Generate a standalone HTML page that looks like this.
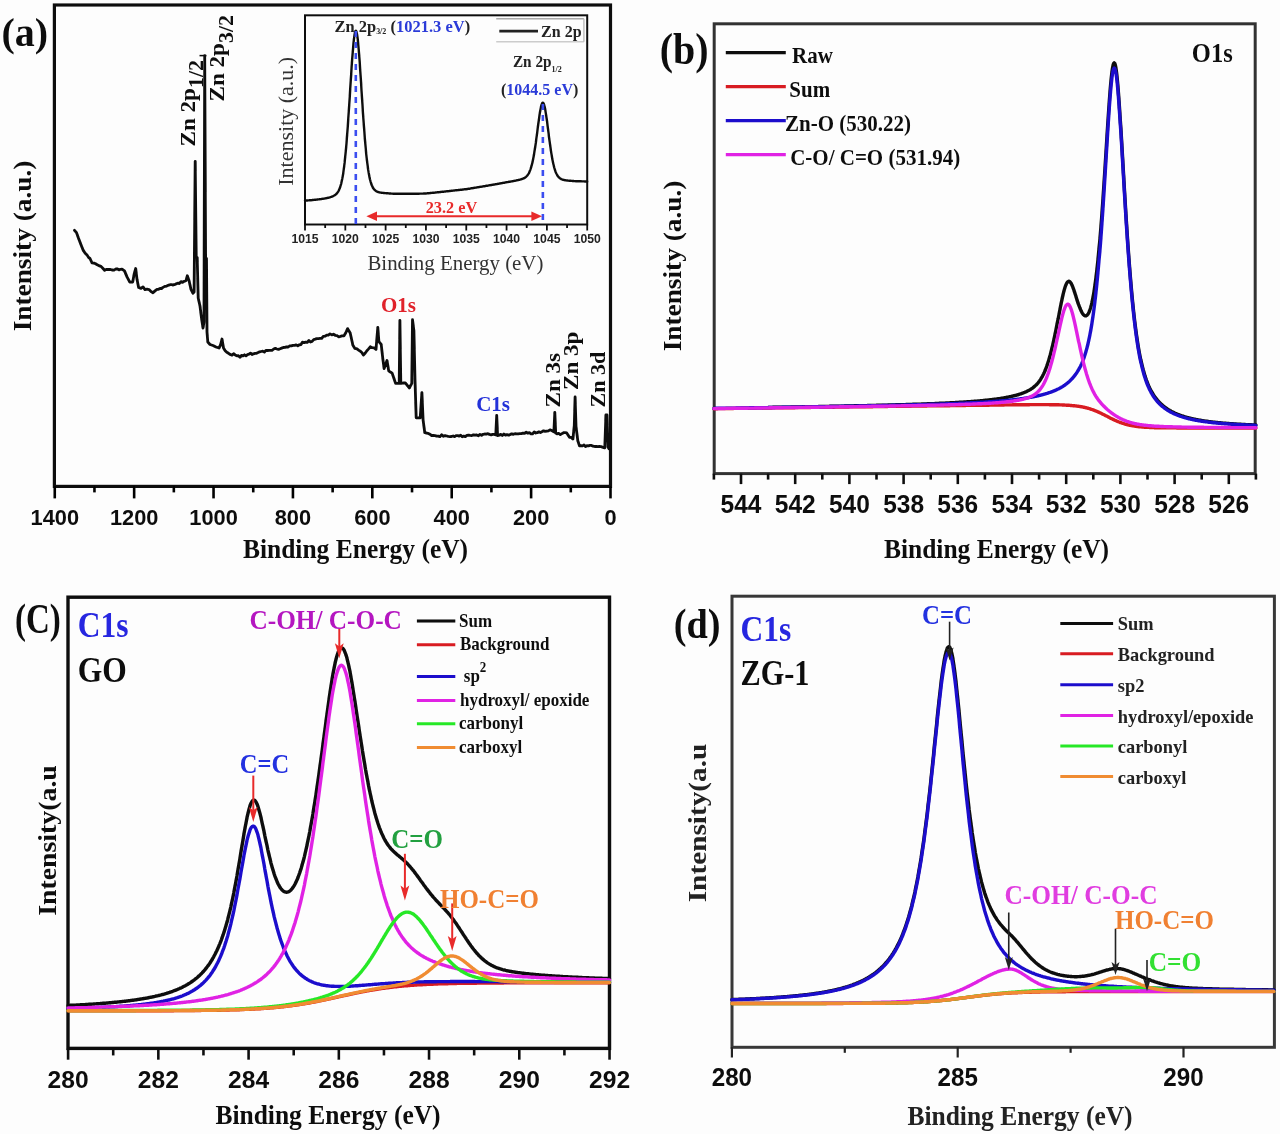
<!DOCTYPE html>
<html><head><meta charset="utf-8"><title>XPS figure</title>
<style>html,body{margin:0;padding:0;background:#fff;width:1280px;height:1134px;overflow:hidden}svg{display:block}</style>
</head><body>
<svg width="1280" height="1134" viewBox="0 0 1280 1134">
<defs><filter id="soft" x="0" y="0" width="1280" height="1134" filterUnits="userSpaceOnUse"><feGaussianBlur stdDeviation="0.45"/></filter></defs>
<rect x="0" y="0" width="1280" height="1134" fill="#fdfdfd"/>
<g filter="url(#soft)">
<rect x="54.40" y="5.00" width="556.10" height="481.40" fill="none" stroke="#111" stroke-width="3.2"/>
<line x1="610.50" y1="486.40" x2="610.50" y2="498.40" stroke="#000" stroke-width="2.6"/>
<line x1="570.80" y1="486.40" x2="570.80" y2="492.40" stroke="#000" stroke-width="2.6"/>
<line x1="531.11" y1="486.40" x2="531.11" y2="498.40" stroke="#000" stroke-width="2.6"/>
<line x1="491.41" y1="486.40" x2="491.41" y2="492.40" stroke="#000" stroke-width="2.6"/>
<line x1="451.72" y1="486.40" x2="451.72" y2="498.40" stroke="#000" stroke-width="2.6"/>
<line x1="412.02" y1="486.40" x2="412.02" y2="492.40" stroke="#000" stroke-width="2.6"/>
<line x1="372.32" y1="486.40" x2="372.32" y2="498.40" stroke="#000" stroke-width="2.6"/>
<line x1="332.63" y1="486.40" x2="332.63" y2="492.40" stroke="#000" stroke-width="2.6"/>
<line x1="292.93" y1="486.40" x2="292.93" y2="498.40" stroke="#000" stroke-width="2.6"/>
<line x1="253.24" y1="486.40" x2="253.24" y2="492.40" stroke="#000" stroke-width="2.6"/>
<line x1="213.54" y1="486.40" x2="213.54" y2="498.40" stroke="#000" stroke-width="2.6"/>
<line x1="173.84" y1="486.40" x2="173.84" y2="492.40" stroke="#000" stroke-width="2.6"/>
<line x1="134.15" y1="486.40" x2="134.15" y2="498.40" stroke="#000" stroke-width="2.6"/>
<line x1="94.45" y1="486.40" x2="94.45" y2="492.40" stroke="#000" stroke-width="2.6"/>
<line x1="54.76" y1="486.40" x2="54.76" y2="498.40" stroke="#000" stroke-width="2.6"/>
<text transform="translate(610.50,524.50) scale(1.0,1.04)" font-family='"Liberation Sans", sans-serif' font-weight="bold" font-size="21.8" fill="#111" text-anchor="middle">0</text>
<text transform="translate(531.11,524.50) scale(1.0,1.04)" font-family='"Liberation Sans", sans-serif' font-weight="bold" font-size="21.8" fill="#111" text-anchor="middle">200</text>
<text transform="translate(451.72,524.50) scale(1.0,1.04)" font-family='"Liberation Sans", sans-serif' font-weight="bold" font-size="21.8" fill="#111" text-anchor="middle">400</text>
<text transform="translate(372.32,524.50) scale(1.0,1.04)" font-family='"Liberation Sans", sans-serif' font-weight="bold" font-size="21.8" fill="#111" text-anchor="middle">600</text>
<text transform="translate(292.93,524.50) scale(1.0,1.04)" font-family='"Liberation Sans", sans-serif' font-weight="bold" font-size="21.8" fill="#111" text-anchor="middle">800</text>
<text transform="translate(213.54,524.50) scale(1.0,1.04)" font-family='"Liberation Sans", sans-serif' font-weight="bold" font-size="21.8" fill="#111" text-anchor="middle">1000</text>
<text transform="translate(134.15,524.50) scale(1.0,1.04)" font-family='"Liberation Sans", sans-serif' font-weight="bold" font-size="21.8" fill="#111" text-anchor="middle">1200</text>
<text transform="translate(54.76,524.50) scale(1.0,1.04)" font-family='"Liberation Sans", sans-serif' font-weight="bold" font-size="21.8" fill="#111" text-anchor="middle">1400</text>
<text transform="translate(355.50,557.60) scale(1.0,1.1)" font-family='"Liberation Serif", serif' font-weight="bold" font-size="25.5" fill="#111" text-anchor="middle">Binding Energy (eV)</text>
<text transform="translate(30.50,246.00) scale(1.0,1.12) rotate(-90)" font-family='"Liberation Serif", serif' font-weight="bold" font-size="24.4" fill="#111" text-anchor="middle">Intensity (a.u.)</text>
<text transform="translate(1.50,46.00) scale(1.0,1.0)" font-family='"Liberation Serif", serif' font-weight="bold" font-size="40" fill="#111" text-anchor="start">(a)</text>
<polyline points="74.5,230.3 76.5,232.6 78.5,238.2 81.0,244.7 83.3,250.4 85.2,253.2 87.0,254.9 88.5,257.4 90.0,258.5 92.0,262.8 94.0,263.1 95.6,263.8 97.2,264.8 98.8,265.6 101.0,266.4 102.8,268.3 104.6,270.3 106.3,269.4 108.0,269.5 110.0,269.4 112.0,270.0 114.0,270.1 116.0,268.8 117.5,269.0 119.0,269.9 120.5,269.3 122.0,269.1 124.5,270.9 127.0,276.9 129.8,282.2 132.7,282.1 134.2,273.8 135.7,268.5 137.0,279.3 138.6,287.5 141.0,288.4 143.0,286.9 145.0,289.6 147.0,289.2 149.0,289.6 151.0,291.6 153.0,292.7 155.0,290.9 157.0,289.4 158.5,289.3 160.0,288.5 161.5,288.5 163.0,287.4 164.8,286.4 166.7,286.1 168.8,285.1 171.0,284.5 172.7,285.0 174.3,284.7 176.0,283.9 177.7,283.2 179.3,283.5 181.0,281.6 182.5,282.4 184.0,281.3 186.0,280.7 187.3,275.8 189.0,280.5 191.0,289.4 192.9,293.2 194.1,292.0 195.2,161.3 196.2,257.0 197.2,257.5 198.2,298.0 200.0,306.0 201.5,318.0 203.0,328.0 204.0,322.0 204.7,55.6 205.6,258.0 206.5,258.5 207.0,332.0 207.8,342.0 210.0,344.5 211.5,345.0 213.0,345.5 214.5,346.2 216.0,347.0 217.5,347.5 219.0,348.0 220.5,345.0 222.0,339.0 223.5,348.0 225.2,350.7 226.8,352.3 228.5,353.3 230.3,354.5 232.0,355.1 233.6,353.7 235.2,355.0 236.8,355.8 238.4,355.7 240.0,357.3 241.5,355.4 243.0,355.9 244.5,354.8 246.0,355.8 247.5,354.7 249.0,354.2 250.5,353.1 252.0,354.6 253.5,353.8 255.0,353.4 256.6,353.3 258.1,352.6 259.7,351.8 261.2,351.5 262.8,351.2 264.4,352.1 265.9,350.3 267.5,350.5 269.1,350.3 270.6,350.4 272.2,350.3 273.7,349.0 275.3,348.4 276.9,349.0 278.5,349.4 280.1,348.8 281.7,348.1 283.3,347.5 285.0,347.4 286.6,346.8 288.2,347.0 289.8,345.8 291.4,345.9 293.0,345.4 294.6,345.4 296.2,344.9 297.8,345.8 299.4,344.8 301.0,344.5 302.5,342.1 304.1,342.7 305.7,342.2 307.3,342.4 308.9,340.5 310.5,342.0 312.1,341.4 313.7,339.6 315.2,339.2 316.8,338.7 318.4,338.6 320.0,338.4 321.7,338.4 323.3,336.4 325.0,336.2 326.7,335.1 328.3,335.2 330.0,333.9 331.8,334.9 333.5,334.2 335.2,335.3 337.0,335.6 338.8,336.8 340.5,336.4 342.2,335.8 344.0,335.8 345.8,332.8 347.6,328.6 350.2,333.0 352.9,345.3 354.9,348.4 357.0,348.9 358.6,350.1 360.2,351.2 361.8,352.5 363.4,355.0 365.1,353.2 366.9,350.7 368.6,348.9 370.3,346.8 372.2,347.7 374.1,347.8 376.0,349.3 377.8,327.3 378.9,341.7 381.2,344.4 382.9,359.3 384.1,368.5 387.0,360.5 388.7,370.8 390.4,372.0 392.1,373.1 393.9,378.2 395.6,383.4 397.4,383.4 399.2,383.4 399.9,320.3 400.8,383.4 402.3,383.2 403.8,383.0 405.3,382.8 407.3,385.4 409.3,388.0 411.8,383.4 412.5,319.7 413.9,330.6 415.0,380.0 416.2,417.8 418.2,417.8 420.2,417.8 421.9,392.6 423.1,420.1 424.8,432.7 426.5,433.0 428.2,433.4 430.0,434.3 431.7,435.5 433.4,435.4 435.0,435.6 436.7,436.1 438.4,436.1 440.0,436.7 441.7,434.7 443.3,436.3 445.0,435.6 446.7,436.0 448.3,436.4 450.0,436.6 451.5,436.5 453.1,436.0 454.6,436.7 456.1,435.6 457.6,435.7 459.2,436.1 460.7,435.3 462.2,436.8 463.8,436.1 465.3,436.7 466.9,435.4 468.6,435.1 470.2,435.4 471.8,435.6 473.5,434.8 475.1,435.2 476.7,434.9 478.4,435.8 480.0,434.4 481.6,435.3 483.2,434.3 484.7,434.0 486.3,434.1 487.9,433.7 489.5,434.4 491.1,434.8 492.6,434.3 494.2,434.4 495.8,434.9 496.7,415.3 497.6,435.6 499.2,435.2 500.8,434.3 502.3,435.5 503.9,434.0 505.5,435.2 507.1,434.7 508.7,435.2 510.3,434.4 511.8,433.8 513.4,434.3 515.0,433.7 516.6,433.8 518.2,433.9 519.8,433.7 521.4,433.6 523.0,433.1 524.6,433.4 526.2,432.2 527.8,433.2 529.4,432.6 531.0,433.8 532.6,433.8 534.2,431.9 535.8,433.0 537.3,432.6 538.9,431.9 540.4,432.5 541.9,431.7 543.5,430.8 545.0,431.4 546.7,431.1 548.4,430.9 550.0,429.8 551.7,430.5 553.9,431.9 554.8,412.4 555.7,433.1 557.0,433.8 558.7,433.4 560.3,434.6 562.0,433.6 563.6,432.7 565.1,432.7 566.7,432.9 569.5,437.3 571.2,437.4 572.9,439.1 574.3,425.3 575.1,397.0 576.0,426.3 577.8,440.7 579.5,445.9 581.0,445.6 582.5,445.9 584.0,445.0 585.5,446.6 587.0,445.6 588.5,445.8 590.0,445.3 591.5,445.4 593.1,446.2 594.6,446.5 596.2,446.4 597.8,446.7 599.3,446.5 601.1,446.7 603.0,447.3 604.8,447.9 605.9,415.0 607.0,415.0 608.0,447.0 609.0,448.7" fill="none" stroke="#0a0a0a" stroke-width="2.8" stroke-linejoin="round" stroke-linecap="round"/>
<line x1="199.50" y1="55.60" x2="206.50" y2="55.60" stroke="#111" stroke-width="1.5"/>
<text transform="translate(381.00,312.00) scale(1.0,1.0)" font-family='"Liberation Serif", serif' font-weight="bold" font-size="21" fill="#e0202a" text-anchor="start">O1s</text>
<text transform="translate(476.20,410.80) scale(1.0,1.0)" font-family='"Liberation Serif", serif' font-weight="bold" font-size="21" fill="#2430d8" text-anchor="start">C1s</text>
<text transform="translate(194.80,146.50) scale(1,1.1) rotate(-90)" font-family='"Liberation Serif", serif' font-weight="bold" font-size="21" fill="#111">Zn 2p<tspan dy="8.5" font-size="20">1/2</tspan></text>
<text transform="translate(224.30,101.50) scale(1,1.1) rotate(-90)" font-family='"Liberation Serif", serif' font-weight="bold" font-size="21" fill="#111">Zn 2p<tspan dy="8.5" font-size="20">3/2</tspan></text>
<text transform="translate(560.00,407.50) scale(1.0,1.1) rotate(-90)" font-family='"Liberation Serif", serif' font-weight="bold" font-size="21" fill="#111" text-anchor="start">Zn 3s</text>
<text transform="translate(577.80,390.00) scale(1.0,1.1) rotate(-90)" font-family='"Liberation Serif", serif' font-weight="bold" font-size="21" fill="#111" text-anchor="start">Zn 3p</text>
<text transform="translate(605.00,407.50) scale(1.0,1.1) rotate(-90)" font-family='"Liberation Serif", serif' font-weight="bold" font-size="20" fill="#111" text-anchor="start">Zn 3d</text>
<rect x="305.00" y="15.30" width="282.20" height="209.20" fill="none" stroke="#111" stroke-width="2"/>
<line x1="305.00" y1="224.50" x2="305.00" y2="230.50" stroke="#111" stroke-width="1.8"/>
<line x1="325.16" y1="224.50" x2="325.16" y2="228.00" stroke="#111" stroke-width="1.8"/>
<line x1="345.31" y1="224.50" x2="345.31" y2="230.50" stroke="#111" stroke-width="1.8"/>
<line x1="365.47" y1="224.50" x2="365.47" y2="228.00" stroke="#111" stroke-width="1.8"/>
<line x1="385.63" y1="224.50" x2="385.63" y2="230.50" stroke="#111" stroke-width="1.8"/>
<line x1="405.79" y1="224.50" x2="405.79" y2="228.00" stroke="#111" stroke-width="1.8"/>
<line x1="425.94" y1="224.50" x2="425.94" y2="230.50" stroke="#111" stroke-width="1.8"/>
<line x1="446.10" y1="224.50" x2="446.10" y2="228.00" stroke="#111" stroke-width="1.8"/>
<line x1="466.26" y1="224.50" x2="466.26" y2="230.50" stroke="#111" stroke-width="1.8"/>
<line x1="486.42" y1="224.50" x2="486.42" y2="228.00" stroke="#111" stroke-width="1.8"/>
<line x1="506.58" y1="224.50" x2="506.58" y2="230.50" stroke="#111" stroke-width="1.8"/>
<line x1="526.73" y1="224.50" x2="526.73" y2="228.00" stroke="#111" stroke-width="1.8"/>
<line x1="546.89" y1="224.50" x2="546.89" y2="230.50" stroke="#111" stroke-width="1.8"/>
<line x1="567.05" y1="224.50" x2="567.05" y2="228.00" stroke="#111" stroke-width="1.8"/>
<line x1="587.21" y1="224.50" x2="587.21" y2="230.50" stroke="#111" stroke-width="1.8"/>
<text transform="translate(305.00,243.30) scale(1.0,1.03)" font-family='"Liberation Sans", sans-serif' font-weight="bold" font-size="12.2" fill="#222" text-anchor="middle">1015</text>
<text transform="translate(345.31,243.30) scale(1.0,1.03)" font-family='"Liberation Sans", sans-serif' font-weight="bold" font-size="12.2" fill="#222" text-anchor="middle">1020</text>
<text transform="translate(385.63,243.30) scale(1.0,1.03)" font-family='"Liberation Sans", sans-serif' font-weight="bold" font-size="12.2" fill="#222" text-anchor="middle">1025</text>
<text transform="translate(425.94,243.30) scale(1.0,1.03)" font-family='"Liberation Sans", sans-serif' font-weight="bold" font-size="12.2" fill="#222" text-anchor="middle">1030</text>
<text transform="translate(466.26,243.30) scale(1.0,1.03)" font-family='"Liberation Sans", sans-serif' font-weight="bold" font-size="12.2" fill="#222" text-anchor="middle">1035</text>
<text transform="translate(506.58,243.30) scale(1.0,1.03)" font-family='"Liberation Sans", sans-serif' font-weight="bold" font-size="12.2" fill="#222" text-anchor="middle">1040</text>
<text transform="translate(546.89,243.30) scale(1.0,1.03)" font-family='"Liberation Sans", sans-serif' font-weight="bold" font-size="12.2" fill="#222" text-anchor="middle">1045</text>
<text transform="translate(587.21,243.30) scale(1.0,1.03)" font-family='"Liberation Sans", sans-serif' font-weight="bold" font-size="12.2" fill="#222" text-anchor="middle">1050</text>
<text transform="translate(455.40,270.40) scale(1.0,0.98)" font-family='"Liberation Serif", serif' font-weight="normal" font-size="20.9" fill="#333" text-anchor="middle">Binding Energy (eV)</text>
<text transform="translate(292.60,121.30) scale(1.0,1.1) rotate(-90)" font-family='"Liberation Serif", serif' font-weight="normal" font-size="20" fill="#333" text-anchor="middle">Intensity (a.u.)</text>
<polyline points="305.0,200.6 305.5,200.6 305.9,200.6 306.4,200.5 306.9,200.5 307.4,200.5 307.8,200.4 308.3,200.4 308.8,200.4 309.2,200.3 309.7,200.3 310.2,200.2 310.7,200.2 311.1,200.2 311.6,200.1 312.1,200.1 312.5,200.0 313.0,200.0 313.5,199.9 314.0,199.9 314.4,199.8 314.9,199.8 315.4,199.7 315.8,199.7 316.3,199.6 316.8,199.6 317.2,199.5 317.7,199.5 318.2,199.4 318.7,199.4 319.1,199.3 319.6,199.3 320.1,199.2 320.5,199.1 321.0,199.1 321.5,199.0 322.0,198.9 322.4,198.9 322.9,198.8 323.4,198.7 323.8,198.6 324.3,198.6 324.8,198.5 325.3,198.4 325.7,198.3 326.2,198.2 326.7,198.1 327.1,198.0 327.6,197.9 328.1,197.8 328.6,197.7 329.0,197.6 329.5,197.5 330.0,197.3 330.4,197.2 330.9,197.0 331.4,196.8 331.9,196.7 332.3,196.5 332.8,196.3 333.3,196.0 333.7,195.8 334.2,195.5 334.7,195.2 335.2,194.9 335.6,194.6 336.1,194.1 336.6,193.7 337.0,193.2 337.5,192.6 338.0,191.9 338.5,191.1 338.9,190.2 339.4,189.1 339.9,188.0 340.3,186.6 340.8,185.0 341.3,183.3 341.7,181.3 342.2,179.0 342.7,176.4 343.2,173.6 343.6,170.4 344.1,166.8 344.6,162.9 345.0,158.6 345.5,153.9 346.0,148.9 346.5,143.4 346.9,137.6 347.4,131.4 347.9,124.9 348.3,118.0 348.8,111.0 349.3,103.7 349.8,96.3 350.2,88.9 350.7,81.4 351.2,74.1 351.6,67.0 352.1,60.2 352.6,53.9 353.1,48.1 353.5,42.9 354.0,38.6 354.5,35.1 354.9,32.6 355.4,31.1 355.9,30.8 356.4,31.5 356.8,33.2 357.3,36.0 357.8,39.7 358.2,44.2 358.7,49.5 359.2,55.5 359.7,61.9 360.1,68.7 360.6,75.8 361.1,83.1 361.5,90.5 362.0,97.9 362.5,105.1 362.9,112.3 363.4,119.2 363.9,125.8 364.4,132.1 364.8,138.1 365.3,143.7 365.8,149.0 366.2,153.8 366.7,158.3 367.2,162.3 367.7,166.0 368.1,169.4 368.6,172.4 369.1,175.0 369.5,177.4 370.0,179.5 370.5,181.3 371.0,182.9 371.4,184.3 371.9,185.5 372.4,186.6 372.8,187.5 373.3,188.3 373.8,188.9 374.3,189.5 374.7,190.0 375.2,190.4 375.7,190.8 376.1,191.1 376.6,191.3 377.1,191.6 377.6,191.8 378.0,192.0 378.5,192.1 379.0,192.2 379.4,192.4 379.9,192.5 380.4,192.6 380.9,192.6 381.3,192.7 381.8,192.8 382.3,192.8 382.7,192.9 383.2,192.9 383.7,193.0 384.1,193.0 384.6,193.1 385.1,193.1 385.6,193.1 386.0,193.2 386.5,193.2 387.0,193.3 387.4,193.3 387.9,193.3 388.4,193.4 388.9,193.4 389.3,193.5 389.8,193.5 390.3,193.5 390.7,193.5 391.2,193.6 391.7,193.6 392.2,193.6 392.6,193.6 393.1,193.7 393.6,193.7 394.0,193.7 394.5,193.7 395.0,193.7 395.5,193.7 395.9,193.7 396.4,193.8 396.9,193.8 397.3,193.8 397.8,193.8 398.3,193.8 398.8,193.8 399.2,193.8 399.7,193.8 400.2,193.8 400.6,193.8 401.1,193.8 401.6,193.8 402.1,193.8 402.5,193.8 403.0,193.8 403.5,193.8 403.9,193.8 404.4,193.8 404.9,193.8 405.4,193.8 405.8,193.8 406.3,193.8 406.8,193.8 407.2,193.8 407.7,193.8 408.2,193.8 408.6,193.8 409.1,193.8 409.6,193.8 410.1,193.8 410.5,193.8 411.0,193.8 411.5,193.8 411.9,193.8 412.4,193.8 412.9,193.8 413.4,193.8 413.8,193.8 414.3,193.7 414.8,193.7 415.2,193.7 415.7,193.7 416.2,193.7 416.7,193.7 417.1,193.7 417.6,193.7 418.1,193.7 418.5,193.7 419.0,193.7 419.5,193.6 420.0,193.6 420.4,193.6 420.9,193.6 421.4,193.6 421.8,193.6 422.3,193.6 422.8,193.6 423.3,193.6 423.7,193.5 424.2,193.5 424.7,193.5 425.1,193.5 425.6,193.5 426.1,193.5 426.6,193.4 427.0,193.4 427.5,193.3 428.0,193.3 428.4,193.2 428.9,193.2 429.4,193.1 429.8,193.1 430.3,193.0 430.8,193.0 431.3,192.9 431.7,192.9 432.2,192.9 432.7,192.8 433.1,192.8 433.6,192.7 434.1,192.7 434.6,192.6 435.0,192.6 435.5,192.5 436.0,192.5 436.4,192.4 436.9,192.4 437.4,192.3 437.9,192.3 438.3,192.2 438.8,192.2 439.3,192.1 439.7,192.1 440.2,192.0 440.7,192.0 441.2,191.9 441.6,191.9 442.1,191.8 442.6,191.8 443.0,191.7 443.5,191.7 444.0,191.6 444.5,191.6 444.9,191.5 445.4,191.5 445.9,191.4 446.3,191.4 446.8,191.3 447.3,191.3 447.8,191.2 448.2,191.2 448.7,191.1 449.2,191.1 449.6,191.0 450.1,191.0 450.6,190.9 451.0,190.8 451.5,190.8 452.0,190.7 452.5,190.7 452.9,190.6 453.4,190.6 453.9,190.5 454.3,190.5 454.8,190.4 455.3,190.4 455.8,190.3 456.2,190.3 456.7,190.2 457.2,190.2 457.6,190.1 458.1,190.1 458.6,190.0 459.1,190.0 459.5,189.9 460.0,189.9 460.5,189.8 460.9,189.8 461.4,189.7 461.9,189.7 462.4,189.6 462.8,189.5 463.3,189.5 463.8,189.4 464.2,189.4 464.7,189.3 465.2,189.3 465.7,189.2 466.1,189.2 466.6,189.1 467.1,189.0 467.5,189.0 468.0,188.9 468.5,188.8 469.0,188.7 469.4,188.7 469.9,188.6 470.4,188.5 470.8,188.4 471.3,188.3 471.8,188.3 472.3,188.2 472.7,188.1 473.2,188.0 473.7,188.0 474.1,187.9 474.6,187.8 475.1,187.7 475.5,187.6 476.0,187.6 476.5,187.5 477.0,187.4 477.4,187.3 477.9,187.3 478.4,187.2 478.8,187.1 479.3,187.0 479.8,186.9 480.3,186.9 480.7,186.8 481.2,186.7 481.7,186.6 482.1,186.6 482.6,186.5 483.1,186.4 483.6,186.3 484.0,186.2 484.5,186.2 485.0,186.1 485.4,186.0 485.9,185.9 486.4,185.8 486.9,185.8 487.3,185.7 487.8,185.6 488.3,185.5 488.7,185.4 489.2,185.4 489.7,185.3 490.2,185.2 490.6,185.1 491.1,185.0 491.6,185.0 492.0,184.9 492.5,184.8 493.0,184.7 493.5,184.6 493.9,184.5 494.4,184.5 494.9,184.4 495.3,184.3 495.8,184.2 496.3,184.1 496.7,184.1 497.2,184.0 497.7,183.9 498.2,183.8 498.6,183.7 499.1,183.6 499.6,183.5 500.0,183.5 500.5,183.4 501.0,183.3 501.5,183.2 501.9,183.1 502.4,183.0 502.9,182.9 503.3,182.9 503.8,182.8 504.3,182.7 504.8,182.6 505.2,182.5 505.7,182.4 506.2,182.3 506.6,182.2 507.1,182.1 507.6,182.1 508.1,182.0 508.5,181.9 509.0,181.8 509.5,181.8 509.9,181.7 510.4,181.6 510.9,181.5 511.4,181.4 511.8,181.4 512.3,181.3 512.8,181.2 513.2,181.1 513.7,181.0 514.2,180.9 514.7,180.8 515.1,180.7 515.6,180.6 516.1,180.5 516.5,180.4 517.0,180.3 517.5,180.2 517.9,180.1 518.4,180.0 518.9,179.9 519.4,179.8 519.8,179.7 520.3,179.5 520.8,179.4 521.2,179.3 521.7,179.1 522.2,178.9 522.7,178.8 523.1,178.6 523.6,178.4 524.1,178.1 524.5,177.9 525.0,177.6 525.5,177.3 526.0,176.9 526.4,176.5 526.9,176.0 527.4,175.5 527.8,174.8 528.3,174.1 528.8,173.3 529.3,172.4 529.7,171.3 530.2,170.1 530.7,168.7 531.1,167.3 531.6,165.7 532.1,163.8 532.6,161.9 533.0,159.7 533.5,157.2 534.0,154.6 534.4,151.8 534.9,148.8 535.4,145.7 535.9,142.4 536.3,138.9 536.8,135.4 537.3,131.8 537.7,128.1 538.2,124.5 538.7,121.0 539.2,117.6 539.6,114.4 540.1,111.5 540.6,108.9 541.0,106.7 541.5,104.9 542.0,103.6 542.4,102.9 542.9,102.7 543.4,103.1 543.9,104.0 544.3,105.5 544.8,107.4 545.3,109.8 545.7,112.6 546.2,115.6 546.7,119.0 547.2,122.4 547.6,126.0 548.1,129.7 548.6,133.4 549.0,137.1 549.5,140.6 550.0,144.1 550.5,147.5 550.9,150.6 551.4,153.6 551.9,156.5 552.3,159.1 552.8,161.5 553.3,163.7 553.8,165.7 554.2,167.5 554.7,169.1 555.2,170.6 555.6,171.9 556.1,173.0 556.6,174.0 557.1,174.9 557.5,175.7 558.0,176.3 558.5,176.9 558.9,177.4 559.4,177.8 559.9,178.2 560.4,178.5 560.8,178.8 561.3,179.1 561.8,179.3 562.2,179.5 562.7,179.7 563.2,179.8 563.6,179.9 564.1,180.0 564.6,180.1 565.1,180.2 565.5,180.3 566.0,180.4 566.5,180.4 566.9,180.5 567.4,180.5 567.9,180.6 568.4,180.6 568.8,180.7 569.3,180.7 569.8,180.8 570.2,180.8 570.7,180.8 571.2,180.9 571.7,180.9 572.1,180.9 572.6,181.0 573.1,181.0 573.5,181.0 574.0,181.1 574.5,181.1 575.0,181.1 575.4,181.1 575.9,181.2 576.4,181.2 576.8,181.2 577.3,181.2 577.8,181.2 578.3,181.3 578.7,181.3 579.2,181.3 579.7,181.3 580.1,181.3 580.6,181.3 581.1,181.3 581.6,181.4 582.0,181.4 582.5,181.4 583.0,181.4 583.4,181.4 583.9,181.4 584.4,181.4 584.8,181.5 585.3,181.5 585.8,181.5 586.3,181.5 586.7,181.5 587.2,181.5" fill="none" stroke="#111" stroke-width="2.4" stroke-linejoin="round" stroke-linecap="round"/>
<line x1="355.80" y1="31.00" x2="355.80" y2="224.00" stroke="#3a4ef0" stroke-width="2.6" stroke-dasharray="6,5"/>
<line x1="542.86" y1="104.00" x2="542.86" y2="222.00" stroke="#3a4ef0" stroke-width="2.6" stroke-dasharray="6,5"/>
<line x1="374.00" y1="216.25" x2="534.00" y2="216.25" stroke="#e82a2a" stroke-width="2.2"/>
<polygon points="366.4,216.25 377,211.5 377,221" fill="#e82a2a"/>
<polygon points="542,216.25 531.4,211.5 531.4,221" fill="#e82a2a"/>
<text transform="translate(451.40,213.00) scale(1.0,1.0)" font-family='"Liberation Serif", serif' font-weight="bold" font-size="16.3" fill="#e82a2a" text-anchor="middle">23.2 eV</text>
<line x1="496.20" y1="18.80" x2="583.90" y2="18.80" stroke="#aaa" stroke-width="1.6"/>
<line x1="496.20" y1="41.70" x2="583.90" y2="41.70" stroke="#ccc" stroke-width="1.6"/>
<line x1="583.90" y1="18.80" x2="583.90" y2="41.70" stroke="#bbb" stroke-width="1.4"/>
<line x1="499.30" y1="31.20" x2="538.00" y2="31.20" stroke="#222" stroke-width="2.8"/>
<text transform="translate(541.10,36.50) scale(1.0,1.0)" font-family='"Liberation Serif", serif' font-weight="bold" font-size="16" fill="#222" text-anchor="start">Zn 2p</text>
<text transform="translate(334.4,31.5) scale(1,0.98)" font-family='"Liberation Serif", serif' font-weight="bold" font-size="16.5" fill="#222">Zn 2p<tspan font-size="8" dy="3">3/2</tspan><tspan dy="-3" font-size="16.5"> (</tspan><tspan fill="#2a3ad8" font-size="16.5">1021.3 eV</tspan>)</text>
<text transform="translate(512.9,67.3) scale(1,1.05)" font-family='"Liberation Serif", serif' font-weight="bold" font-size="15.3" fill="#222">Zn 2p<tspan font-size="8" dy="4">1/2</tspan></text>
<text transform="translate(501,94.7) scale(1,1.05)" font-family='"Liberation Serif", serif' font-weight="bold" font-size="16" fill="#2a3ad8"><tspan fill="#222">(</tspan>1044.5 eV<tspan fill="#222">)</tspan></text>
<rect x="714.20" y="23.80" width="541.00" height="449.80" fill="none" stroke="#333" stroke-width="3.0"/>
<line x1="1255.90" y1="473.60" x2="1255.90" y2="479.60" stroke="#111" stroke-width="2.6"/>
<line x1="1228.80" y1="473.60" x2="1228.80" y2="484.10" stroke="#111" stroke-width="2.6"/>
<line x1="1201.70" y1="473.60" x2="1201.70" y2="479.60" stroke="#111" stroke-width="2.6"/>
<line x1="1174.60" y1="473.60" x2="1174.60" y2="484.10" stroke="#111" stroke-width="2.6"/>
<line x1="1147.50" y1="473.60" x2="1147.50" y2="479.60" stroke="#111" stroke-width="2.6"/>
<line x1="1120.40" y1="473.60" x2="1120.40" y2="484.10" stroke="#111" stroke-width="2.6"/>
<line x1="1093.30" y1="473.60" x2="1093.30" y2="479.60" stroke="#111" stroke-width="2.6"/>
<line x1="1066.20" y1="473.60" x2="1066.20" y2="484.10" stroke="#111" stroke-width="2.6"/>
<line x1="1039.10" y1="473.60" x2="1039.10" y2="479.60" stroke="#111" stroke-width="2.6"/>
<line x1="1012.00" y1="473.60" x2="1012.00" y2="484.10" stroke="#111" stroke-width="2.6"/>
<line x1="984.90" y1="473.60" x2="984.90" y2="479.60" stroke="#111" stroke-width="2.6"/>
<line x1="957.80" y1="473.60" x2="957.80" y2="484.10" stroke="#111" stroke-width="2.6"/>
<line x1="930.70" y1="473.60" x2="930.70" y2="479.60" stroke="#111" stroke-width="2.6"/>
<line x1="903.60" y1="473.60" x2="903.60" y2="484.10" stroke="#111" stroke-width="2.6"/>
<line x1="876.50" y1="473.60" x2="876.50" y2="479.60" stroke="#111" stroke-width="2.6"/>
<line x1="849.40" y1="473.60" x2="849.40" y2="484.10" stroke="#111" stroke-width="2.6"/>
<line x1="822.30" y1="473.60" x2="822.30" y2="479.60" stroke="#111" stroke-width="2.6"/>
<line x1="795.20" y1="473.60" x2="795.20" y2="484.10" stroke="#111" stroke-width="2.6"/>
<line x1="768.10" y1="473.60" x2="768.10" y2="479.60" stroke="#111" stroke-width="2.6"/>
<line x1="741.00" y1="473.60" x2="741.00" y2="484.10" stroke="#111" stroke-width="2.6"/>
<line x1="713.90" y1="473.60" x2="713.90" y2="479.60" stroke="#111" stroke-width="2.6"/>
<text transform="translate(1228.80,512.60) scale(1.0,1.06)" font-family='"Liberation Sans", sans-serif' font-weight="bold" font-size="24.5" fill="#111" text-anchor="middle">526</text>
<text transform="translate(1174.60,512.60) scale(1.0,1.06)" font-family='"Liberation Sans", sans-serif' font-weight="bold" font-size="24.5" fill="#111" text-anchor="middle">528</text>
<text transform="translate(1120.40,512.60) scale(1.0,1.06)" font-family='"Liberation Sans", sans-serif' font-weight="bold" font-size="24.5" fill="#111" text-anchor="middle">530</text>
<text transform="translate(1066.20,512.60) scale(1.0,1.06)" font-family='"Liberation Sans", sans-serif' font-weight="bold" font-size="24.5" fill="#111" text-anchor="middle">532</text>
<text transform="translate(1012.00,512.60) scale(1.0,1.06)" font-family='"Liberation Sans", sans-serif' font-weight="bold" font-size="24.5" fill="#111" text-anchor="middle">534</text>
<text transform="translate(957.80,512.60) scale(1.0,1.06)" font-family='"Liberation Sans", sans-serif' font-weight="bold" font-size="24.5" fill="#111" text-anchor="middle">536</text>
<text transform="translate(903.60,512.60) scale(1.0,1.06)" font-family='"Liberation Sans", sans-serif' font-weight="bold" font-size="24.5" fill="#111" text-anchor="middle">538</text>
<text transform="translate(849.40,512.60) scale(1.0,1.06)" font-family='"Liberation Sans", sans-serif' font-weight="bold" font-size="24.5" fill="#111" text-anchor="middle">540</text>
<text transform="translate(795.20,512.60) scale(1.0,1.06)" font-family='"Liberation Sans", sans-serif' font-weight="bold" font-size="24.5" fill="#111" text-anchor="middle">542</text>
<text transform="translate(741.00,512.60) scale(1.0,1.06)" font-family='"Liberation Sans", sans-serif' font-weight="bold" font-size="24.5" fill="#111" text-anchor="middle">544</text>
<text transform="translate(996.50,558.00) scale(1.0,1.1)" font-family='"Liberation Serif", serif' font-weight="bold" font-size="25.5" fill="#111" text-anchor="middle">Binding Energy (eV)</text>
<text transform="translate(680.50,266.00) scale(1.0,1.12) rotate(-90)" font-family='"Liberation Serif", serif' font-weight="bold" font-size="24.4" fill="#111" text-anchor="middle">Intensity (a.u.)</text>
<text transform="translate(659.70,63.50) scale(1.0,1.1)" font-family='"Liberation Serif", serif' font-weight="bold" font-size="40" fill="#111" text-anchor="start">(b)</text>
<text transform="translate(1232.70,61.60) scale(1.0,1.1)" font-family='"Liberation Serif", serif' font-weight="bold" font-size="24.5" fill="#111" text-anchor="end">O1s</text>
<line x1="725.80" y1="52.60" x2="785.80" y2="52.60" stroke="#0a0a0a" stroke-width="3.2"/>
<line x1="725.80" y1="86.63" x2="785.80" y2="86.63" stroke="#d81c20" stroke-width="3.2"/>
<line x1="725.80" y1="120.66" x2="785.80" y2="120.66" stroke="#1a0ccc" stroke-width="3.2"/>
<line x1="725.80" y1="154.69" x2="785.80" y2="154.69" stroke="#e024e4" stroke-width="3.2"/>
<text transform="translate(792.00,62.60) scale(1.0,1.1)" font-family='"Liberation Serif", serif' font-weight="bold" font-size="21" fill="#111" text-anchor="start">Raw</text>
<text transform="translate(789.30,96.63) scale(1.0,1.1)" font-family='"Liberation Serif", serif' font-weight="bold" font-size="21" fill="#111" text-anchor="start">Sum</text>
<text transform="translate(785.00,130.66) scale(1.0,1.1)" font-family='"Liberation Serif", serif' font-weight="bold" font-size="21" fill="#111" text-anchor="start">Zn-O (530.22)</text>
<text transform="translate(790.20,164.69) scale(1.0,1.1)" font-family='"Liberation Serif", serif' font-weight="bold" font-size="21" fill="#111" text-anchor="start">C-O/ C=O (531.94)</text>
<polyline points="1255.9,425.0 1255.3,425.0 1254.7,425.0 1254.1,425.0 1253.5,424.9 1252.9,424.9 1252.3,424.9 1251.7,424.9 1251.1,424.8 1250.5,424.8 1249.9,424.8 1249.3,424.8 1248.7,424.7 1248.1,424.7 1247.5,424.7 1246.9,424.6 1246.3,424.6 1245.7,424.6 1245.0,424.5 1244.4,424.5 1243.8,424.5 1243.2,424.5 1242.6,424.4 1242.0,424.4 1241.4,424.4 1240.8,424.3 1240.2,424.3 1239.6,424.3 1239.0,424.2 1238.4,424.2 1237.8,424.1 1237.2,424.1 1236.6,424.1 1236.0,424.0 1235.4,424.0 1234.8,424.0 1234.2,423.9 1233.6,423.9 1233.0,423.8 1232.4,423.8 1231.8,423.8 1231.2,423.7 1230.6,423.7 1230.0,423.6 1229.4,423.6 1228.8,423.5 1228.2,423.5 1227.6,423.4 1227.0,423.4 1226.4,423.4 1225.8,423.3 1225.2,423.3 1224.5,423.2 1223.9,423.2 1223.3,423.1 1222.7,423.1 1222.1,423.0 1221.5,422.9 1220.9,422.9 1220.3,422.8 1219.7,422.8 1219.1,422.7 1218.5,422.7 1217.9,422.6 1217.3,422.5 1216.7,422.5 1216.1,422.4 1215.5,422.4 1214.9,422.3 1214.3,422.2 1213.7,422.2 1213.1,422.1 1212.5,422.0 1211.9,421.9 1211.3,421.9 1210.7,421.8 1210.1,421.7 1209.5,421.7 1208.9,421.6 1208.3,421.5 1207.7,421.4 1207.1,421.3 1206.5,421.3 1205.9,421.2 1205.3,421.1 1204.7,421.0 1204.1,420.9 1203.4,420.8 1202.8,420.7 1202.2,420.6 1201.6,420.5 1201.0,420.4 1200.4,420.3 1199.8,420.2 1199.2,420.1 1198.6,420.0 1198.0,419.9 1197.4,419.8 1196.8,419.7 1196.2,419.6 1195.6,419.4 1195.0,419.3 1194.4,419.2 1193.8,419.1 1193.2,418.9 1192.6,418.8 1192.0,418.7 1191.4,418.5 1190.8,418.4 1190.2,418.2 1189.6,418.1 1189.0,417.9 1188.4,417.8 1187.8,417.6 1187.2,417.5 1186.6,417.3 1186.0,417.1 1185.4,417.0 1184.8,416.8 1184.2,416.6 1183.6,416.4 1183.0,416.2 1182.3,416.0 1181.7,415.8 1181.1,415.6 1180.5,415.4 1179.9,415.2 1179.3,414.9 1178.7,414.7 1178.1,414.5 1177.5,414.2 1176.9,414.0 1176.3,413.7 1175.7,413.5 1175.1,413.2 1174.5,412.9 1173.9,412.6 1173.3,412.3 1172.7,412.0 1172.1,411.7 1171.5,411.4 1170.9,411.1 1170.3,410.7 1169.7,410.4 1169.1,410.0 1168.5,409.7 1167.9,409.3 1167.3,408.9 1166.7,408.5 1166.1,408.0 1165.5,407.6 1164.9,407.2 1164.3,406.7 1163.7,406.2 1163.1,405.7 1162.5,405.2 1161.8,404.7 1161.2,404.1 1160.6,403.6 1160.0,403.0 1159.4,402.3 1158.8,401.7 1158.2,401.0 1157.6,400.4 1157.0,399.6 1156.4,398.9 1155.8,398.1 1155.2,397.3 1154.6,396.5 1154.0,395.6 1153.4,394.7 1152.8,393.7 1152.2,392.7 1151.6,391.7 1151.0,390.6 1150.4,389.4 1149.8,388.2 1149.2,386.9 1148.6,385.6 1148.0,384.2 1147.4,382.7 1146.8,381.1 1146.2,379.5 1145.6,377.7 1145.0,375.9 1144.4,373.9 1143.8,371.8 1143.2,369.7 1142.6,367.3 1142.0,364.9 1141.4,362.3 1140.7,359.5 1140.1,356.6 1139.5,353.5 1138.9,350.2 1138.3,346.7 1137.7,343.0 1137.1,339.1 1136.5,335.0 1135.9,330.6 1135.3,326.0 1134.7,321.1 1134.1,315.9 1133.5,310.4 1132.9,304.7 1132.3,298.6 1131.7,292.2 1131.1,285.5 1130.5,278.5 1129.9,271.2 1129.3,263.5 1128.7,255.4 1128.1,247.1 1127.5,238.4 1126.9,229.4 1126.3,220.1 1125.7,210.5 1125.1,200.6 1124.5,190.6 1123.9,180.3 1123.3,169.9 1122.7,159.5 1122.1,149.1 1121.5,138.8 1120.9,128.6 1120.2,118.8 1119.6,109.4 1119.0,100.5 1118.4,92.3 1117.8,84.9 1117.2,78.3 1116.6,72.9 1116.0,68.5 1115.4,65.3 1114.8,63.5 1114.2,62.9 1113.6,63.6 1113.0,65.6 1112.4,68.8 1111.8,73.2 1111.2,78.6 1110.6,85.0 1110.0,92.2 1109.4,100.1 1108.8,108.6 1108.2,117.5 1107.6,126.7 1107.0,136.2 1106.4,145.8 1105.8,155.4 1105.2,165.0 1104.6,174.4 1104.0,183.7 1103.4,192.7 1102.8,201.5 1102.2,210.1 1101.6,218.3 1101.0,226.2 1100.4,233.7 1099.8,240.9 1099.1,247.7 1098.5,254.2 1097.9,260.3 1097.3,266.1 1096.7,271.5 1096.1,276.5 1095.5,281.2 1094.9,285.6 1094.3,289.7 1093.7,293.4 1093.1,296.8 1092.5,299.9 1091.9,302.7 1091.3,305.2 1090.7,307.4 1090.1,309.3 1089.5,311.0 1088.9,312.4 1088.3,313.6 1087.7,314.5 1087.1,315.2 1086.5,315.6 1085.9,315.9 1085.3,315.9 1084.7,315.7 1084.1,315.3 1083.5,314.8 1082.9,314.0 1082.3,313.1 1081.7,312.0 1081.1,310.8 1080.5,309.4 1079.9,308.0 1079.3,306.4 1078.6,304.7 1078.0,302.9 1077.4,301.1 1076.8,299.2 1076.2,297.2 1075.6,295.3 1075.0,293.4 1074.4,291.6 1073.8,289.8 1073.2,288.1 1072.6,286.5 1072.0,285.1 1071.4,283.9 1070.8,282.8 1070.2,282.1 1069.6,281.6 1069.0,281.3 1068.4,281.4 1067.8,281.8 1067.2,282.4 1066.6,283.4 1066.0,284.7 1065.4,286.2 1064.8,288.0 1064.2,290.1 1063.6,292.4 1063.0,294.9 1062.4,297.5 1061.8,300.3 1061.2,303.2 1060.6,306.2 1060.0,309.3 1059.4,312.4 1058.8,315.5 1058.2,318.7 1057.5,321.8 1056.9,324.9 1056.3,328.0 1055.7,331.0 1055.1,333.9 1054.5,336.8 1053.9,339.6 1053.3,342.3 1052.7,345.0 1052.1,347.5 1051.5,350.0 1050.9,352.4 1050.3,354.7 1049.7,356.8 1049.1,358.9 1048.5,360.9 1047.9,362.8 1047.3,364.6 1046.7,366.4 1046.1,368.0 1045.5,369.5 1044.9,371.0 1044.3,372.4 1043.7,373.7 1043.1,374.9 1042.5,376.1 1041.9,377.2 1041.3,378.2 1040.7,379.2 1040.1,380.1 1039.5,381.0 1038.9,381.8 1038.3,382.6 1037.7,383.3 1037.1,384.0 1036.4,384.7 1035.8,385.3 1035.2,385.8 1034.6,386.4 1034.0,386.9 1033.4,387.4 1032.8,387.9 1032.2,388.3 1031.6,388.7 1031.0,389.1 1030.4,389.5 1029.8,389.8 1029.2,390.2 1028.6,390.5 1028.0,390.8 1027.4,391.1 1026.8,391.4 1026.2,391.7 1025.6,392.0 1025.0,392.2 1024.4,392.5 1023.8,392.7 1023.2,393.0 1022.6,393.2 1022.0,393.4 1021.4,393.6 1020.8,393.8 1020.2,394.0 1019.6,394.2 1019.0,394.4 1018.4,394.6 1017.8,394.8 1017.2,394.9 1016.6,395.1 1015.9,395.3 1015.3,395.4 1014.7,395.6 1014.1,395.7 1013.5,395.9 1012.9,396.0 1012.3,396.2 1011.7,396.3 1011.1,396.5 1010.5,396.6 1009.9,396.7 1009.3,396.8 1008.7,397.0 1008.1,397.1 1007.5,397.2 1006.9,397.3 1006.3,397.4 1005.7,397.6 1005.1,397.7 1004.5,397.8 1003.9,397.9 1003.3,398.0 1002.7,398.1 1002.1,398.2 1001.5,398.3 1000.9,398.4 1000.3,398.5 999.7,398.6 999.1,398.6 998.5,398.7 997.9,398.8 997.3,398.9 996.7,399.0 996.1,399.1 995.5,399.2 994.8,399.2 994.2,399.3 993.6,399.4 993.0,399.5 992.4,399.5 991.8,399.6 991.2,399.7 990.6,399.8 990.0,399.8 989.4,399.9 988.8,400.0 988.2,400.0 987.6,400.1 987.0,400.2 986.4,400.2 985.8,400.3 985.2,400.3 984.6,400.4 984.0,400.5 983.4,400.5 982.8,400.6 982.2,400.6 981.6,400.7 981.0,400.8 980.4,400.8 979.8,400.9 979.2,400.9 978.6,401.0 978.0,401.0 977.4,401.1 976.8,401.1 976.2,401.2 975.6,401.2 975.0,401.3 974.3,401.3 973.7,401.4 973.1,401.4 972.5,401.5 971.9,401.5 971.3,401.5 970.7,401.6 970.1,401.6 969.5,401.7 968.9,401.7 968.3,401.8 967.7,401.8 967.1,401.8 966.5,401.9 965.9,401.9 965.3,402.0 964.7,402.0 964.1,402.0 963.5,402.1 962.9,402.1 962.3,402.2 961.7,402.2 961.1,402.2 960.5,402.3 959.9,402.3 959.3,402.3 958.7,402.4 958.1,402.4 957.5,402.4 956.9,402.5 956.3,402.5 955.7,402.5 955.1,402.6 954.5,402.6 953.9,402.6 953.2,402.7 952.6,402.7 952.0,402.7 951.4,402.8 950.8,402.8 950.2,402.8 949.6,402.9 949.0,402.9 948.4,402.9 947.8,403.0 947.2,403.0 946.6,403.0 946.0,403.0 945.4,403.1 944.8,403.1 944.2,403.1 943.6,403.2 943.0,403.2 942.4,403.2 941.8,403.2 941.2,403.3 940.6,403.3 940.0,403.3 939.4,403.3 938.8,403.4 938.2,403.4 937.6,403.4 937.0,403.5 936.4,403.5 935.8,403.5 935.2,403.5 934.6,403.6 934.0,403.6 933.4,403.6 932.7,403.6 932.1,403.6 931.5,403.7 930.9,403.7 930.3,403.7 929.7,403.7 929.1,403.8 928.5,403.8 927.9,403.8 927.3,403.8 926.7,403.9 926.1,403.9 925.5,403.9 924.9,403.9 924.3,403.9 923.7,404.0 923.1,404.0 922.5,404.0 921.9,404.0 921.3,404.1 920.7,404.1 920.1,404.1 919.5,404.1 918.9,404.1 918.3,404.2 917.7,404.2 917.1,404.2 916.5,404.2 915.9,404.2 915.3,404.3 914.7,404.3 914.1,404.3 913.5,404.3 912.9,404.3 912.3,404.4 911.6,404.4 911.0,404.4 910.4,404.4 909.8,404.4 909.2,404.4 908.6,404.5 908.0,404.5 907.4,404.5 906.8,404.5 906.2,404.5 905.6,404.6 905.0,404.6 904.4,404.6 903.8,404.6 903.2,404.6 902.6,404.6 902.0,404.7 901.4,404.7 900.8,404.7 900.2,404.7 899.6,404.7 899.0,404.8 898.4,404.8 897.8,404.8 897.2,404.8 896.6,404.8 896.0,404.8 895.4,404.9 894.8,404.9 894.2,404.9 893.6,404.9 893.0,404.9 892.4,404.9 891.8,405.0 891.2,405.0 890.5,405.0 889.9,405.0 889.3,405.0 888.7,405.0 888.1,405.0 887.5,405.1 886.9,405.1 886.3,405.1 885.7,405.1 885.1,405.1 884.5,405.1 883.9,405.2 883.3,405.2 882.7,405.2 882.1,405.2 881.5,405.2 880.9,405.2 880.3,405.2 879.7,405.3 879.1,405.3 878.5,405.3 877.9,405.3 877.3,405.3 876.7,405.3 876.1,405.4 875.5,405.4 874.9,405.4 874.3,405.4 873.7,405.4 873.1,405.4 872.5,405.4 871.9,405.5 871.3,405.5 870.7,405.5 870.0,405.5 869.4,405.5 868.8,405.5 868.2,405.5 867.6,405.5 867.0,405.6 866.4,405.6 865.8,405.6 865.2,405.6 864.6,405.6 864.0,405.6 863.4,405.6 862.8,405.7 862.2,405.7 861.6,405.7 861.0,405.7 860.4,405.7 859.8,405.7 859.2,405.7 858.6,405.8 858.0,405.8 857.4,405.8 856.8,405.8 856.2,405.8 855.6,405.8 855.0,405.8 854.4,405.8 853.8,405.9 853.2,405.9 852.6,405.9 852.0,405.9 851.4,405.9 850.8,405.9 850.2,405.9 849.6,405.9 848.9,406.0 848.3,406.0 847.7,406.0 847.1,406.0 846.5,406.0 845.9,406.0 845.3,406.0 844.7,406.0 844.1,406.1 843.5,406.1 842.9,406.1 842.3,406.1 841.7,406.1 841.1,406.1 840.5,406.1 839.9,406.1 839.3,406.2 838.7,406.2 838.1,406.2 837.5,406.2 836.9,406.2 836.3,406.2 835.7,406.2 835.1,406.2 834.5,406.2 833.9,406.3 833.3,406.3 832.7,406.3 832.1,406.3 831.5,406.3 830.9,406.3 830.3,406.3 829.7,406.3 829.1,406.4 828.4,406.4 827.8,406.4 827.2,406.4 826.6,406.4 826.0,406.4 825.4,406.4 824.8,406.4 824.2,406.4 823.6,406.5 823.0,406.5 822.4,406.5 821.8,406.5 821.2,406.5 820.6,406.5 820.0,406.5 819.4,406.5 818.8,406.5 818.2,406.6 817.6,406.6 817.0,406.6 816.4,406.6 815.8,406.6 815.2,406.6 814.6,406.6 814.0,406.6 813.4,406.6 812.8,406.7 812.2,406.7 811.6,406.7 811.0,406.7 810.4,406.7 809.8,406.7 809.2,406.7 808.6,406.7 808.0,406.7 807.3,406.8 806.7,406.8 806.1,406.8 805.5,406.8 804.9,406.8 804.3,406.8 803.7,406.8 803.1,406.8 802.5,406.8 801.9,406.9 801.3,406.9 800.7,406.9 800.1,406.9 799.5,406.9 798.9,406.9 798.3,406.9 797.7,406.9 797.1,406.9 796.5,406.9 795.9,407.0 795.3,407.0 794.7,407.0 794.1,407.0 793.5,407.0 792.9,407.0 792.3,407.0 791.7,407.0 791.1,407.0 790.5,407.1 789.9,407.1 789.3,407.1 788.7,407.1 788.1,407.1 787.5,407.1 786.8,407.1 786.2,407.1 785.6,407.1 785.0,407.1 784.4,407.2 783.8,407.2 783.2,407.2 782.6,407.2 782.0,407.2 781.4,407.2 780.8,407.2 780.2,407.2 779.6,407.2 779.0,407.2 778.4,407.3 777.8,407.3 777.2,407.3 776.6,407.3 776.0,407.3 775.4,407.3 774.8,407.3 774.2,407.3 773.6,407.3 773.0,407.3 772.4,407.4 771.8,407.4 771.2,407.4 770.6,407.4 770.0,407.4 769.4,407.4 768.8,407.4 768.2,407.4" fill="none" stroke="#0a0a0a" stroke-width="3.4" stroke-linejoin="round" stroke-linecap="round"/>
<polyline points="1255.9,428.0 1255.3,428.0 1254.7,428.0 1254.1,428.0 1253.5,428.0 1252.9,428.0 1252.3,428.0 1251.7,428.0 1251.1,428.0 1250.5,428.0 1249.9,428.0 1249.3,428.0 1248.7,428.0 1248.1,428.0 1247.5,428.0 1246.9,428.0 1246.3,428.0 1245.7,428.0 1245.0,428.0 1244.4,428.0 1243.8,428.0 1243.2,428.0 1242.6,428.0 1242.0,428.0 1241.4,428.0 1240.8,428.0 1240.2,428.0 1239.6,428.0 1239.0,428.0 1238.4,428.0 1237.8,428.0 1237.2,428.0 1236.6,428.0 1236.0,428.0 1235.4,428.0 1234.8,428.0 1234.2,428.0 1233.6,428.0 1233.0,428.0 1232.4,428.0 1231.8,428.0 1231.2,428.0 1230.6,428.0 1230.0,428.0 1229.4,428.0 1228.8,428.0 1228.2,428.0 1227.6,428.0 1227.0,428.0 1226.4,428.0 1225.8,428.0 1225.2,428.0 1224.5,428.0 1223.9,428.0 1223.3,428.0 1222.7,428.0 1222.1,428.0 1221.5,428.0 1220.9,428.0 1220.3,428.0 1219.7,428.0 1219.1,428.0 1218.5,428.0 1217.9,428.0 1217.3,428.0 1216.7,428.0 1216.1,428.0 1215.5,428.0 1214.9,428.0 1214.3,428.0 1213.7,428.0 1213.1,428.0 1212.5,428.0 1211.9,428.0 1211.3,428.0 1210.7,428.0 1210.1,428.0 1209.5,428.0 1208.9,428.0 1208.3,428.0 1207.7,428.0 1207.1,428.0 1206.5,428.0 1205.9,428.0 1205.3,428.0 1204.7,428.0 1204.1,428.0 1203.4,428.0 1202.8,428.0 1202.2,428.0 1201.6,428.0 1201.0,428.0 1200.4,428.0 1199.8,428.0 1199.2,428.0 1198.6,428.0 1198.0,428.0 1197.4,428.0 1196.8,428.0 1196.2,428.0 1195.6,428.0 1195.0,428.0 1194.4,428.0 1193.8,428.0 1193.2,428.0 1192.6,428.0 1192.0,428.0 1191.4,428.0 1190.8,428.0 1190.2,428.0 1189.6,428.0 1189.0,428.0 1188.4,428.0 1187.8,428.0 1187.2,428.0 1186.6,428.0 1186.0,428.0 1185.4,428.0 1184.8,428.0 1184.2,428.0 1183.6,428.0 1183.0,428.0 1182.3,428.0 1181.7,428.0 1181.1,428.0 1180.5,428.0 1179.9,428.0 1179.3,428.0 1178.7,428.0 1178.1,428.0 1177.5,428.0 1176.9,428.0 1176.3,427.9 1175.7,427.9 1175.1,427.9 1174.5,427.9 1173.9,427.9 1173.3,427.9 1172.7,427.9 1172.1,427.9 1171.5,427.9 1170.9,427.9 1170.3,427.9 1169.7,427.9 1169.1,427.9 1168.5,427.9 1167.9,427.9 1167.3,427.9 1166.7,427.9 1166.1,427.9 1165.5,427.9 1164.9,427.9 1164.3,427.8 1163.7,427.8 1163.1,427.8 1162.5,427.8 1161.8,427.8 1161.2,427.8 1160.6,427.8 1160.0,427.8 1159.4,427.8 1158.8,427.8 1158.2,427.7 1157.6,427.7 1157.0,427.7 1156.4,427.7 1155.8,427.7 1155.2,427.7 1154.6,427.7 1154.0,427.6 1153.4,427.6 1152.8,427.6 1152.2,427.6 1151.6,427.5 1151.0,427.5 1150.4,427.5 1149.8,427.5 1149.2,427.4 1148.6,427.4 1148.0,427.4 1147.4,427.4 1146.8,427.3 1146.2,427.3 1145.6,427.2 1145.0,427.2 1144.4,427.2 1143.8,427.1 1143.2,427.1 1142.6,427.0 1142.0,427.0 1141.4,426.9 1140.7,426.9 1140.1,426.8 1139.5,426.7 1138.9,426.7 1138.3,426.6 1137.7,426.5 1137.1,426.5 1136.5,426.4 1135.9,426.3 1135.3,426.2 1134.7,426.1 1134.1,426.0 1133.5,425.9 1132.9,425.8 1132.3,425.7 1131.7,425.6 1131.1,425.5 1130.5,425.4 1129.9,425.3 1129.3,425.1 1128.7,425.0 1128.1,424.9 1127.5,424.7 1126.9,424.6 1126.3,424.4 1125.7,424.2 1125.1,424.1 1124.5,423.9 1123.9,423.7 1123.3,423.5 1122.7,423.3 1122.1,423.1 1121.5,422.9 1120.9,422.7 1120.2,422.5 1119.6,422.2 1119.0,422.0 1118.4,421.8 1117.8,421.5 1117.2,421.3 1116.6,421.0 1116.0,420.7 1115.4,420.5 1114.8,420.2 1114.2,419.9 1113.6,419.6 1113.0,419.4 1112.4,419.1 1111.8,418.8 1111.2,418.5 1110.6,418.2 1110.0,417.9 1109.4,417.6 1108.8,417.3 1108.2,416.9 1107.6,416.6 1107.0,416.3 1106.4,416.0 1105.8,415.7 1105.2,415.4 1104.6,415.1 1104.0,414.8 1103.4,414.5 1102.8,414.2 1102.2,413.9 1101.6,413.6 1101.0,413.3 1100.4,413.0 1099.8,412.7 1099.1,412.4 1098.5,412.1 1097.9,411.9 1097.3,411.6 1096.7,411.3 1096.1,411.1 1095.5,410.8 1094.9,410.6 1094.3,410.4 1093.7,410.1 1093.1,409.9 1092.5,409.7 1091.9,409.5 1091.3,409.3 1090.7,409.1 1090.1,408.9 1089.5,408.7 1088.9,408.5 1088.3,408.3 1087.7,408.2 1087.1,408.0 1086.5,407.9 1085.9,407.7 1085.3,407.6 1084.7,407.4 1084.1,407.3 1083.5,407.2 1082.9,407.0 1082.3,406.9 1081.7,406.8 1081.1,406.7 1080.5,406.6 1079.9,406.5 1079.3,406.4 1078.6,406.3 1078.0,406.2 1077.4,406.1 1076.8,406.1 1076.2,406.0 1075.6,405.9 1075.0,405.9 1074.4,405.8 1073.8,405.7 1073.2,405.7 1072.6,405.6 1072.0,405.6 1071.4,405.5 1070.8,405.5 1070.2,405.4 1069.6,405.4 1069.0,405.3 1068.4,405.3 1067.8,405.2 1067.2,405.2 1066.6,405.2 1066.0,405.1 1065.4,405.1 1064.8,405.1 1064.2,405.0 1063.6,405.0 1063.0,405.0 1062.4,405.0 1061.8,404.9 1061.2,404.9 1060.6,404.9 1060.0,404.9 1059.4,404.9 1058.8,404.8 1058.2,404.8 1057.5,404.8 1056.9,404.8 1056.3,404.8 1055.7,404.8 1055.1,404.7 1054.5,404.7 1053.9,404.7 1053.3,404.7 1052.7,404.7 1052.1,404.7 1051.5,404.7 1050.9,404.7 1050.3,404.7 1049.7,404.7 1049.1,404.6 1048.5,404.6 1047.9,404.6 1047.3,404.6 1046.7,404.6 1046.1,404.6 1045.5,404.6 1044.9,404.6 1044.3,404.6 1043.7,404.6 1043.1,404.6 1042.5,404.6 1041.9,404.6 1041.3,404.6 1040.7,404.6 1040.1,404.6 1039.5,404.6 1038.9,404.6 1038.3,404.6 1037.7,404.6 1037.1,404.6 1036.4,404.6 1035.8,404.6 1035.2,404.6 1034.6,404.6 1034.0,404.6 1033.4,404.6 1032.8,404.6 1032.2,404.6 1031.6,404.6 1031.0,404.6 1030.4,404.6 1029.8,404.6 1029.2,404.7 1028.6,404.7 1028.0,404.7 1027.4,404.7 1026.8,404.7 1026.2,404.7 1025.6,404.7 1025.0,404.7 1024.4,404.7 1023.8,404.7 1023.2,404.7 1022.6,404.7 1022.0,404.7 1021.4,404.7 1020.8,404.7 1020.2,404.8 1019.6,404.8 1019.0,404.8 1018.4,404.8 1017.8,404.8 1017.2,404.8 1016.6,404.8 1015.9,404.8 1015.3,404.8 1014.7,404.8 1014.1,404.8 1013.5,404.8 1012.9,404.8 1012.3,404.9 1011.7,404.9 1011.1,404.9 1010.5,404.9 1009.9,404.9 1009.3,404.9 1008.7,404.9 1008.1,404.9 1007.5,404.9 1006.9,404.9 1006.3,404.9 1005.7,404.9 1005.1,404.9 1004.5,404.9 1003.9,405.0 1003.3,405.0 1002.7,405.0 1002.1,405.0 1001.5,405.0 1000.9,405.0 1000.3,405.0 999.7,405.0 999.1,405.0 998.5,405.0 997.9,405.0 997.3,405.0 996.7,405.0 996.1,405.1 995.5,405.1 994.8,405.1 994.2,405.1 993.6,405.1 993.0,405.1 992.4,405.1 991.8,405.1 991.2,405.1 990.6,405.1 990.0,405.1 989.4,405.1 988.8,405.2 988.2,405.2 987.6,405.2 987.0,405.2 986.4,405.2 985.8,405.2 985.2,405.2 984.6,405.2 984.0,405.2 983.4,405.2 982.8,405.2 982.2,405.2 981.6,405.2 981.0,405.3 980.4,405.3 979.8,405.3 979.2,405.3 978.6,405.3 978.0,405.3 977.4,405.3 976.8,405.3 976.2,405.3 975.6,405.3 975.0,405.3 974.3,405.3 973.7,405.3 973.1,405.4 972.5,405.4 971.9,405.4 971.3,405.4 970.7,405.4 970.1,405.4 969.5,405.4 968.9,405.4 968.3,405.4 967.7,405.4 967.1,405.4 966.5,405.4 965.9,405.4 965.3,405.5 964.7,405.5 964.1,405.5 963.5,405.5 962.9,405.5 962.3,405.5 961.7,405.5 961.1,405.5 960.5,405.5 959.9,405.5 959.3,405.5 958.7,405.5 958.1,405.5 957.5,405.6 956.9,405.6 956.3,405.6 955.7,405.6 955.1,405.6 954.5,405.6 953.9,405.6 953.2,405.6 952.6,405.6 952.0,405.6 951.4,405.6 950.8,405.6 950.2,405.6 949.6,405.7 949.0,405.7 948.4,405.7 947.8,405.7 947.2,405.7 946.6,405.7 946.0,405.7 945.4,405.7 944.8,405.7 944.2,405.7 943.6,405.7 943.0,405.7 942.4,405.7 941.8,405.8 941.2,405.8 940.6,405.8 940.0,405.8 939.4,405.8 938.8,405.8 938.2,405.8 937.6,405.8 937.0,405.8 936.4,405.8 935.8,405.8 935.2,405.8 934.6,405.9 934.0,405.9 933.4,405.9 932.7,405.9 932.1,405.9 931.5,405.9 930.9,405.9 930.3,405.9 929.7,405.9 929.1,405.9 928.5,405.9 927.9,405.9 927.3,405.9 926.7,406.0 926.1,406.0 925.5,406.0 924.9,406.0 924.3,406.0 923.7,406.0 923.1,406.0 922.5,406.0 921.9,406.0 921.3,406.0 920.7,406.0 920.1,406.0 919.5,406.0 918.9,406.1 918.3,406.1 917.7,406.1 917.1,406.1 916.5,406.1 915.9,406.1 915.3,406.1 914.7,406.1 914.1,406.1 913.5,406.1 912.9,406.1 912.3,406.1 911.6,406.1 911.0,406.2 910.4,406.2 909.8,406.2 909.2,406.2 908.6,406.2 908.0,406.2 907.4,406.2 906.8,406.2 906.2,406.2 905.6,406.2 905.0,406.2 904.4,406.2 903.8,406.2 903.2,406.3 902.6,406.3 902.0,406.3 901.4,406.3 900.8,406.3 900.2,406.3 899.6,406.3 899.0,406.3 898.4,406.3 897.8,406.3 897.2,406.3 896.6,406.3 896.0,406.3 895.4,406.4 894.8,406.4 894.2,406.4 893.6,406.4 893.0,406.4 892.4,406.4 891.8,406.4 891.2,406.4 890.5,406.4 889.9,406.4 889.3,406.4 888.7,406.4 888.1,406.4 887.5,406.5 886.9,406.5 886.3,406.5 885.7,406.5 885.1,406.5 884.5,406.5 883.9,406.5 883.3,406.5 882.7,406.5 882.1,406.5 881.5,406.5 880.9,406.5 880.3,406.6 879.7,406.6 879.1,406.6 878.5,406.6 877.9,406.6 877.3,406.6 876.7,406.6 876.1,406.6 875.5,406.6 874.9,406.6 874.3,406.6 873.7,406.6 873.1,406.6 872.5,406.7 871.9,406.7 871.3,406.7 870.7,406.7 870.0,406.7 869.4,406.7 868.8,406.7 868.2,406.7 867.6,406.7 867.0,406.7 866.4,406.7 865.8,406.7 865.2,406.7 864.6,406.8 864.0,406.8 863.4,406.8 862.8,406.8 862.2,406.8 861.6,406.8 861.0,406.8 860.4,406.8 859.8,406.8 859.2,406.8 858.6,406.8 858.0,406.8 857.4,406.8 856.8,406.9 856.2,406.9 855.6,406.9 855.0,406.9 854.4,406.9 853.8,406.9 853.2,406.9 852.6,406.9 852.0,406.9 851.4,406.9 850.8,406.9 850.2,406.9 849.6,406.9 848.9,407.0 848.3,407.0 847.7,407.0 847.1,407.0 846.5,407.0 845.9,407.0 845.3,407.0 844.7,407.0 844.1,407.0 843.5,407.0 842.9,407.0 842.3,407.0 841.7,407.0 841.1,407.1 840.5,407.1 839.9,407.1 839.3,407.1 838.7,407.1 838.1,407.1 837.5,407.1 836.9,407.1 836.3,407.1 835.7,407.1 835.1,407.1 834.5,407.1 833.9,407.2 833.3,407.2 832.7,407.2 832.1,407.2 831.5,407.2 830.9,407.2 830.3,407.2 829.7,407.2 829.1,407.2 828.4,407.2 827.8,407.2 827.2,407.2 826.6,407.2 826.0,407.3 825.4,407.3 824.8,407.3 824.2,407.3 823.6,407.3 823.0,407.3 822.4,407.3 821.8,407.3 821.2,407.3 820.6,407.3 820.0,407.3 819.4,407.3 818.8,407.3 818.2,407.4 817.6,407.4 817.0,407.4 816.4,407.4 815.8,407.4 815.2,407.4 814.6,407.4 814.0,407.4 813.4,407.4 812.8,407.4 812.2,407.4 811.6,407.4 811.0,407.4 810.4,407.5 809.8,407.5 809.2,407.5 808.6,407.5 808.0,407.5 807.3,407.5 806.7,407.5 806.1,407.5 805.5,407.5 804.9,407.5 804.3,407.5 803.7,407.5 803.1,407.5 802.5,407.6 801.9,407.6 801.3,407.6 800.7,407.6 800.1,407.6 799.5,407.6 798.9,407.6 798.3,407.6 797.7,407.6 797.1,407.6 796.5,407.6 795.9,407.6 795.3,407.6 794.7,407.7 794.1,407.7 793.5,407.7 792.9,407.7 792.3,407.7 791.7,407.7 791.1,407.7 790.5,407.7 789.9,407.7 789.3,407.7 788.7,407.7 788.1,407.7 787.5,407.8 786.8,407.8 786.2,407.8 785.6,407.8 785.0,407.8 784.4,407.8 783.8,407.8 783.2,407.8 782.6,407.8 782.0,407.8 781.4,407.8 780.8,407.8 780.2,407.8 779.6,407.9 779.0,407.9 778.4,407.9 777.8,407.9 777.2,407.9 776.6,407.9 776.0,407.9 775.4,407.9 774.8,407.9 774.2,407.9 773.6,407.9 773.0,407.9 772.4,407.9 771.8,408.0 771.2,408.0 770.6,408.0 770.0,408.0 769.4,408.0 768.8,408.0 768.2,408.0 767.6,408.0 767.0,408.0 766.4,408.0 765.7,408.0 765.1,408.0 764.5,408.0 763.9,408.1 763.3,408.1 762.7,408.1 762.1,408.1 761.5,408.1 760.9,408.1 760.3,408.1 759.7,408.1 759.1,408.1 758.5,408.1 757.9,408.1 757.3,408.1 756.7,408.1 756.1,408.2 755.5,408.2 754.9,408.2 754.3,408.2 753.7,408.2 753.1,408.2 752.5,408.2 751.9,408.2 751.3,408.2 750.7,408.2 750.1,408.2 749.5,408.2 748.9,408.2 748.3,408.3 747.7,408.3 747.1,408.3 746.5,408.3 745.9,408.3 745.3,408.3 744.6,408.3 744.0,408.3 743.4,408.3 742.8,408.3 742.2,408.3 741.6,408.3 741.0,408.3 740.4,408.4 739.8,408.4 739.2,408.4 738.6,408.4 738.0,408.4 737.4,408.4 736.8,408.4 736.2,408.4 735.6,408.4 735.0,408.4 734.4,408.4 733.8,408.4 733.2,408.5 732.6,408.5 732.0,408.5 731.4,408.5 730.8,408.5 730.2,408.5 729.6,408.5 729.0,408.5 728.4,408.5 727.8,408.5 727.2,408.5 726.6,408.5 726.0,408.5 725.4,408.6 724.8,408.6 724.1,408.6 723.5,408.6 722.9,408.6 722.3,408.6 721.7,408.6 721.1,408.6 720.5,408.6 719.9,408.6 719.3,408.6 718.7,408.6 718.1,408.6 717.5,408.7 716.9,408.7 716.3,408.7 715.7,408.7 715.1,408.7 714.5,408.7 713.9,408.7" fill="none" stroke="#d81c20" stroke-width="3.4" stroke-linejoin="round" stroke-linecap="round"/>
<polyline points="1255.9,425.4 1255.3,425.4 1254.7,425.3 1254.1,425.3 1253.5,425.3 1252.9,425.3 1252.3,425.2 1251.7,425.2 1251.1,425.2 1250.5,425.2 1249.9,425.1 1249.3,425.1 1248.7,425.1 1248.1,425.1 1247.5,425.0 1246.9,425.0 1246.3,425.0 1245.7,425.0 1245.0,424.9 1244.4,424.9 1243.8,424.9 1243.2,424.8 1242.6,424.8 1242.0,424.8 1241.4,424.8 1240.8,424.7 1240.2,424.7 1239.6,424.7 1239.0,424.6 1238.4,424.6 1237.8,424.6 1237.2,424.5 1236.6,424.5 1236.0,424.5 1235.4,424.4 1234.8,424.4 1234.2,424.4 1233.6,424.3 1233.0,424.3 1232.4,424.2 1231.8,424.2 1231.2,424.2 1230.6,424.1 1230.0,424.1 1229.4,424.0 1228.8,424.0 1228.2,424.0 1227.6,423.9 1227.0,423.9 1226.4,423.8 1225.8,423.8 1225.2,423.7 1224.5,423.7 1223.9,423.6 1223.3,423.6 1222.7,423.6 1222.1,423.5 1221.5,423.5 1220.9,423.4 1220.3,423.3 1219.7,423.3 1219.1,423.2 1218.5,423.2 1217.9,423.1 1217.3,423.1 1216.7,423.0 1216.1,423.0 1215.5,422.9 1214.9,422.8 1214.3,422.8 1213.7,422.7 1213.1,422.7 1212.5,422.6 1211.9,422.5 1211.3,422.5 1210.7,422.4 1210.1,422.3 1209.5,422.2 1208.9,422.2 1208.3,422.1 1207.7,422.0 1207.1,421.9 1206.5,421.9 1205.9,421.8 1205.3,421.7 1204.7,421.6 1204.1,421.5 1203.4,421.5 1202.8,421.4 1202.2,421.3 1201.6,421.2 1201.0,421.1 1200.4,421.0 1199.8,420.9 1199.2,420.8 1198.6,420.7 1198.0,420.6 1197.4,420.5 1196.8,420.4 1196.2,420.3 1195.6,420.2 1195.0,420.1 1194.4,419.9 1193.8,419.8 1193.2,419.7 1192.6,419.6 1192.0,419.4 1191.4,419.3 1190.8,419.2 1190.2,419.0 1189.6,418.9 1189.0,418.8 1188.4,418.6 1187.8,418.5 1187.2,418.3 1186.6,418.1 1186.0,418.0 1185.4,417.8 1184.8,417.6 1184.2,417.5 1183.6,417.3 1183.0,417.1 1182.3,416.9 1181.7,416.7 1181.1,416.5 1180.5,416.3 1179.9,416.1 1179.3,415.9 1178.7,415.7 1178.1,415.5 1177.5,415.2 1176.9,415.0 1176.3,414.7 1175.7,414.5 1175.1,414.2 1174.5,414.0 1173.9,413.7 1173.3,413.4 1172.7,413.1 1172.1,412.8 1171.5,412.5 1170.9,412.2 1170.3,411.9 1169.7,411.5 1169.1,411.2 1168.5,410.8 1167.9,410.5 1167.3,410.1 1166.7,409.7 1166.1,409.3 1165.5,408.8 1164.9,408.4 1164.3,408.0 1163.7,407.5 1163.1,407.0 1162.5,406.5 1161.8,406.0 1161.2,405.5 1160.6,404.9 1160.0,404.3 1159.4,403.7 1158.8,403.1 1158.2,402.5 1157.6,401.8 1157.0,401.1 1156.4,400.4 1155.8,399.6 1155.2,398.9 1154.6,398.0 1154.0,397.2 1153.4,396.3 1152.8,395.3 1152.2,394.4 1151.6,393.3 1151.0,392.3 1150.4,391.1 1149.8,389.9 1149.2,388.7 1148.6,387.4 1148.0,386.0 1147.4,384.5 1146.8,383.0 1146.2,381.4 1145.6,379.6 1145.0,377.8 1144.4,375.9 1143.8,373.9 1143.2,371.7 1142.6,369.4 1142.0,367.0 1141.4,364.4 1140.7,361.7 1140.1,358.8 1139.5,355.8 1138.9,352.5 1138.3,349.1 1137.7,345.4 1137.1,341.5 1136.5,337.4 1135.9,333.1 1135.3,328.5 1134.7,323.6 1134.1,318.5 1133.5,313.1 1132.9,307.4 1132.3,301.4 1131.7,295.1 1131.1,288.4 1130.5,281.4 1129.9,274.1 1129.3,266.5 1128.7,258.5 1128.1,250.2 1127.5,241.6 1126.9,232.6 1126.3,223.4 1125.7,213.9 1125.1,204.1 1124.5,194.1 1123.9,183.9 1123.3,173.6 1122.7,163.3 1122.1,152.9 1121.5,142.7 1120.9,132.6 1120.2,122.9 1119.6,113.6 1119.0,104.8 1118.4,96.6 1117.8,89.3 1117.2,82.9 1116.6,77.5 1116.0,73.3 1115.4,70.2 1114.8,68.5 1114.2,68.0 1113.6,68.9 1113.0,71.0 1112.4,74.4 1111.8,78.9 1111.2,84.5 1110.6,91.0 1110.0,98.4 1109.4,106.4 1108.8,115.1 1108.2,124.2 1107.6,133.7 1107.0,143.3 1106.4,153.1 1105.8,163.0 1105.2,172.8 1104.6,182.5 1104.0,192.1 1103.4,201.5 1102.8,210.6 1102.2,219.5 1101.6,228.0 1101.0,236.3 1100.4,244.3 1099.8,251.9 1099.1,259.2 1098.5,266.2 1097.9,272.9 1097.3,279.3 1096.7,285.3 1096.1,291.0 1095.5,296.5 1094.9,301.6 1094.3,306.5 1093.7,311.1 1093.1,315.5 1092.5,319.6 1091.9,323.5 1091.3,327.1 1090.7,330.6 1090.1,333.8 1089.5,336.8 1088.9,339.7 1088.3,342.4 1087.7,345.0 1087.1,347.4 1086.5,349.6 1085.9,351.7 1085.3,353.7 1084.7,355.6 1084.1,357.4 1083.5,359.1 1082.9,360.7 1082.3,362.2 1081.7,363.6 1081.1,364.9 1080.5,366.2 1079.9,367.4 1079.3,368.5 1078.6,369.6 1078.0,370.7 1077.4,371.6 1076.8,372.6 1076.2,373.5 1075.6,374.3 1075.0,375.2 1074.4,375.9 1073.8,376.7 1073.2,377.4 1072.6,378.1 1072.0,378.8 1071.4,379.4 1070.8,380.0 1070.2,380.6 1069.6,381.2 1069.0,381.7 1068.4,382.2 1067.8,382.8 1067.2,383.2 1066.6,383.7 1066.0,384.2 1065.4,384.6 1064.8,385.1 1064.2,385.5 1063.6,385.9 1063.0,386.3 1062.4,386.7 1061.8,387.0 1061.2,387.4 1060.6,387.7 1060.0,388.1 1059.4,388.4 1058.8,388.7 1058.2,389.0 1057.5,389.3 1056.9,389.6 1056.3,389.9 1055.7,390.2 1055.1,390.4 1054.5,390.7 1053.9,390.9 1053.3,391.2 1052.7,391.4 1052.1,391.7 1051.5,391.9 1050.9,392.1 1050.3,392.3 1049.7,392.5 1049.1,392.7 1048.5,392.9 1047.9,393.1 1047.3,393.3 1046.7,393.5 1046.1,393.7 1045.5,393.9 1044.9,394.0 1044.3,394.2 1043.7,394.4 1043.1,394.5 1042.5,394.7 1041.9,394.9 1041.3,395.0 1040.7,395.1 1040.1,395.3 1039.5,395.4 1038.9,395.6 1038.3,395.7 1037.7,395.9 1037.1,396.0 1036.4,396.1 1035.8,396.3 1035.2,396.4 1034.6,396.5 1034.0,396.6 1033.4,396.8 1032.8,396.9 1032.2,397.0 1031.6,397.1 1031.0,397.2 1030.4,397.3 1029.8,397.4 1029.2,397.5 1028.6,397.6 1028.0,397.7 1027.4,397.8 1026.8,397.9 1026.2,398.0 1025.6,398.1 1025.0,398.2 1024.4,398.3 1023.8,398.4 1023.2,398.5 1022.6,398.6 1022.0,398.7 1021.4,398.7 1020.8,398.8 1020.2,398.9 1019.6,399.0 1019.0,399.1 1018.4,399.1 1017.8,399.2 1017.2,399.3 1016.6,399.4 1015.9,399.4 1015.3,399.5 1014.7,399.6 1014.1,399.7 1013.5,399.7 1012.9,399.8 1012.3,399.9 1011.7,399.9 1011.1,400.0 1010.5,400.0 1009.9,400.1 1009.3,400.2 1008.7,400.2 1008.1,400.3 1007.5,400.4 1006.9,400.4 1006.3,400.5 1005.7,400.5 1005.1,400.6 1004.5,400.6 1003.9,400.7 1003.3,400.7 1002.7,400.8 1002.1,400.8 1001.5,400.9 1000.9,400.9 1000.3,401.0 999.7,401.0 999.1,401.1 998.5,401.1 997.9,401.2 997.3,401.2 996.7,401.3 996.1,401.3 995.5,401.4 994.8,401.4 994.2,401.5 993.6,401.5 993.0,401.5 992.4,401.6 991.8,401.6 991.2,401.7 990.6,401.7 990.0,401.8 989.4,401.8 988.8,401.8 988.2,401.9 987.6,401.9 987.0,401.9 986.4,402.0 985.8,402.0 985.2,402.1 984.6,402.1 984.0,402.1 983.4,402.2 982.8,402.2 982.2,402.2 981.6,402.3 981.0,402.3 980.4,402.3 979.8,402.4 979.2,402.4 978.6,402.4 978.0,402.5 977.4,402.5 976.8,402.5 976.2,402.6 975.6,402.6 975.0,402.6 974.3,402.7 973.7,402.7 973.1,402.7 972.5,402.8 971.9,402.8 971.3,402.8 970.7,402.8 970.1,402.9 969.5,402.9 968.9,402.9 968.3,403.0 967.7,403.0 967.1,403.0 966.5,403.0 965.9,403.1 965.3,403.1 964.7,403.1 964.1,403.1 963.5,403.2 962.9,403.2 962.3,403.2 961.7,403.2 961.1,403.3 960.5,403.3 959.9,403.3 959.3,403.3 958.7,403.4 958.1,403.4 957.5,403.4 956.9,403.4 956.3,403.5 955.7,403.5 955.1,403.5 954.5,403.5 953.9,403.6 953.2,403.6 952.6,403.6 952.0,403.6 951.4,403.7 950.8,403.7 950.2,403.7 949.6,403.7 949.0,403.7 948.4,403.8 947.8,403.8 947.2,403.8 946.6,403.8 946.0,403.8 945.4,403.9 944.8,403.9 944.2,403.9 943.6,403.9 943.0,403.9 942.4,404.0 941.8,404.0 941.2,404.0 940.6,404.0 940.0,404.0 939.4,404.1 938.8,404.1 938.2,404.1 937.6,404.1 937.0,404.1 936.4,404.2 935.8,404.2 935.2,404.2 934.6,404.2 934.0,404.2 933.4,404.3 932.7,404.3 932.1,404.3 931.5,404.3 930.9,404.3 930.3,404.3 929.7,404.4 929.1,404.4 928.5,404.4 927.9,404.4 927.3,404.4 926.7,404.5 926.1,404.5 925.5,404.5 924.9,404.5 924.3,404.5 923.7,404.5 923.1,404.6 922.5,404.6 921.9,404.6 921.3,404.6 920.7,404.6 920.1,404.6 919.5,404.7 918.9,404.7 918.3,404.7 917.7,404.7 917.1,404.7 916.5,404.7 915.9,404.8 915.3,404.8 914.7,404.8 914.1,404.8 913.5,404.8 912.9,404.8 912.3,404.8 911.6,404.9 911.0,404.9 910.4,404.9 909.8,404.9 909.2,404.9 908.6,404.9 908.0,405.0 907.4,405.0 906.8,405.0 906.2,405.0 905.6,405.0 905.0,405.0 904.4,405.0 903.8,405.1 903.2,405.1 902.6,405.1 902.0,405.1 901.4,405.1 900.8,405.1 900.2,405.1 899.6,405.2 899.0,405.2 898.4,405.2 897.8,405.2 897.2,405.2 896.6,405.2 896.0,405.2 895.4,405.3 894.8,405.3 894.2,405.3 893.6,405.3 893.0,405.3 892.4,405.3 891.8,405.3 891.2,405.4 890.5,405.4 889.9,405.4 889.3,405.4 888.7,405.4 888.1,405.4 887.5,405.4 886.9,405.4 886.3,405.5 885.7,405.5 885.1,405.5 884.5,405.5 883.9,405.5 883.3,405.5 882.7,405.5 882.1,405.5 881.5,405.6 880.9,405.6 880.3,405.6 879.7,405.6 879.1,405.6 878.5,405.6 877.9,405.6 877.3,405.7 876.7,405.7 876.1,405.7 875.5,405.7 874.9,405.7 874.3,405.7 873.7,405.7 873.1,405.7 872.5,405.7 871.9,405.8 871.3,405.8 870.7,405.8 870.0,405.8 869.4,405.8 868.8,405.8 868.2,405.8 867.6,405.8 867.0,405.9 866.4,405.9 865.8,405.9 865.2,405.9 864.6,405.9 864.0,405.9 863.4,405.9 862.8,405.9 862.2,406.0 861.6,406.0 861.0,406.0 860.4,406.0 859.8,406.0 859.2,406.0 858.6,406.0 858.0,406.0 857.4,406.0 856.8,406.1 856.2,406.1 855.6,406.1 855.0,406.1 854.4,406.1 853.8,406.1 853.2,406.1 852.6,406.1 852.0,406.1 851.4,406.2 850.8,406.2 850.2,406.2 849.6,406.2 848.9,406.2 848.3,406.2 847.7,406.2 847.1,406.2 846.5,406.3 845.9,406.3 845.3,406.3 844.7,406.3 844.1,406.3 843.5,406.3 842.9,406.3 842.3,406.3 841.7,406.3 841.1,406.3 840.5,406.4 839.9,406.4 839.3,406.4 838.7,406.4 838.1,406.4 837.5,406.4 836.9,406.4 836.3,406.4 835.7,406.4 835.1,406.5 834.5,406.5 833.9,406.5 833.3,406.5 832.7,406.5 832.1,406.5 831.5,406.5 830.9,406.5 830.3,406.5 829.7,406.6 829.1,406.6 828.4,406.6 827.8,406.6 827.2,406.6 826.6,406.6 826.0,406.6 825.4,406.6 824.8,406.6 824.2,406.6 823.6,406.7 823.0,406.7 822.4,406.7 821.8,406.7 821.2,406.7 820.6,406.7 820.0,406.7 819.4,406.7 818.8,406.7 818.2,406.8 817.6,406.8 817.0,406.8 816.4,406.8 815.8,406.8 815.2,406.8 814.6,406.8 814.0,406.8 813.4,406.8 812.8,406.8 812.2,406.9 811.6,406.9 811.0,406.9 810.4,406.9 809.8,406.9 809.2,406.9 808.6,406.9 808.0,406.9 807.3,406.9 806.7,406.9 806.1,407.0 805.5,407.0 804.9,407.0 804.3,407.0 803.7,407.0 803.1,407.0 802.5,407.0 801.9,407.0 801.3,407.0 800.7,407.0 800.1,407.1 799.5,407.1 798.9,407.1 798.3,407.1 797.7,407.1 797.1,407.1 796.5,407.1 795.9,407.1 795.3,407.1 794.7,407.1 794.1,407.1 793.5,407.2 792.9,407.2 792.3,407.2 791.7,407.2 791.1,407.2 790.5,407.2 789.9,407.2 789.3,407.2 788.7,407.2 788.1,407.2 787.5,407.3 786.8,407.3 786.2,407.3 785.6,407.3 785.0,407.3 784.4,407.3 783.8,407.3 783.2,407.3 782.6,407.3 782.0,407.3 781.4,407.4 780.8,407.4 780.2,407.4 779.6,407.4 779.0,407.4 778.4,407.4 777.8,407.4 777.2,407.4 776.6,407.4 776.0,407.4 775.4,407.4 774.8,407.5 774.2,407.5 773.6,407.5 773.0,407.5 772.4,407.5 771.8,407.5 771.2,407.5 770.6,407.5 770.0,407.5 769.4,407.5 768.8,407.5 768.2,407.6 767.6,407.6 767.0,407.6 766.4,407.6 765.7,407.6 765.1,407.6 764.5,407.6 763.9,407.6 763.3,407.6 762.7,407.6 762.1,407.7 761.5,407.7 760.9,407.7 760.3,407.7 759.7,407.7 759.1,407.7 758.5,407.7 757.9,407.7 757.3,407.7 756.7,407.7 756.1,407.7 755.5,407.8 754.9,407.8 754.3,407.8 753.7,407.8 753.1,407.8 752.5,407.8 751.9,407.8 751.3,407.8 750.7,407.8 750.1,407.8 749.5,407.8 748.9,407.9 748.3,407.9 747.7,407.9 747.1,407.9 746.5,407.9 745.9,407.9 745.3,407.9 744.6,407.9 744.0,407.9 743.4,407.9 742.8,407.9 742.2,408.0 741.6,408.0 741.0,408.0 740.4,408.0 739.8,408.0 739.2,408.0 738.6,408.0 738.0,408.0 737.4,408.0 736.8,408.0 736.2,408.0 735.6,408.1 735.0,408.1 734.4,408.1 733.8,408.1 733.2,408.1 732.6,408.1 732.0,408.1 731.4,408.1 730.8,408.1 730.2,408.1 729.6,408.1 729.0,408.1 728.4,408.2 727.8,408.2 727.2,408.2 726.6,408.2 726.0,408.2 725.4,408.2 724.8,408.2 724.1,408.2 723.5,408.2 722.9,408.2 722.3,408.2 721.7,408.3 721.1,408.3 720.5,408.3 719.9,408.3 719.3,408.3 718.7,408.3 718.1,408.3 717.5,408.3 716.9,408.3 716.3,408.3 715.7,408.3 715.1,408.4 714.5,408.4 713.9,408.4" fill="none" stroke="#1a0ccc" stroke-width="3.4" stroke-linejoin="round" stroke-linecap="round"/>
<polyline points="1255.9,427.7 1255.3,427.7 1254.7,427.7 1254.1,427.7 1253.5,427.7 1252.9,427.7 1252.3,427.6 1251.7,427.6 1251.1,427.6 1250.5,427.6 1249.9,427.6 1249.3,427.6 1248.7,427.6 1248.1,427.6 1247.5,427.6 1246.9,427.6 1246.3,427.6 1245.7,427.6 1245.0,427.6 1244.4,427.6 1243.8,427.6 1243.2,427.6 1242.6,427.6 1242.0,427.6 1241.4,427.6 1240.8,427.6 1240.2,427.6 1239.6,427.6 1239.0,427.6 1238.4,427.6 1237.8,427.6 1237.2,427.6 1236.6,427.6 1236.0,427.6 1235.4,427.6 1234.8,427.6 1234.2,427.6 1233.6,427.6 1233.0,427.6 1232.4,427.6 1231.8,427.6 1231.2,427.6 1230.6,427.5 1230.0,427.5 1229.4,427.5 1228.8,427.5 1228.2,427.5 1227.6,427.5 1227.0,427.5 1226.4,427.5 1225.8,427.5 1225.2,427.5 1224.5,427.5 1223.9,427.5 1223.3,427.5 1222.7,427.5 1222.1,427.5 1221.5,427.5 1220.9,427.5 1220.3,427.5 1219.7,427.5 1219.1,427.5 1218.5,427.5 1217.9,427.5 1217.3,427.5 1216.7,427.5 1216.1,427.5 1215.5,427.5 1214.9,427.4 1214.3,427.4 1213.7,427.4 1213.1,427.4 1212.5,427.4 1211.9,427.4 1211.3,427.4 1210.7,427.4 1210.1,427.4 1209.5,427.4 1208.9,427.4 1208.3,427.4 1207.7,427.4 1207.1,427.4 1206.5,427.4 1205.9,427.4 1205.3,427.4 1204.7,427.4 1204.1,427.4 1203.4,427.3 1202.8,427.3 1202.2,427.3 1201.6,427.3 1201.0,427.3 1200.4,427.3 1199.8,427.3 1199.2,427.3 1198.6,427.3 1198.0,427.3 1197.4,427.3 1196.8,427.3 1196.2,427.3 1195.6,427.3 1195.0,427.3 1194.4,427.2 1193.8,427.2 1193.2,427.2 1192.6,427.2 1192.0,427.2 1191.4,427.2 1190.8,427.2 1190.2,427.2 1189.6,427.2 1189.0,427.2 1188.4,427.2 1187.8,427.2 1187.2,427.1 1186.6,427.1 1186.0,427.1 1185.4,427.1 1184.8,427.1 1184.2,427.1 1183.6,427.1 1183.0,427.1 1182.3,427.1 1181.7,427.1 1181.1,427.0 1180.5,427.0 1179.9,427.0 1179.3,427.0 1178.7,427.0 1178.1,427.0 1177.5,427.0 1176.9,427.0 1176.3,426.9 1175.7,426.9 1175.1,426.9 1174.5,426.9 1173.9,426.9 1173.3,426.9 1172.7,426.9 1172.1,426.8 1171.5,426.8 1170.9,426.8 1170.3,426.8 1169.7,426.8 1169.1,426.7 1168.5,426.7 1167.9,426.7 1167.3,426.7 1166.7,426.7 1166.1,426.6 1165.5,426.6 1164.9,426.6 1164.3,426.6 1163.7,426.6 1163.1,426.5 1162.5,426.5 1161.8,426.5 1161.2,426.5 1160.6,426.4 1160.0,426.4 1159.4,426.4 1158.8,426.3 1158.2,426.3 1157.6,426.3 1157.0,426.2 1156.4,426.2 1155.8,426.2 1155.2,426.1 1154.6,426.1 1154.0,426.1 1153.4,426.0 1152.8,426.0 1152.2,425.9 1151.6,425.9 1151.0,425.8 1150.4,425.8 1149.8,425.7 1149.2,425.7 1148.6,425.6 1148.0,425.6 1147.4,425.5 1146.8,425.4 1146.2,425.4 1145.6,425.3 1145.0,425.2 1144.4,425.2 1143.8,425.1 1143.2,425.0 1142.6,424.9 1142.0,424.9 1141.4,424.8 1140.7,424.7 1140.1,424.6 1139.5,424.5 1138.9,424.4 1138.3,424.3 1137.7,424.2 1137.1,424.1 1136.5,423.9 1135.9,423.8 1135.3,423.7 1134.7,423.6 1134.1,423.4 1133.5,423.3 1132.9,423.1 1132.3,423.0 1131.7,422.8 1131.1,422.6 1130.5,422.5 1129.9,422.3 1129.3,422.1 1128.7,421.9 1128.1,421.7 1127.5,421.5 1126.9,421.3 1126.3,421.1 1125.7,420.8 1125.1,420.6 1124.5,420.3 1123.9,420.1 1123.3,419.8 1122.7,419.6 1122.1,419.3 1121.5,419.0 1120.9,418.7 1120.2,418.4 1119.6,418.1 1119.0,417.7 1118.4,417.4 1117.8,417.1 1117.2,416.7 1116.6,416.3 1116.0,416.0 1115.4,415.6 1114.8,415.2 1114.2,414.8 1113.6,414.4 1113.0,414.0 1112.4,413.5 1111.8,413.1 1111.2,412.6 1110.6,412.2 1110.0,411.7 1109.4,411.2 1108.8,410.7 1108.2,410.2 1107.6,409.7 1107.0,409.2 1106.4,408.6 1105.8,408.1 1105.2,407.5 1104.6,406.9 1104.0,406.4 1103.4,405.7 1102.8,405.1 1102.2,404.5 1101.6,403.8 1101.0,403.1 1100.4,402.4 1099.8,401.7 1099.1,400.9 1098.5,400.1 1097.9,399.3 1097.3,398.4 1096.7,397.5 1096.1,396.6 1095.5,395.6 1094.9,394.6 1094.3,393.5 1093.7,392.4 1093.1,391.2 1092.5,390.0 1091.9,388.7 1091.3,387.3 1090.7,385.9 1090.1,384.4 1089.5,382.9 1088.9,381.2 1088.3,379.5 1087.7,377.7 1087.1,375.8 1086.5,373.9 1085.9,371.8 1085.3,369.7 1084.7,367.5 1084.1,365.2 1083.5,362.8 1082.9,360.4 1082.3,357.9 1081.7,355.3 1081.1,352.6 1080.5,349.9 1079.9,347.1 1079.3,344.2 1078.6,341.4 1078.0,338.5 1077.4,335.6 1076.8,332.6 1076.2,329.8 1075.6,326.9 1075.0,324.1 1074.4,321.4 1073.8,318.8 1073.2,316.3 1072.6,314.0 1072.0,311.9 1071.4,310.0 1070.8,308.3 1070.2,306.9 1069.6,305.8 1069.0,304.9 1068.4,304.4 1067.8,304.2 1067.2,304.4 1066.6,304.8 1066.0,305.6 1065.4,306.7 1064.8,308.1 1064.2,309.7 1063.6,311.5 1063.0,313.6 1062.4,315.8 1061.8,318.2 1061.2,320.8 1060.6,323.4 1060.0,326.1 1059.4,328.9 1058.8,331.7 1058.2,334.5 1057.5,337.3 1056.9,340.1 1056.3,342.9 1055.7,345.6 1055.1,348.3 1054.5,350.9 1053.9,353.4 1053.3,355.9 1052.7,358.3 1052.1,360.6 1051.5,362.8 1050.9,364.9 1050.3,367.0 1049.7,369.0 1049.1,370.8 1048.5,372.6 1047.9,374.3 1047.3,375.9 1046.7,377.5 1046.1,378.9 1045.5,380.3 1044.9,381.6 1044.3,382.8 1043.7,383.9 1043.1,385.0 1042.5,386.0 1041.9,386.9 1041.3,387.8 1040.7,388.6 1040.1,389.4 1039.5,390.1 1038.9,390.8 1038.3,391.4 1037.7,392.0 1037.1,392.6 1036.4,393.1 1035.8,393.6 1035.2,394.1 1034.6,394.5 1034.0,394.9 1033.4,395.2 1032.8,395.6 1032.2,395.9 1031.6,396.2 1031.0,396.5 1030.4,396.8 1029.8,397.1 1029.2,397.3 1028.6,397.5 1028.0,397.8 1027.4,398.0 1026.8,398.2 1026.2,398.4 1025.6,398.5 1025.0,398.7 1024.4,398.9 1023.8,399.0 1023.2,399.2 1022.6,399.3 1022.0,399.5 1021.4,399.6 1020.8,399.7 1020.2,399.9 1019.6,400.0 1019.0,400.1 1018.4,400.2 1017.8,400.3 1017.2,400.4 1016.6,400.5 1015.9,400.6 1015.3,400.7 1014.7,400.8 1014.1,400.9 1013.5,401.0 1012.9,401.1 1012.3,401.2 1011.7,401.3 1011.1,401.3 1010.5,401.4 1009.9,401.5 1009.3,401.6 1008.7,401.6 1008.1,401.7 1007.5,401.8 1006.9,401.8 1006.3,401.9 1005.7,402.0 1005.1,402.0 1004.5,402.1 1003.9,402.1 1003.3,402.2 1002.7,402.3 1002.1,402.3 1001.5,402.4 1000.9,402.4 1000.3,402.5 999.7,402.5 999.1,402.6 998.5,402.6 997.9,402.7 997.3,402.7 996.7,402.8 996.1,402.8 995.5,402.9 994.8,402.9 994.2,402.9 993.6,403.0 993.0,403.0 992.4,403.1 991.8,403.1 991.2,403.1 990.6,403.2 990.0,403.2 989.4,403.2 988.8,403.3 988.2,403.3 987.6,403.4 987.0,403.4 986.4,403.4 985.8,403.5 985.2,403.5 984.6,403.5 984.0,403.5 983.4,403.6 982.8,403.6 982.2,403.6 981.6,403.7 981.0,403.7 980.4,403.7 979.8,403.8 979.2,403.8 978.6,403.8 978.0,403.8 977.4,403.9 976.8,403.9 976.2,403.9 975.6,403.9 975.0,404.0 974.3,404.0 973.7,404.0 973.1,404.0 972.5,404.1 971.9,404.1 971.3,404.1 970.7,404.1 970.1,404.2 969.5,404.2 968.9,404.2 968.3,404.2 967.7,404.2 967.1,404.3 966.5,404.3 965.9,404.3 965.3,404.3 964.7,404.4 964.1,404.4 963.5,404.4 962.9,404.4 962.3,404.4 961.7,404.5 961.1,404.5 960.5,404.5 959.9,404.5 959.3,404.5 958.7,404.5 958.1,404.6 957.5,404.6 956.9,404.6 956.3,404.6 955.7,404.6 955.1,404.7 954.5,404.7 953.9,404.7 953.2,404.7 952.6,404.7 952.0,404.7 951.4,404.8 950.8,404.8 950.2,404.8 949.6,404.8 949.0,404.8 948.4,404.8 947.8,404.9 947.2,404.9 946.6,404.9 946.0,404.9 945.4,404.9 944.8,404.9 944.2,404.9 943.6,405.0 943.0,405.0 942.4,405.0 941.8,405.0 941.2,405.0 940.6,405.0 940.0,405.1 939.4,405.1 938.8,405.1 938.2,405.1 937.6,405.1 937.0,405.1 936.4,405.1 935.8,405.2 935.2,405.2 934.6,405.2 934.0,405.2 933.4,405.2 932.7,405.2 932.1,405.2 931.5,405.2 930.9,405.3 930.3,405.3 929.7,405.3 929.1,405.3 928.5,405.3 927.9,405.3 927.3,405.3 926.7,405.4 926.1,405.4 925.5,405.4 924.9,405.4 924.3,405.4 923.7,405.4 923.1,405.4 922.5,405.4 921.9,405.5 921.3,405.5 920.7,405.5 920.1,405.5 919.5,405.5 918.9,405.5 918.3,405.5 917.7,405.5 917.1,405.6 916.5,405.6 915.9,405.6 915.3,405.6 914.7,405.6 914.1,405.6 913.5,405.6 912.9,405.6 912.3,405.6 911.6,405.7 911.0,405.7 910.4,405.7 909.8,405.7 909.2,405.7 908.6,405.7 908.0,405.7 907.4,405.7 906.8,405.7 906.2,405.8 905.6,405.8 905.0,405.8 904.4,405.8 903.8,405.8 903.2,405.8 902.6,405.8 902.0,405.8 901.4,405.8 900.8,405.9 900.2,405.9 899.6,405.9 899.0,405.9 898.4,405.9 897.8,405.9 897.2,405.9 896.6,405.9 896.0,405.9 895.4,406.0 894.8,406.0 894.2,406.0 893.6,406.0 893.0,406.0 892.4,406.0 891.8,406.0 891.2,406.0 890.5,406.0 889.9,406.0 889.3,406.1 888.7,406.1 888.1,406.1 887.5,406.1 886.9,406.1 886.3,406.1 885.7,406.1 885.1,406.1 884.5,406.1 883.9,406.2 883.3,406.2 882.7,406.2 882.1,406.2 881.5,406.2 880.9,406.2 880.3,406.2 879.7,406.2 879.1,406.2 878.5,406.2 877.9,406.3 877.3,406.3 876.7,406.3 876.1,406.3 875.5,406.3 874.9,406.3 874.3,406.3 873.7,406.3 873.1,406.3 872.5,406.3 871.9,406.3 871.3,406.4 870.7,406.4 870.0,406.4 869.4,406.4 868.8,406.4 868.2,406.4 867.6,406.4 867.0,406.4 866.4,406.4 865.8,406.4 865.2,406.5 864.6,406.5 864.0,406.5 863.4,406.5 862.8,406.5 862.2,406.5 861.6,406.5 861.0,406.5 860.4,406.5 859.8,406.5 859.2,406.5 858.6,406.6 858.0,406.6 857.4,406.6 856.8,406.6 856.2,406.6 855.6,406.6 855.0,406.6 854.4,406.6 853.8,406.6 853.2,406.6 852.6,406.7 852.0,406.7 851.4,406.7 850.8,406.7 850.2,406.7 849.6,406.7 848.9,406.7 848.3,406.7 847.7,406.7 847.1,406.7 846.5,406.7 845.9,406.8 845.3,406.8 844.7,406.8 844.1,406.8 843.5,406.8 842.9,406.8 842.3,406.8 841.7,406.8 841.1,406.8 840.5,406.8 839.9,406.8 839.3,406.9 838.7,406.9 838.1,406.9 837.5,406.9 836.9,406.9 836.3,406.9 835.7,406.9 835.1,406.9 834.5,406.9 833.9,406.9 833.3,406.9 832.7,406.9 832.1,407.0 831.5,407.0 830.9,407.0 830.3,407.0 829.7,407.0 829.1,407.0 828.4,407.0 827.8,407.0 827.2,407.0 826.6,407.0 826.0,407.0 825.4,407.1 824.8,407.1 824.2,407.1 823.6,407.1 823.0,407.1 822.4,407.1 821.8,407.1 821.2,407.1 820.6,407.1 820.0,407.1 819.4,407.1 818.8,407.2 818.2,407.2 817.6,407.2 817.0,407.2 816.4,407.2 815.8,407.2 815.2,407.2 814.6,407.2 814.0,407.2 813.4,407.2 812.8,407.2 812.2,407.2 811.6,407.3 811.0,407.3 810.4,407.3 809.8,407.3 809.2,407.3 808.6,407.3 808.0,407.3 807.3,407.3 806.7,407.3 806.1,407.3 805.5,407.3 804.9,407.4 804.3,407.4 803.7,407.4 803.1,407.4 802.5,407.4 801.9,407.4 801.3,407.4 800.7,407.4 800.1,407.4 799.5,407.4 798.9,407.4 798.3,407.4 797.7,407.5 797.1,407.5 796.5,407.5 795.9,407.5 795.3,407.5 794.7,407.5 794.1,407.5 793.5,407.5 792.9,407.5 792.3,407.5 791.7,407.5 791.1,407.5 790.5,407.6 789.9,407.6 789.3,407.6 788.7,407.6 788.1,407.6 787.5,407.6 786.8,407.6 786.2,407.6 785.6,407.6 785.0,407.6 784.4,407.6 783.8,407.6 783.2,407.7 782.6,407.7 782.0,407.7 781.4,407.7 780.8,407.7 780.2,407.7 779.6,407.7 779.0,407.7 778.4,407.7 777.8,407.7 777.2,407.7 776.6,407.7 776.0,407.8 775.4,407.8 774.8,407.8 774.2,407.8 773.6,407.8 773.0,407.8 772.4,407.8 771.8,407.8 771.2,407.8 770.6,407.8 770.0,407.8 769.4,407.8 768.8,407.9 768.2,407.9 767.6,407.9 767.0,407.9 766.4,407.9 765.7,407.9 765.1,407.9 764.5,407.9 763.9,407.9 763.3,407.9 762.7,407.9 762.1,407.9 761.5,408.0 760.9,408.0 760.3,408.0 759.7,408.0 759.1,408.0 758.5,408.0 757.9,408.0 757.3,408.0 756.7,408.0 756.1,408.0 755.5,408.0 754.9,408.0 754.3,408.1 753.7,408.1 753.1,408.1 752.5,408.1 751.9,408.1 751.3,408.1 750.7,408.1 750.1,408.1 749.5,408.1 748.9,408.1 748.3,408.1 747.7,408.1 747.1,408.2 746.5,408.2 745.9,408.2 745.3,408.2 744.6,408.2 744.0,408.2 743.4,408.2 742.8,408.2 742.2,408.2 741.6,408.2 741.0,408.2 740.4,408.2 739.8,408.3 739.2,408.3 738.6,408.3 738.0,408.3 737.4,408.3 736.8,408.3 736.2,408.3 735.6,408.3 735.0,408.3 734.4,408.3 733.8,408.3 733.2,408.3 732.6,408.4 732.0,408.4 731.4,408.4 730.8,408.4 730.2,408.4 729.6,408.4 729.0,408.4 728.4,408.4 727.8,408.4 727.2,408.4 726.6,408.4 726.0,408.4 725.4,408.4 724.8,408.5 724.1,408.5 723.5,408.5 722.9,408.5 722.3,408.5 721.7,408.5 721.1,408.5 720.5,408.5 719.9,408.5 719.3,408.5 718.7,408.5 718.1,408.5 717.5,408.6 716.9,408.6 716.3,408.6 715.7,408.6 715.1,408.6 714.5,408.6 713.9,408.6" fill="none" stroke="#e024e4" stroke-width="3.4" stroke-linejoin="round" stroke-linecap="round"/>
<rect x="68.00" y="597.20" width="541.50" height="451.20" fill="none" stroke="#0a0a0a" stroke-width="3.4"/>
<line x1="68.10" y1="1048.40" x2="68.10" y2="1059.70" stroke="#111" stroke-width="2.6"/>
<line x1="113.22" y1="1048.40" x2="113.22" y2="1055.40" stroke="#111" stroke-width="2.6"/>
<line x1="158.34" y1="1048.40" x2="158.34" y2="1059.70" stroke="#111" stroke-width="2.6"/>
<line x1="203.46" y1="1048.40" x2="203.46" y2="1055.40" stroke="#111" stroke-width="2.6"/>
<line x1="248.58" y1="1048.40" x2="248.58" y2="1059.70" stroke="#111" stroke-width="2.6"/>
<line x1="293.70" y1="1048.40" x2="293.70" y2="1055.40" stroke="#111" stroke-width="2.6"/>
<line x1="338.82" y1="1048.40" x2="338.82" y2="1059.70" stroke="#111" stroke-width="2.6"/>
<line x1="383.94" y1="1048.40" x2="383.94" y2="1055.40" stroke="#111" stroke-width="2.6"/>
<line x1="429.06" y1="1048.40" x2="429.06" y2="1059.70" stroke="#111" stroke-width="2.6"/>
<line x1="474.18" y1="1048.40" x2="474.18" y2="1055.40" stroke="#111" stroke-width="2.6"/>
<line x1="519.30" y1="1048.40" x2="519.30" y2="1059.70" stroke="#111" stroke-width="2.6"/>
<line x1="564.42" y1="1048.40" x2="564.42" y2="1055.40" stroke="#111" stroke-width="2.6"/>
<line x1="609.54" y1="1048.40" x2="609.54" y2="1059.70" stroke="#111" stroke-width="2.6"/>
<text transform="translate(68.10,1087.80) scale(1.0,1.0)" font-family='"Liberation Sans", sans-serif' font-weight="bold" font-size="24.6" fill="#111" text-anchor="middle">280</text>
<text transform="translate(158.34,1087.80) scale(1.0,1.0)" font-family='"Liberation Sans", sans-serif' font-weight="bold" font-size="24.6" fill="#111" text-anchor="middle">282</text>
<text transform="translate(248.58,1087.80) scale(1.0,1.0)" font-family='"Liberation Sans", sans-serif' font-weight="bold" font-size="24.6" fill="#111" text-anchor="middle">284</text>
<text transform="translate(338.82,1087.80) scale(1.0,1.0)" font-family='"Liberation Sans", sans-serif' font-weight="bold" font-size="24.6" fill="#111" text-anchor="middle">286</text>
<text transform="translate(429.06,1087.80) scale(1.0,1.0)" font-family='"Liberation Sans", sans-serif' font-weight="bold" font-size="24.6" fill="#111" text-anchor="middle">288</text>
<text transform="translate(519.30,1087.80) scale(1.0,1.0)" font-family='"Liberation Sans", sans-serif' font-weight="bold" font-size="24.6" fill="#111" text-anchor="middle">290</text>
<text transform="translate(609.54,1087.80) scale(1.0,1.0)" font-family='"Liberation Sans", sans-serif' font-weight="bold" font-size="24.6" fill="#111" text-anchor="middle">292</text>
<text transform="translate(328.00,1123.90) scale(1.0,1.1)" font-family='"Liberation Serif", serif' font-weight="bold" font-size="25.5" fill="#111" text-anchor="middle">Binding Energy (eV)</text>
<text transform="translate(56.00,840.50) scale(1.0,1.14) rotate(-90)" font-family='"Liberation Serif", serif' font-weight="bold" font-size="24.4" fill="#111" text-anchor="middle">Intensity(a.u</text>
<text transform="translate(15.00,633.00) scale(1.0,1.25)" font-family='"Liberation Serif", serif' font-weight="bold" font-size="33" fill="#111" text-anchor="start">(C)</text>
<text transform="translate(77.80,637.00) scale(1.0,1.15)" font-family='"Liberation Serif", serif' font-weight="bold" font-size="31.5" fill="#2626e0" text-anchor="start">C1s</text>
<text transform="translate(77.80,681.60) scale(1.0,1.15)" font-family='"Liberation Serif", serif' font-weight="bold" font-size="31.5" fill="#111" text-anchor="start">GO</text>
<line x1="416.90" y1="621.00" x2="455.30" y2="621.00" stroke="#0a0a0a" stroke-width="3"/>
<line x1="416.90" y1="644.80" x2="455.30" y2="644.80" stroke="#d81c20" stroke-width="3"/>
<line x1="416.90" y1="676.60" x2="455.30" y2="676.60" stroke="#1a0ccc" stroke-width="3"/>
<line x1="416.90" y1="700.60" x2="455.30" y2="700.60" stroke="#e024e4" stroke-width="3"/>
<line x1="416.90" y1="723.70" x2="455.30" y2="723.70" stroke="#28e828" stroke-width="3"/>
<line x1="416.90" y1="747.50" x2="455.30" y2="747.50" stroke="#f08c30" stroke-width="3"/>
<text transform="translate(459.00,626.60) scale(1.0,1.15)" font-family='"Liberation Serif", serif' font-weight="bold" font-size="17" fill="#111" text-anchor="start">Sum</text>
<text transform="translate(460.00,650.40) scale(1.0,1.15)" font-family='"Liberation Serif", serif' font-weight="bold" font-size="17" fill="#111" text-anchor="start">Background</text>
<text transform="translate(463.80,682.20) scale(1.0,1.15)" font-family='"Liberation Serif", serif' font-weight="bold" font-size="17" fill="#111" text-anchor="start">sp<tspan dy="-9" font-size="13">2</tspan></text>
<text transform="translate(460.00,706.20) scale(1.0,1.15)" font-family='"Liberation Serif", serif' font-weight="bold" font-size="17" fill="#111" text-anchor="start">hydroxyl/ epoxide</text>
<text transform="translate(459.00,729.30) scale(1.0,1.15)" font-family='"Liberation Serif", serif' font-weight="bold" font-size="17" fill="#111" text-anchor="start">carbonyl</text>
<text transform="translate(459.00,753.10) scale(1.0,1.15)" font-family='"Liberation Serif", serif' font-weight="bold" font-size="17" fill="#111" text-anchor="start">carboxyl</text>
<polyline points="68.1,1005.4 68.9,1005.4 69.6,1005.4 70.4,1005.3 71.2,1005.3 72.0,1005.3 72.7,1005.2 73.5,1005.2 74.3,1005.1 75.1,1005.1 75.8,1005.1 76.6,1005.0 77.4,1005.0 78.2,1004.9 78.9,1004.9 79.7,1004.9 80.5,1004.8 81.3,1004.8 82.0,1004.7 82.8,1004.7 83.6,1004.6 84.4,1004.6 85.1,1004.6 85.9,1004.5 86.7,1004.5 87.5,1004.4 88.2,1004.4 89.0,1004.3 89.8,1004.3 90.6,1004.2 91.3,1004.2 92.1,1004.1 92.9,1004.1 93.7,1004.0 94.4,1004.0 95.2,1003.9 96.0,1003.9 96.8,1003.8 97.5,1003.7 98.3,1003.7 99.1,1003.6 99.9,1003.6 100.6,1003.5 101.4,1003.5 102.2,1003.4 103.0,1003.3 103.7,1003.3 104.5,1003.2 105.3,1003.2 106.1,1003.1 106.8,1003.0 107.6,1003.0 108.4,1002.9 109.2,1002.8 109.9,1002.8 110.7,1002.7 111.5,1002.6 112.3,1002.5 113.0,1002.5 113.8,1002.4 114.6,1002.3 115.4,1002.3 116.1,1002.2 116.9,1002.1 117.7,1002.0 118.4,1001.9 119.2,1001.9 120.0,1001.8 120.8,1001.7 121.5,1001.6 122.3,1001.5 123.1,1001.4 123.9,1001.4 124.6,1001.3 125.4,1001.2 126.2,1001.1 127.0,1001.0 127.7,1000.9 128.5,1000.8 129.3,1000.7 130.1,1000.6 130.8,1000.5 131.6,1000.4 132.4,1000.3 133.2,1000.2 133.9,1000.1 134.7,1000.0 135.5,999.9 136.3,999.8 137.0,999.6 137.8,999.5 138.6,999.4 139.4,999.3 140.1,999.2 140.9,999.0 141.7,998.9 142.5,998.8 143.2,998.7 144.0,998.5 144.8,998.4 145.6,998.3 146.3,998.1 147.1,998.0 147.9,997.8 148.7,997.7 149.4,997.5 150.2,997.4 151.0,997.2 151.8,997.1 152.5,996.9 153.3,996.7 154.1,996.6 154.9,996.4 155.6,996.2 156.4,996.0 157.2,995.9 158.0,995.7 158.7,995.5 159.5,995.3 160.3,995.1 161.1,994.9 161.8,994.7 162.6,994.5 163.4,994.3 164.1,994.1 164.9,993.8 165.7,993.6 166.5,993.4 167.2,993.1 168.0,992.9 168.8,992.6 169.6,992.4 170.3,992.1 171.1,991.9 171.9,991.6 172.7,991.3 173.4,991.0 174.2,990.7 175.0,990.4 175.8,990.1 176.5,989.8 177.3,989.5 178.1,989.2 178.9,988.8 179.6,988.5 180.4,988.1 181.2,987.8 182.0,987.4 182.7,987.0 183.5,986.6 184.3,986.2 185.1,985.8 185.8,985.4 186.6,984.9 187.4,984.5 188.2,984.0 188.9,983.6 189.7,983.1 190.5,982.6 191.3,982.0 192.0,981.5 192.8,981.0 193.6,980.4 194.4,979.8 195.1,979.2 195.9,978.6 196.7,978.0 197.5,977.3 198.2,976.6 199.0,975.9 199.8,975.2 200.6,974.4 201.3,973.7 202.1,972.9 202.9,972.0 203.7,971.2 204.4,970.3 205.2,969.4 206.0,968.4 206.8,967.4 207.5,966.4 208.3,965.4 209.1,964.3 209.9,963.1 210.6,962.0 211.4,960.7 212.2,959.5 212.9,958.1 213.7,956.8 214.5,955.3 215.3,953.8 216.0,952.3 216.8,950.7 217.6,949.0 218.4,947.3 219.1,945.4 219.9,943.6 220.7,941.6 221.5,939.5 222.2,937.4 223.0,935.2 223.8,932.8 224.6,930.4 225.3,927.9 226.1,925.3 226.9,922.5 227.7,919.7 228.4,916.7 229.2,913.6 230.0,910.4 230.8,907.1 231.5,903.6 232.3,900.0 233.1,896.3 233.9,892.4 234.6,888.4 235.4,884.3 236.2,880.1 237.0,875.8 237.7,871.3 238.5,866.8 239.3,862.2 240.1,857.5 240.8,852.8 241.6,848.1 242.4,843.5 243.2,838.8 243.9,834.3 244.7,829.8 245.5,825.5 246.3,821.5 247.0,817.6 247.8,814.1 248.6,810.8 249.4,808.0 250.1,805.5 250.9,803.5 251.7,801.9 252.5,800.8 253.2,800.2 254.0,800.1 254.8,800.4 255.6,801.3 256.3,802.5 257.1,804.2 257.9,806.3 258.6,808.7 259.4,811.5 260.2,814.4 261.0,817.7 261.7,821.0 262.5,824.6 263.3,828.2 264.1,831.9 264.8,835.6 265.6,839.3 266.4,842.9 267.2,846.5 267.9,850.1 268.7,853.5 269.5,856.8 270.3,860.0 271.0,863.1 271.8,866.0 272.6,868.7 273.4,871.3 274.1,873.8 274.9,876.1 275.7,878.2 276.5,880.2 277.2,882.0 278.0,883.7 278.8,885.2 279.6,886.6 280.3,887.8 281.1,888.8 281.9,889.7 282.7,890.5 283.4,891.1 284.2,891.6 285.0,891.9 285.8,892.1 286.5,892.2 287.3,892.1 288.1,891.9 288.9,891.6 289.6,891.1 290.4,890.5 291.2,889.7 292.0,888.8 292.7,887.8 293.5,886.7 294.3,885.4 295.1,884.0 295.8,882.5 296.6,880.8 297.4,879.0 298.2,877.0 298.9,875.0 299.7,872.8 300.5,870.4 301.3,867.9 302.0,865.3 302.8,862.6 303.6,859.7 304.4,856.6 305.1,853.5 305.9,850.2 306.7,846.7 307.4,843.1 308.2,839.4 309.0,835.5 309.8,831.5 310.5,827.3 311.3,823.0 312.1,818.6 312.9,814.0 313.6,809.3 314.4,804.5 315.2,799.6 316.0,794.5 316.7,789.3 317.5,784.0 318.3,778.6 319.1,773.1 319.8,767.5 320.6,761.9 321.4,756.1 322.2,750.4 322.9,744.5 323.7,738.7 324.5,732.8 325.3,727.0 326.0,721.1 326.8,715.4 327.6,709.7 328.4,704.0 329.1,698.6 329.9,693.2 330.7,688.0 331.5,683.1 332.2,678.3 333.0,673.8 333.8,669.6 334.6,665.7 335.3,662.1 336.1,658.9 336.9,656.0 337.7,653.6 338.4,651.6 339.2,650.0 340.0,648.9 340.8,648.2 341.5,647.9 342.3,648.1 343.1,648.7 343.9,649.8 344.6,651.3 345.4,653.3 346.2,655.6 347.0,658.3 347.7,661.3 348.5,664.7 349.3,668.3 350.1,672.2 350.8,676.4 351.6,680.8 352.4,685.4 353.1,690.1 353.9,695.0 354.7,699.9 355.5,705.0 356.2,710.1 357.0,715.2 357.8,720.4 358.6,725.5 359.3,730.6 360.1,735.7 360.9,740.7 361.7,745.7 362.4,750.6 363.2,755.4 364.0,760.1 364.8,764.7 365.5,769.2 366.3,773.6 367.1,777.8 367.9,781.9 368.6,785.9 369.4,789.8 370.2,793.5 371.0,797.1 371.7,800.5 372.5,803.8 373.3,807.0 374.1,810.1 374.8,813.0 375.6,815.7 376.4,818.4 377.2,820.9 377.9,823.3 378.7,825.6 379.5,827.8 380.3,829.8 381.0,831.8 381.8,833.6 382.6,835.3 383.4,837.0 384.1,838.5 384.9,840.0 385.7,841.3 386.5,842.6 387.2,843.8 388.0,844.9 388.8,846.0 389.6,847.0 390.3,848.0 391.1,848.9 391.9,849.7 392.7,850.5 393.4,851.3 394.2,852.0 395.0,852.7 395.8,853.4 396.5,854.1 397.3,854.8 398.1,855.4 398.9,856.0 399.6,856.7 400.4,857.3 401.2,858.0 401.9,858.6 402.7,859.3 403.5,860.0 404.3,860.7 405.0,861.4 405.8,862.2 406.6,862.9 407.4,863.7 408.1,864.5 408.9,865.4 409.7,866.3 410.5,867.1 411.2,868.1 412.0,869.0 412.8,870.0 413.6,870.9 414.3,871.9 415.1,872.9 415.9,874.0 416.7,875.0 417.4,876.1 418.2,877.1 419.0,878.2 419.8,879.3 420.5,880.4 421.3,881.5 422.1,882.5 422.9,883.6 423.6,884.7 424.4,885.8 425.2,886.8 426.0,887.9 426.7,888.9 427.5,889.9 428.3,890.9 429.1,891.9 429.8,892.9 430.6,893.9 431.4,894.8 432.2,895.7 432.9,896.7 433.7,897.6 434.5,898.4 435.3,899.3 436.0,900.2 436.8,901.0 437.6,901.8 438.4,902.7 439.1,903.5 439.9,904.3 440.7,905.1 441.5,905.9 442.2,906.7 443.0,907.5 443.8,908.3 444.6,909.1 445.3,910.0 446.1,910.8 446.9,911.7 447.7,912.5 448.4,913.4 449.2,914.3 450.0,915.3 450.7,916.2 451.5,917.2 452.3,918.2 453.1,919.2 453.8,920.3 454.6,921.4 455.4,922.5 456.2,923.6 456.9,924.7 457.7,925.9 458.5,927.0 459.3,928.2 460.0,929.4 460.8,930.6 461.6,931.8 462.4,933.0 463.1,934.2 463.9,935.4 464.7,936.6 465.5,937.7 466.2,938.9 467.0,940.1 467.8,941.2 468.6,942.4 469.3,943.5 470.1,944.6 470.9,945.7 471.7,946.7 472.4,947.7 473.2,948.8 474.0,949.8 474.8,950.7 475.5,951.7 476.3,952.6 477.1,953.5 477.9,954.3 478.6,955.2 479.4,956.0 480.2,956.7 481.0,957.5 481.7,958.2 482.5,958.9 483.3,959.6 484.1,960.3 484.8,960.9 485.6,961.5 486.4,962.0 487.2,962.6 487.9,963.1 488.7,963.6 489.5,964.1 490.3,964.6 491.0,965.0 491.8,965.4 492.6,965.8 493.4,966.2 494.1,966.6 494.9,966.9 495.7,967.3 496.4,967.6 497.2,967.9 498.0,968.2 498.8,968.4 499.5,968.7 500.3,968.9 501.1,969.2 501.9,969.4 502.6,969.6 503.4,969.8 504.2,970.0 505.0,970.2 505.7,970.4 506.5,970.6 507.3,970.8 508.1,970.9 508.8,971.1 509.6,971.2 510.4,971.4 511.2,971.5 511.9,971.7 512.7,971.8 513.5,971.9 514.3,972.0 515.0,972.2 515.8,972.3 516.6,972.4 517.4,972.5 518.1,972.6 518.9,972.7 519.7,972.8 520.5,972.9 521.2,973.0 522.0,973.1 522.8,973.2 523.6,973.3 524.3,973.4 525.1,973.5 525.9,973.6 526.7,973.7 527.4,973.7 528.2,973.8 529.0,973.9 529.8,974.0 530.5,974.1 531.3,974.2 532.1,974.2 532.9,974.3 533.6,974.4 534.4,974.4 535.2,974.5 536.0,974.6 536.7,974.7 537.5,974.7 538.3,974.8 539.1,974.9 539.8,974.9 540.6,975.0 541.4,975.1 542.2,975.1 542.9,975.2 543.7,975.3 544.5,975.3 545.2,975.4 546.0,975.4 546.8,975.5 547.6,975.5 548.3,975.6 549.1,975.7 549.9,975.7 550.7,975.8 551.4,975.8 552.2,975.9 553.0,975.9 553.8,976.0 554.5,976.0 555.3,976.1 556.1,976.1 556.9,976.2 557.6,976.2 558.4,976.3 559.2,976.3 560.0,976.4 560.7,976.4 561.5,976.5 562.3,976.5 563.1,976.6 563.8,976.6 564.6,976.7 565.4,976.7 566.2,976.7 566.9,976.8 567.7,976.8 568.5,976.9 569.3,976.9 570.0,977.0 570.8,977.0 571.6,977.0 572.4,977.1 573.1,977.1 573.9,977.2 574.7,977.2 575.5,977.2 576.2,977.3 577.0,977.3 577.8,977.3 578.6,977.4 579.3,977.4 580.1,977.5 580.9,977.5 581.7,977.5 582.4,977.6 583.2,977.6 584.0,977.6 584.8,977.7 585.5,977.7 586.3,977.7 587.1,977.8 587.9,977.8 588.6,977.8 589.4,977.9 590.2,977.9 590.9,977.9 591.7,977.9 592.5,978.0 593.3,978.0 594.0,978.0 594.8,978.1 595.6,978.1 596.4,978.1 597.1,978.2 597.9,978.2 598.7,978.2 599.5,978.2 600.2,978.3 601.0,978.3 601.8,978.3 602.6,978.4 603.3,978.4 604.1,978.4 604.9,978.4 605.7,978.5 606.4,978.5 607.2,978.5 608.0,978.5 608.8,978.6 609.5,978.6" fill="none" stroke="#0a0a0a" stroke-width="3.4" stroke-linejoin="round" stroke-linecap="round"/>
<polyline points="68.1,1010.8 68.9,1010.8 69.6,1010.8 70.4,1010.8 71.2,1010.8 72.0,1010.8 72.7,1010.8 73.5,1010.8 74.3,1010.8 75.1,1010.8 75.8,1010.8 76.6,1010.8 77.4,1010.8 78.2,1010.8 78.9,1010.8 79.7,1010.8 80.5,1010.8 81.3,1010.8 82.0,1010.8 82.8,1010.8 83.6,1010.8 84.4,1010.8 85.1,1010.8 85.9,1010.8 86.7,1010.8 87.5,1010.8 88.2,1010.8 89.0,1010.8 89.8,1010.8 90.6,1010.8 91.3,1010.8 92.1,1010.8 92.9,1010.8 93.7,1010.8 94.4,1010.8 95.2,1010.8 96.0,1010.8 96.8,1010.8 97.5,1010.8 98.3,1010.8 99.1,1010.8 99.9,1010.8 100.6,1010.8 101.4,1010.8 102.2,1010.8 103.0,1010.8 103.7,1010.8 104.5,1010.8 105.3,1010.8 106.1,1010.8 106.8,1010.8 107.6,1010.8 108.4,1010.8 109.2,1010.8 109.9,1010.8 110.7,1010.8 111.5,1010.8 112.3,1010.8 113.0,1010.8 113.8,1010.8 114.6,1010.8 115.4,1010.8 116.1,1010.8 116.9,1010.8 117.7,1010.8 118.4,1010.8 119.2,1010.8 120.0,1010.8 120.8,1010.8 121.5,1010.8 122.3,1010.8 123.1,1010.8 123.9,1010.8 124.6,1010.8 125.4,1010.8 126.2,1010.8 127.0,1010.8 127.7,1010.8 128.5,1010.8 129.3,1010.8 130.1,1010.8 130.8,1010.8 131.6,1010.8 132.4,1010.8 133.2,1010.8 133.9,1010.8 134.7,1010.8 135.5,1010.8 136.3,1010.8 137.0,1010.8 137.8,1010.8 138.6,1010.8 139.4,1010.7 140.1,1010.7 140.9,1010.7 141.7,1010.7 142.5,1010.7 143.2,1010.7 144.0,1010.7 144.8,1010.7 145.6,1010.7 146.3,1010.7 147.1,1010.7 147.9,1010.7 148.7,1010.7 149.4,1010.7 150.2,1010.7 151.0,1010.7 151.8,1010.7 152.5,1010.7 153.3,1010.7 154.1,1010.7 154.9,1010.7 155.6,1010.7 156.4,1010.7 157.2,1010.7 158.0,1010.7 158.7,1010.7 159.5,1010.7 160.3,1010.7 161.1,1010.7 161.8,1010.7 162.6,1010.7 163.4,1010.7 164.1,1010.7 164.9,1010.7 165.7,1010.7 166.5,1010.7 167.2,1010.7 168.0,1010.7 168.8,1010.7 169.6,1010.7 170.3,1010.7 171.1,1010.7 171.9,1010.7 172.7,1010.7 173.4,1010.7 174.2,1010.6 175.0,1010.6 175.8,1010.6 176.5,1010.6 177.3,1010.6 178.1,1010.6 178.9,1010.6 179.6,1010.6 180.4,1010.6 181.2,1010.6 182.0,1010.6 182.7,1010.6 183.5,1010.6 184.3,1010.6 185.1,1010.6 185.8,1010.6 186.6,1010.6 187.4,1010.6 188.2,1010.6 188.9,1010.6 189.7,1010.6 190.5,1010.5 191.3,1010.5 192.0,1010.5 192.8,1010.5 193.6,1010.5 194.4,1010.5 195.1,1010.5 195.9,1010.5 196.7,1010.5 197.5,1010.5 198.2,1010.5 199.0,1010.5 199.8,1010.5 200.6,1010.5 201.3,1010.4 202.1,1010.4 202.9,1010.4 203.7,1010.4 204.4,1010.4 205.2,1010.4 206.0,1010.4 206.8,1010.4 207.5,1010.4 208.3,1010.4 209.1,1010.3 209.9,1010.3 210.6,1010.3 211.4,1010.3 212.2,1010.3 212.9,1010.3 213.7,1010.3 214.5,1010.3 215.3,1010.3 216.0,1010.2 216.8,1010.2 217.6,1010.2 218.4,1010.2 219.1,1010.2 219.9,1010.2 220.7,1010.2 221.5,1010.1 222.2,1010.1 223.0,1010.1 223.8,1010.1 224.6,1010.1 225.3,1010.1 226.1,1010.0 226.9,1010.0 227.7,1010.0 228.4,1010.0 229.2,1010.0 230.0,1009.9 230.8,1009.9 231.5,1009.9 232.3,1009.9 233.1,1009.8 233.9,1009.8 234.6,1009.8 235.4,1009.8 236.2,1009.8 237.0,1009.7 237.7,1009.7 238.5,1009.7 239.3,1009.7 240.1,1009.6 240.8,1009.6 241.6,1009.6 242.4,1009.5 243.2,1009.5 243.9,1009.5 244.7,1009.4 245.5,1009.4 246.3,1009.4 247.0,1009.3 247.8,1009.3 248.6,1009.3 249.4,1009.2 250.1,1009.2 250.9,1009.2 251.7,1009.1 252.5,1009.1 253.2,1009.1 254.0,1009.0 254.8,1009.0 255.6,1008.9 256.3,1008.9 257.1,1008.8 257.9,1008.8 258.6,1008.7 259.4,1008.7 260.2,1008.7 261.0,1008.6 261.7,1008.6 262.5,1008.5 263.3,1008.5 264.1,1008.4 264.8,1008.3 265.6,1008.3 266.4,1008.2 267.2,1008.2 267.9,1008.1 268.7,1008.1 269.5,1008.0 270.3,1007.9 271.0,1007.9 271.8,1007.8 272.6,1007.7 273.4,1007.7 274.1,1007.6 274.9,1007.5 275.7,1007.5 276.5,1007.4 277.2,1007.3 278.0,1007.2 278.8,1007.2 279.6,1007.1 280.3,1007.0 281.1,1006.9 281.9,1006.8 282.7,1006.8 283.4,1006.7 284.2,1006.6 285.0,1006.5 285.8,1006.4 286.5,1006.3 287.3,1006.2 288.1,1006.1 288.9,1006.0 289.6,1005.9 290.4,1005.8 291.2,1005.7 292.0,1005.6 292.7,1005.5 293.5,1005.4 294.3,1005.3 295.1,1005.2 295.8,1005.1 296.6,1005.0 297.4,1004.9 298.2,1004.7 298.9,1004.6 299.7,1004.5 300.5,1004.4 301.3,1004.3 302.0,1004.1 302.8,1004.0 303.6,1003.9 304.4,1003.8 305.1,1003.6 305.9,1003.5 306.7,1003.4 307.4,1003.2 308.2,1003.1 309.0,1003.0 309.8,1002.8 310.5,1002.7 311.3,1002.5 312.1,1002.4 312.9,1002.2 313.6,1002.1 314.4,1002.0 315.2,1001.8 316.0,1001.7 316.7,1001.5 317.5,1001.3 318.3,1001.2 319.1,1001.0 319.8,1000.9 320.6,1000.7 321.4,1000.6 322.2,1000.4 322.9,1000.2 323.7,1000.1 324.5,999.9 325.3,999.8 326.0,999.6 326.8,999.4 327.6,999.3 328.4,999.1 329.1,998.9 329.9,998.8 330.7,998.6 331.5,998.4 332.2,998.3 333.0,998.1 333.8,997.9 334.6,997.7 335.3,997.6 336.1,997.4 336.9,997.2 337.7,997.1 338.4,996.9 339.2,996.7 340.0,996.5 340.8,996.4 341.5,996.2 342.3,996.0 343.1,995.9 343.9,995.7 344.6,995.5 345.4,995.3 346.2,995.2 347.0,995.0 347.7,994.8 348.5,994.7 349.3,994.5 350.1,994.3 350.8,994.2 351.6,994.0 352.4,993.8 353.1,993.7 353.9,993.5 354.7,993.4 355.5,993.2 356.2,993.0 357.0,992.9 357.8,992.7 358.6,992.6 359.3,992.4 360.1,992.3 360.9,992.1 361.7,991.9 362.4,991.8 363.2,991.6 364.0,991.5 364.8,991.4 365.5,991.2 366.3,991.1 367.1,990.9 367.9,990.8 368.6,990.6 369.4,990.5 370.2,990.4 371.0,990.2 371.7,990.1 372.5,990.0 373.3,989.8 374.1,989.7 374.8,989.6 375.6,989.5 376.4,989.3 377.2,989.2 377.9,989.1 378.7,989.0 379.5,988.9 380.3,988.7 381.0,988.6 381.8,988.5 382.6,988.4 383.4,988.3 384.1,988.2 384.9,988.1 385.7,988.0 386.5,987.9 387.2,987.8 388.0,987.7 388.8,987.6 389.6,987.5 390.3,987.4 391.1,987.3 391.9,987.2 392.7,987.1 393.4,987.0 394.2,986.9 395.0,986.8 395.8,986.8 396.5,986.7 397.3,986.6 398.1,986.5 398.9,986.4 399.6,986.4 400.4,986.3 401.2,986.2 401.9,986.1 402.7,986.1 403.5,986.0 404.3,985.9 405.0,985.9 405.8,985.8 406.6,985.7 407.4,985.7 408.1,985.6 408.9,985.5 409.7,985.5 410.5,985.4 411.2,985.4 412.0,985.3 412.8,985.3 413.6,985.2 414.3,985.1 415.1,985.1 415.9,985.0 416.7,985.0 417.4,984.9 418.2,984.9 419.0,984.9 419.8,984.8 420.5,984.8 421.3,984.7 422.1,984.7 422.9,984.6 423.6,984.6 424.4,984.5 425.2,984.5 426.0,984.5 426.7,984.4 427.5,984.4 428.3,984.4 429.1,984.3 429.8,984.3 430.6,984.3 431.4,984.2 432.2,984.2 432.9,984.2 433.7,984.1 434.5,984.1 435.3,984.1 436.0,984.0 436.8,984.0 437.6,984.0 438.4,983.9 439.1,983.9 439.9,983.9 440.7,983.9 441.5,983.8 442.2,983.8 443.0,983.8 443.8,983.8 444.6,983.8 445.3,983.7 446.1,983.7 446.9,983.7 447.7,983.7 448.4,983.6 449.2,983.6 450.0,983.6 450.7,983.6 451.5,983.6 452.3,983.5 453.1,983.5 453.8,983.5 454.6,983.5 455.4,983.5 456.2,983.5 456.9,983.4 457.7,983.4 458.5,983.4 459.3,983.4 460.0,983.4 460.8,983.4 461.6,983.4 462.4,983.3 463.1,983.3 463.9,983.3 464.7,983.3 465.5,983.3 466.2,983.3 467.0,983.3 467.8,983.3 468.6,983.3 469.3,983.2 470.1,983.2 470.9,983.2 471.7,983.2 472.4,983.2 473.2,983.2 474.0,983.2 474.8,983.2 475.5,983.2 476.3,983.2 477.1,983.1 477.9,983.1 478.6,983.1 479.4,983.1 480.2,983.1 481.0,983.1 481.7,983.1 482.5,983.1 483.3,983.1 484.1,983.1 484.8,983.1 485.6,983.1 486.4,983.1 487.2,983.1 487.9,983.0 488.7,983.0 489.5,983.0 490.3,983.0 491.0,983.0 491.8,983.0 492.6,983.0 493.4,983.0 494.1,983.0 494.9,983.0 495.7,983.0 496.4,983.0 497.2,983.0 498.0,983.0 498.8,983.0 499.5,983.0 500.3,983.0 501.1,983.0 501.9,983.0 502.6,983.0 503.4,983.0 504.2,982.9 505.0,982.9 505.7,982.9 506.5,982.9 507.3,982.9 508.1,982.9 508.8,982.9 509.6,982.9 510.4,982.9 511.2,982.9 511.9,982.9 512.7,982.9 513.5,982.9 514.3,982.9 515.0,982.9 515.8,982.9 516.6,982.9 517.4,982.9 518.1,982.9 518.9,982.9 519.7,982.9 520.5,982.9 521.2,982.9 522.0,982.9 522.8,982.9 523.6,982.9 524.3,982.9 525.1,982.9 525.9,982.9 526.7,982.9 527.4,982.9 528.2,982.9 529.0,982.9 529.8,982.9 530.5,982.9 531.3,982.9 532.1,982.9 532.9,982.9 533.6,982.9 534.4,982.9 535.2,982.9 536.0,982.9 536.7,982.9 537.5,982.9 538.3,982.9 539.1,982.8 539.8,982.8 540.6,982.8 541.4,982.8 542.2,982.8 542.9,982.8 543.7,982.8 544.5,982.8 545.2,982.8 546.0,982.8 546.8,982.8 547.6,982.8 548.3,982.8 549.1,982.8 549.9,982.8 550.7,982.8 551.4,982.8 552.2,982.8 553.0,982.8 553.8,982.8 554.5,982.8 555.3,982.8 556.1,982.8 556.9,982.8 557.6,982.8 558.4,982.8 559.2,982.8 560.0,982.8 560.7,982.8 561.5,982.8 562.3,982.8 563.1,982.8 563.8,982.8 564.6,982.8 565.4,982.8 566.2,982.8 566.9,982.8 567.7,982.8 568.5,982.8 569.3,982.8 570.0,982.8 570.8,982.8 571.6,982.8 572.4,982.8 573.1,982.8 573.9,982.8 574.7,982.8 575.5,982.8 576.2,982.8 577.0,982.8 577.8,982.8 578.6,982.8 579.3,982.8 580.1,982.8 580.9,982.8 581.7,982.8 582.4,982.8 583.2,982.8 584.0,982.8 584.8,982.8 585.5,982.8 586.3,982.8 587.1,982.8 587.9,982.8 588.6,982.8 589.4,982.8 590.2,982.8 590.9,982.8 591.7,982.8 592.5,982.8 593.3,982.8 594.0,982.8 594.8,982.8 595.6,982.8 596.4,982.8 597.1,982.8 597.9,982.8 598.7,982.8 599.5,982.8 600.2,982.8 601.0,982.8 601.8,982.8 602.6,982.8 603.3,982.8 604.1,982.8 604.9,982.8 605.7,982.8 606.4,982.8 607.2,982.8 608.0,982.8 608.8,982.8 609.5,982.8" fill="none" stroke="#d81c20" stroke-width="3.4" stroke-linejoin="round" stroke-linecap="round"/>
<polyline points="68.1,1008.5 68.9,1008.5 69.6,1008.4 70.4,1008.4 71.2,1008.4 72.0,1008.4 72.7,1008.4 73.5,1008.3 74.3,1008.3 75.1,1008.3 75.8,1008.3 76.6,1008.2 77.4,1008.2 78.2,1008.2 78.9,1008.2 79.7,1008.2 80.5,1008.1 81.3,1008.1 82.0,1008.1 82.8,1008.1 83.6,1008.0 84.4,1008.0 85.1,1008.0 85.9,1008.0 86.7,1007.9 87.5,1007.9 88.2,1007.9 89.0,1007.8 89.8,1007.8 90.6,1007.8 91.3,1007.8 92.1,1007.7 92.9,1007.7 93.7,1007.7 94.4,1007.6 95.2,1007.6 96.0,1007.6 96.8,1007.5 97.5,1007.5 98.3,1007.5 99.1,1007.5 99.9,1007.4 100.6,1007.4 101.4,1007.3 102.2,1007.3 103.0,1007.3 103.7,1007.2 104.5,1007.2 105.3,1007.2 106.1,1007.1 106.8,1007.1 107.6,1007.1 108.4,1007.0 109.2,1007.0 109.9,1006.9 110.7,1006.9 111.5,1006.8 112.3,1006.8 113.0,1006.8 113.8,1006.7 114.6,1006.7 115.4,1006.6 116.1,1006.6 116.9,1006.5 117.7,1006.5 118.4,1006.4 119.2,1006.4 120.0,1006.3 120.8,1006.3 121.5,1006.2 122.3,1006.2 123.1,1006.1 123.9,1006.1 124.6,1006.0 125.4,1006.0 126.2,1005.9 127.0,1005.8 127.7,1005.8 128.5,1005.7 129.3,1005.7 130.1,1005.6 130.8,1005.5 131.6,1005.5 132.4,1005.4 133.2,1005.3 133.9,1005.3 134.7,1005.2 135.5,1005.1 136.3,1005.0 137.0,1005.0 137.8,1004.9 138.6,1004.8 139.4,1004.7 140.1,1004.6 140.9,1004.6 141.7,1004.5 142.5,1004.4 143.2,1004.3 144.0,1004.2 144.8,1004.1 145.6,1004.0 146.3,1003.9 147.1,1003.8 147.9,1003.7 148.7,1003.6 149.4,1003.5 150.2,1003.4 151.0,1003.3 151.8,1003.2 152.5,1003.1 153.3,1003.0 154.1,1002.9 154.9,1002.7 155.6,1002.6 156.4,1002.5 157.2,1002.4 158.0,1002.2 158.7,1002.1 159.5,1001.9 160.3,1001.8 161.1,1001.7 161.8,1001.5 162.6,1001.4 163.4,1001.2 164.1,1001.0 164.9,1000.9 165.7,1000.7 166.5,1000.5 167.2,1000.4 168.0,1000.2 168.8,1000.0 169.6,999.8 170.3,999.6 171.1,999.4 171.9,999.2 172.7,999.0 173.4,998.8 174.2,998.6 175.0,998.3 175.8,998.1 176.5,997.8 177.3,997.6 178.1,997.3 178.9,997.1 179.6,996.8 180.4,996.5 181.2,996.3 182.0,996.0 182.7,995.7 183.5,995.3 184.3,995.0 185.1,994.7 185.8,994.4 186.6,994.0 187.4,993.6 188.2,993.3 188.9,992.9 189.7,992.5 190.5,992.1 191.3,991.6 192.0,991.2 192.8,990.8 193.6,990.3 194.4,989.8 195.1,989.3 195.9,988.8 196.7,988.3 197.5,987.7 198.2,987.1 199.0,986.5 199.8,985.9 200.6,985.3 201.3,984.6 202.1,983.9 202.9,983.2 203.7,982.5 204.4,981.7 205.2,980.9 206.0,980.1 206.8,979.2 207.5,978.4 208.3,977.4 209.1,976.5 209.9,975.5 210.6,974.4 211.4,973.3 212.2,972.2 212.9,971.0 213.7,969.8 214.5,968.5 215.3,967.2 216.0,965.8 216.8,964.3 217.6,962.8 218.4,961.2 219.1,959.6 219.9,957.9 220.7,956.1 221.5,954.2 222.2,952.2 223.0,950.2 223.8,948.1 224.6,945.8 225.3,943.5 226.1,941.1 226.9,938.5 227.7,935.9 228.4,933.1 229.2,930.2 230.0,927.2 230.8,924.1 231.5,920.9 232.3,917.5 233.1,914.0 233.9,910.4 234.6,906.6 235.4,902.8 236.2,898.8 237.0,894.7 237.7,890.5 238.5,886.3 239.3,882.0 240.1,877.6 240.8,873.2 241.6,868.8 242.4,864.4 243.2,860.0 243.9,855.8 244.7,851.6 245.5,847.7 246.3,843.9 247.0,840.4 247.8,837.2 248.6,834.4 249.4,831.9 250.1,829.8 250.9,828.1 251.7,827.0 252.5,826.3 253.2,826.1 254.0,826.4 254.8,827.1 255.6,828.4 256.3,830.1 257.1,832.3 257.9,834.8 258.6,837.7 259.4,841.0 260.2,844.5 261.0,848.2 261.7,852.2 262.5,856.3 263.3,860.5 264.1,864.7 264.8,869.1 265.6,873.4 266.4,877.7 267.2,882.0 267.9,886.2 268.7,890.4 269.5,894.4 270.3,898.4 271.0,902.2 271.8,905.9 272.6,909.6 273.4,913.0 274.1,916.4 274.9,919.6 275.7,922.7 276.5,925.7 277.2,928.6 278.0,931.3 278.8,934.0 279.6,936.5 280.3,938.9 281.1,941.2 281.9,943.4 282.7,945.5 283.4,947.5 284.2,949.4 285.0,951.2 285.8,953.0 286.5,954.6 287.3,956.2 288.1,957.7 288.9,959.2 289.6,960.6 290.4,961.9 291.2,963.1 292.0,964.3 292.7,965.5 293.5,966.6 294.3,967.6 295.1,968.6 295.8,969.5 296.6,970.5 297.4,971.3 298.2,972.1 298.9,972.9 299.7,973.7 300.5,974.4 301.3,975.1 302.0,975.7 302.8,976.3 303.6,976.9 304.4,977.5 305.1,978.0 305.9,978.6 306.7,979.0 307.4,979.5 308.2,979.9 309.0,980.4 309.8,980.8 310.5,981.1 311.3,981.5 312.1,981.9 312.9,982.2 313.6,982.5 314.4,982.8 315.2,983.1 316.0,983.3 316.7,983.6 317.5,983.8 318.3,984.0 319.1,984.2 319.8,984.4 320.6,984.6 321.4,984.8 322.2,985.0 322.9,985.1 323.7,985.2 324.5,985.4 325.3,985.5 326.0,985.6 326.8,985.7 327.6,985.8 328.4,985.9 329.1,986.0 329.9,986.1 330.7,986.1 331.5,986.2 332.2,986.2 333.0,986.3 333.8,986.3 334.6,986.4 335.3,986.4 336.1,986.4 336.9,986.4 337.7,986.4 338.4,986.5 339.2,986.5 340.0,986.5 340.8,986.5 341.5,986.4 342.3,986.4 343.1,986.4 343.9,986.4 344.6,986.4 345.4,986.4 346.2,986.3 347.0,986.3 347.7,986.3 348.5,986.2 349.3,986.2 350.1,986.2 350.8,986.1 351.6,986.1 352.4,986.0 353.1,986.0 353.9,985.9 354.7,985.9 355.5,985.8 356.2,985.8 357.0,985.7 357.8,985.7 358.6,985.6 359.3,985.5 360.1,985.5 360.9,985.4 361.7,985.4 362.4,985.3 363.2,985.2 364.0,985.2 364.8,985.1 365.5,985.1 366.3,985.0 367.1,984.9 367.9,984.9 368.6,984.8 369.4,984.7 370.2,984.7 371.0,984.6 371.7,984.6 372.5,984.5 373.3,984.4 374.1,984.4 374.8,984.3 375.6,984.2 376.4,984.2 377.2,984.1 377.9,984.1 378.7,984.0 379.5,983.9 380.3,983.9 381.0,983.8 381.8,983.8 382.6,983.7 383.4,983.7 384.1,983.6 384.9,983.6 385.7,983.5 386.5,983.5 387.2,983.4 388.0,983.4 388.8,983.3 389.6,983.3 390.3,983.2 391.1,983.2 391.9,983.1 392.7,983.1 393.4,983.0 394.2,983.0 395.0,982.9 395.8,982.9 396.5,982.8 397.3,982.8 398.1,982.8 398.9,982.7 399.6,982.7 400.4,982.6 401.2,982.6 401.9,982.6 402.7,982.5 403.5,982.5 404.3,982.5 405.0,982.4 405.8,982.4 406.6,982.4 407.4,982.3 408.1,982.3 408.9,982.3 409.7,982.3 410.5,982.2 411.2,982.2 412.0,982.2 412.8,982.2 413.6,982.1 414.3,982.1 415.1,982.1 415.9,982.1 416.7,982.0 417.4,982.0 418.2,982.0 419.0,982.0 419.8,981.9 420.5,981.9 421.3,981.9 422.1,981.9 422.9,981.9 423.6,981.9 424.4,981.8 425.2,981.8 426.0,981.8 426.7,981.8 427.5,981.8 428.3,981.8 429.1,981.8 429.8,981.7 430.6,981.7 431.4,981.7 432.2,981.7 432.9,981.7 433.7,981.7 434.5,981.7 435.3,981.7 436.0,981.7 436.8,981.6 437.6,981.6 438.4,981.6 439.1,981.6 439.9,981.6 440.7,981.6 441.5,981.6 442.2,981.6 443.0,981.6 443.8,981.6 444.6,981.6 445.3,981.6 446.1,981.6 446.9,981.6 447.7,981.6 448.4,981.6 449.2,981.6 450.0,981.6 450.7,981.5 451.5,981.5 452.3,981.5 453.1,981.5 453.8,981.5 454.6,981.5 455.4,981.5 456.2,981.5 456.9,981.5 457.7,981.5 458.5,981.5 459.3,981.5 460.0,981.5 460.8,981.5 461.6,981.5 462.4,981.5 463.1,981.5 463.9,981.5 464.7,981.5 465.5,981.5 466.2,981.5 467.0,981.5 467.8,981.5 468.6,981.5 469.3,981.5 470.1,981.5 470.9,981.5 471.7,981.5 472.4,981.5 473.2,981.5 474.0,981.5 474.8,981.5 475.5,981.6 476.3,981.6 477.1,981.6 477.9,981.6 478.6,981.6 479.4,981.6 480.2,981.6 481.0,981.6 481.7,981.6 482.5,981.6 483.3,981.6 484.1,981.6 484.8,981.6 485.6,981.6 486.4,981.6 487.2,981.6 487.9,981.6 488.7,981.6 489.5,981.6 490.3,981.6 491.0,981.6 491.8,981.6 492.6,981.6 493.4,981.6 494.1,981.6 494.9,981.6 495.7,981.6 496.4,981.6 497.2,981.6 498.0,981.6 498.8,981.7 499.5,981.7 500.3,981.7 501.1,981.7 501.9,981.7 502.6,981.7 503.4,981.7 504.2,981.7 505.0,981.7 505.7,981.7 506.5,981.7 507.3,981.7 508.1,981.7 508.8,981.7 509.6,981.7 510.4,981.7 511.2,981.7 511.9,981.7 512.7,981.7 513.5,981.7 514.3,981.7 515.0,981.7 515.8,981.7 516.6,981.7 517.4,981.8 518.1,981.8 518.9,981.8 519.7,981.8 520.5,981.8 521.2,981.8 522.0,981.8 522.8,981.8 523.6,981.8 524.3,981.8 525.1,981.8 525.9,981.8 526.7,981.8 527.4,981.8 528.2,981.8 529.0,981.8 529.8,981.8 530.5,981.8 531.3,981.8 532.1,981.8 532.9,981.8 533.6,981.8 534.4,981.8 535.2,981.8 536.0,981.9 536.7,981.9 537.5,981.9 538.3,981.9 539.1,981.9 539.8,981.9 540.6,981.9 541.4,981.9 542.2,981.9 542.9,981.9 543.7,981.9 544.5,981.9 545.2,981.9 546.0,981.9 546.8,981.9 547.6,981.9 548.3,981.9 549.1,981.9 549.9,981.9 550.7,981.9 551.4,981.9 552.2,981.9 553.0,981.9 553.8,981.9 554.5,981.9 555.3,982.0 556.1,982.0 556.9,982.0 557.6,982.0 558.4,982.0 559.2,982.0 560.0,982.0 560.7,982.0 561.5,982.0 562.3,982.0 563.1,982.0 563.8,982.0 564.6,982.0 565.4,982.0 566.2,982.0 566.9,982.0 567.7,982.0 568.5,982.0 569.3,982.0 570.0,982.0 570.8,982.0 571.6,982.0 572.4,982.0 573.1,982.0 573.9,982.0 574.7,982.0 575.5,982.0 576.2,982.0 577.0,982.1 577.8,982.1 578.6,982.1 579.3,982.1 580.1,982.1 580.9,982.1 581.7,982.1 582.4,982.1 583.2,982.1 584.0,982.1 584.8,982.1 585.5,982.1 586.3,982.1 587.1,982.1 587.9,982.1 588.6,982.1 589.4,982.1 590.2,982.1 590.9,982.1 591.7,982.1 592.5,982.1 593.3,982.1 594.0,982.1 594.8,982.1 595.6,982.1 596.4,982.1 597.1,982.1 597.9,982.1 598.7,982.1 599.5,982.1 600.2,982.1 601.0,982.1 601.8,982.1 602.6,982.1 603.3,982.2 604.1,982.2 604.9,982.2 605.7,982.2 606.4,982.2 607.2,982.2 608.0,982.2 608.8,982.2 609.5,982.2" fill="none" stroke="#1a0ccc" stroke-width="3.4" stroke-linejoin="round" stroke-linecap="round"/>
<polyline points="68.1,1008.0 68.9,1008.0 69.6,1008.0 70.4,1008.0 71.2,1007.9 72.0,1007.9 72.7,1007.9 73.5,1007.9 74.3,1007.9 75.1,1007.9 75.8,1007.8 76.6,1007.8 77.4,1007.8 78.2,1007.8 78.9,1007.8 79.7,1007.7 80.5,1007.7 81.3,1007.7 82.0,1007.7 82.8,1007.7 83.6,1007.7 84.4,1007.6 85.1,1007.6 85.9,1007.6 86.7,1007.6 87.5,1007.6 88.2,1007.5 89.0,1007.5 89.8,1007.5 90.6,1007.5 91.3,1007.5 92.1,1007.4 92.9,1007.4 93.7,1007.4 94.4,1007.4 95.2,1007.3 96.0,1007.3 96.8,1007.3 97.5,1007.3 98.3,1007.3 99.1,1007.2 99.9,1007.2 100.6,1007.2 101.4,1007.2 102.2,1007.1 103.0,1007.1 103.7,1007.1 104.5,1007.1 105.3,1007.0 106.1,1007.0 106.8,1007.0 107.6,1007.0 108.4,1006.9 109.2,1006.9 109.9,1006.9 110.7,1006.9 111.5,1006.8 112.3,1006.8 113.0,1006.8 113.8,1006.8 114.6,1006.7 115.4,1006.7 116.1,1006.7 116.9,1006.7 117.7,1006.6 118.4,1006.6 119.2,1006.6 120.0,1006.5 120.8,1006.5 121.5,1006.5 122.3,1006.4 123.1,1006.4 123.9,1006.4 124.6,1006.3 125.4,1006.3 126.2,1006.3 127.0,1006.3 127.7,1006.2 128.5,1006.2 129.3,1006.2 130.1,1006.1 130.8,1006.1 131.6,1006.0 132.4,1006.0 133.2,1006.0 133.9,1005.9 134.7,1005.9 135.5,1005.9 136.3,1005.8 137.0,1005.8 137.8,1005.8 138.6,1005.7 139.4,1005.7 140.1,1005.6 140.9,1005.6 141.7,1005.6 142.5,1005.5 143.2,1005.5 144.0,1005.4 144.8,1005.4 145.6,1005.3 146.3,1005.3 147.1,1005.3 147.9,1005.2 148.7,1005.2 149.4,1005.1 150.2,1005.1 151.0,1005.0 151.8,1005.0 152.5,1004.9 153.3,1004.9 154.1,1004.8 154.9,1004.8 155.6,1004.7 156.4,1004.7 157.2,1004.6 158.0,1004.6 158.7,1004.5 159.5,1004.5 160.3,1004.4 161.1,1004.4 161.8,1004.3 162.6,1004.2 163.4,1004.2 164.1,1004.1 164.9,1004.1 165.7,1004.0 166.5,1003.9 167.2,1003.9 168.0,1003.8 168.8,1003.8 169.6,1003.7 170.3,1003.6 171.1,1003.6 171.9,1003.5 172.7,1003.4 173.4,1003.4 174.2,1003.3 175.0,1003.2 175.8,1003.2 176.5,1003.1 177.3,1003.0 178.1,1002.9 178.9,1002.9 179.6,1002.8 180.4,1002.7 181.2,1002.6 182.0,1002.5 182.7,1002.5 183.5,1002.4 184.3,1002.3 185.1,1002.2 185.8,1002.1 186.6,1002.0 187.4,1001.9 188.2,1001.9 188.9,1001.8 189.7,1001.7 190.5,1001.6 191.3,1001.5 192.0,1001.4 192.8,1001.3 193.6,1001.2 194.4,1001.1 195.1,1001.0 195.9,1000.9 196.7,1000.8 197.5,1000.7 198.2,1000.5 199.0,1000.4 199.8,1000.3 200.6,1000.2 201.3,1000.1 202.1,1000.0 202.9,999.8 203.7,999.7 204.4,999.6 205.2,999.5 206.0,999.3 206.8,999.2 207.5,999.1 208.3,998.9 209.1,998.8 209.9,998.6 210.6,998.5 211.4,998.4 212.2,998.2 212.9,998.1 213.7,997.9 214.5,997.7 215.3,997.6 216.0,997.4 216.8,997.3 217.6,997.1 218.4,996.9 219.1,996.7 219.9,996.6 220.7,996.4 221.5,996.2 222.2,996.0 223.0,995.8 223.8,995.6 224.6,995.4 225.3,995.2 226.1,995.0 226.9,994.8 227.7,994.6 228.4,994.4 229.2,994.1 230.0,993.9 230.8,993.7 231.5,993.4 232.3,993.2 233.1,992.9 233.9,992.7 234.6,992.4 235.4,992.2 236.2,991.9 237.0,991.6 237.7,991.3 238.5,991.1 239.3,990.8 240.1,990.5 240.8,990.2 241.6,989.9 242.4,989.5 243.2,989.2 243.9,988.9 244.7,988.5 245.5,988.2 246.3,987.8 247.0,987.5 247.8,987.1 248.6,986.7 249.4,986.3 250.1,985.9 250.9,985.5 251.7,985.1 252.5,984.7 253.2,984.2 254.0,983.8 254.8,983.3 255.6,982.8 256.3,982.4 257.1,981.9 257.9,981.4 258.6,980.8 259.4,980.3 260.2,979.7 261.0,979.2 261.7,978.6 262.5,978.0 263.3,977.3 264.1,976.7 264.8,976.1 265.6,975.4 266.4,974.7 267.2,974.0 267.9,973.2 268.7,972.4 269.5,971.7 270.3,970.8 271.0,970.0 271.8,969.1 272.6,968.2 273.4,967.3 274.1,966.4 274.9,965.4 275.7,964.3 276.5,963.3 277.2,962.2 278.0,961.0 278.8,959.9 279.6,958.6 280.3,957.4 281.1,956.1 281.9,954.7 282.7,953.3 283.4,951.9 284.2,950.4 285.0,948.8 285.8,947.2 286.5,945.5 287.3,943.8 288.1,942.0 288.9,940.1 289.6,938.1 290.4,936.1 291.2,934.1 292.0,931.9 292.7,929.7 293.5,927.3 294.3,924.9 295.1,922.5 295.8,919.9 296.6,917.2 297.4,914.5 298.2,911.6 298.9,908.7 299.7,905.6 300.5,902.5 301.3,899.2 302.0,895.9 302.8,892.4 303.6,888.8 304.4,885.1 305.1,881.3 305.9,877.4 306.7,873.3 307.4,869.2 308.2,864.9 309.0,860.5 309.8,856.0 310.5,851.4 311.3,846.6 312.1,841.8 312.9,836.8 313.6,831.7 314.4,826.5 315.2,821.1 316.0,815.7 316.7,810.2 317.5,804.6 318.3,798.9 319.1,793.1 319.8,787.2 320.6,781.3 321.4,775.3 322.2,769.3 322.9,763.2 323.7,757.2 324.5,751.1 325.3,745.1 326.0,739.1 326.8,733.1 327.6,727.3 328.4,721.5 329.1,715.9 329.9,710.5 330.7,705.2 331.5,700.1 332.2,695.3 333.0,690.8 333.8,686.5 334.6,682.6 335.3,679.0 336.1,675.8 336.9,673.0 337.7,670.6 338.4,668.6 339.2,667.1 340.0,666.0 340.8,665.4 341.5,665.3 342.3,665.6 343.1,666.4 343.9,667.7 344.6,669.4 345.4,671.5 346.2,674.1 347.0,677.0 347.7,680.3 348.5,684.0 349.3,687.9 350.1,692.2 350.8,696.7 351.6,701.5 352.4,706.4 353.1,711.6 353.9,716.9 354.7,722.3 355.5,727.9 356.2,733.5 357.0,739.2 357.8,744.9 358.6,750.7 359.3,756.4 360.1,762.1 360.9,767.8 361.7,773.5 362.4,779.1 363.2,784.7 364.0,790.1 364.8,795.5 365.5,800.8 366.3,806.1 367.1,811.2 367.9,816.2 368.6,821.1 369.4,825.9 370.2,830.6 371.0,835.1 371.7,839.6 372.5,843.9 373.3,848.2 374.1,852.3 374.8,856.3 375.6,860.1 376.4,863.9 377.2,867.5 377.9,871.1 378.7,874.5 379.5,877.8 380.3,881.0 381.0,884.1 381.8,887.1 382.6,890.0 383.4,892.8 384.1,895.5 384.9,898.2 385.7,900.7 386.5,903.1 387.2,905.5 388.0,907.7 388.8,909.9 389.6,912.0 390.3,914.0 391.1,916.0 391.9,917.8 392.7,919.7 393.4,921.4 394.2,923.1 395.0,924.7 395.8,926.2 396.5,927.7 397.3,929.2 398.1,930.6 398.9,931.9 399.6,933.2 400.4,934.4 401.2,935.6 401.9,936.7 402.7,937.8 403.5,938.9 404.3,939.9 405.0,940.9 405.8,941.9 406.6,942.8 407.4,943.7 408.1,944.5 408.9,945.3 409.7,946.1 410.5,946.9 411.2,947.6 412.0,948.4 412.8,949.0 413.6,949.7 414.3,950.4 415.1,951.0 415.9,951.6 416.7,952.2 417.4,952.8 418.2,953.3 419.0,953.8 419.8,954.4 420.5,954.9 421.3,955.4 422.1,955.8 422.9,956.3 423.6,956.7 424.4,957.2 425.2,957.6 426.0,958.0 426.7,958.4 427.5,958.8 428.3,959.2 429.1,959.6 429.8,959.9 430.6,960.3 431.4,960.6 432.2,961.0 432.9,961.3 433.7,961.6 434.5,961.9 435.3,962.2 436.0,962.5 436.8,962.8 437.6,963.1 438.4,963.4 439.1,963.7 439.9,963.9 440.7,964.2 441.5,964.5 442.2,964.7 443.0,965.0 443.8,965.2 444.6,965.4 445.3,965.7 446.1,965.9 446.9,966.1 447.7,966.3 448.4,966.5 449.2,966.8 450.0,967.0 450.7,967.2 451.5,967.4 452.3,967.6 453.1,967.7 453.8,967.9 454.6,968.1 455.4,968.3 456.2,968.5 456.9,968.6 457.7,968.8 458.5,969.0 459.3,969.1 460.0,969.3 460.8,969.5 461.6,969.6 462.4,969.8 463.1,969.9 463.9,970.1 464.7,970.2 465.5,970.4 466.2,970.5 467.0,970.6 467.8,970.8 468.6,970.9 469.3,971.0 470.1,971.2 470.9,971.3 471.7,971.4 472.4,971.5 473.2,971.7 474.0,971.8 474.8,971.9 475.5,972.0 476.3,972.1 477.1,972.2 477.9,972.3 478.6,972.5 479.4,972.6 480.2,972.7 481.0,972.8 481.7,972.9 482.5,973.0 483.3,973.1 484.1,973.2 484.8,973.3 485.6,973.4 486.4,973.4 487.2,973.5 487.9,973.6 488.7,973.7 489.5,973.8 490.3,973.9 491.0,974.0 491.8,974.1 492.6,974.1 493.4,974.2 494.1,974.3 494.9,974.4 495.7,974.5 496.4,974.5 497.2,974.6 498.0,974.7 498.8,974.8 499.5,974.8 500.3,974.9 501.1,975.0 501.9,975.1 502.6,975.1 503.4,975.2 504.2,975.3 505.0,975.3 505.7,975.4 506.5,975.5 507.3,975.5 508.1,975.6 508.8,975.7 509.6,975.7 510.4,975.8 511.2,975.8 511.9,975.9 512.7,976.0 513.5,976.0 514.3,976.1 515.0,976.1 515.8,976.2 516.6,976.2 517.4,976.3 518.1,976.3 518.9,976.4 519.7,976.5 520.5,976.5 521.2,976.6 522.0,976.6 522.8,976.7 523.6,976.7 524.3,976.8 525.1,976.8 525.9,976.8 526.7,976.9 527.4,976.9 528.2,977.0 529.0,977.0 529.8,977.1 530.5,977.1 531.3,977.2 532.1,977.2 532.9,977.3 533.6,977.3 534.4,977.3 535.2,977.4 536.0,977.4 536.7,977.5 537.5,977.5 538.3,977.5 539.1,977.6 539.8,977.6 540.6,977.7 541.4,977.7 542.2,977.7 542.9,977.8 543.7,977.8 544.5,977.8 545.2,977.9 546.0,977.9 546.8,978.0 547.6,978.0 548.3,978.0 549.1,978.1 549.9,978.1 550.7,978.1 551.4,978.2 552.2,978.2 553.0,978.2 553.8,978.3 554.5,978.3 555.3,978.3 556.1,978.4 556.9,978.4 557.6,978.4 558.4,978.4 559.2,978.5 560.0,978.5 560.7,978.5 561.5,978.6 562.3,978.6 563.1,978.6 563.8,978.6 564.6,978.7 565.4,978.7 566.2,978.7 566.9,978.8 567.7,978.8 568.5,978.8 569.3,978.8 570.0,978.9 570.8,978.9 571.6,978.9 572.4,978.9 573.1,979.0 573.9,979.0 574.7,979.0 575.5,979.0 576.2,979.1 577.0,979.1 577.8,979.1 578.6,979.1 579.3,979.2 580.1,979.2 580.9,979.2 581.7,979.2 582.4,979.2 583.2,979.3 584.0,979.3 584.8,979.3 585.5,979.3 586.3,979.4 587.1,979.4 587.9,979.4 588.6,979.4 589.4,979.4 590.2,979.5 590.9,979.5 591.7,979.5 592.5,979.5 593.3,979.5 594.0,979.6 594.8,979.6 595.6,979.6 596.4,979.6 597.1,979.6 597.9,979.7 598.7,979.7 599.5,979.7 600.2,979.7 601.0,979.7 601.8,979.7 602.6,979.8 603.3,979.8 604.1,979.8 604.9,979.8 605.7,979.8 606.4,979.8 607.2,979.9 608.0,979.9 608.8,979.9 609.5,979.9" fill="none" stroke="#e024e4" stroke-width="3.4" stroke-linejoin="round" stroke-linecap="round"/>
<polyline points="68.1,1010.6 68.9,1010.6 69.6,1010.6 70.4,1010.6 71.2,1010.6 72.0,1010.6 72.7,1010.6 73.5,1010.6 74.3,1010.6 75.1,1010.6 75.8,1010.6 76.6,1010.6 77.4,1010.6 78.2,1010.6 78.9,1010.6 79.7,1010.6 80.5,1010.6 81.3,1010.6 82.0,1010.6 82.8,1010.6 83.6,1010.6 84.4,1010.6 85.1,1010.6 85.9,1010.6 86.7,1010.6 87.5,1010.6 88.2,1010.6 89.0,1010.6 89.8,1010.6 90.6,1010.6 91.3,1010.6 92.1,1010.6 92.9,1010.6 93.7,1010.6 94.4,1010.6 95.2,1010.6 96.0,1010.6 96.8,1010.6 97.5,1010.6 98.3,1010.6 99.1,1010.5 99.9,1010.5 100.6,1010.5 101.4,1010.5 102.2,1010.5 103.0,1010.5 103.7,1010.5 104.5,1010.5 105.3,1010.5 106.1,1010.5 106.8,1010.5 107.6,1010.5 108.4,1010.5 109.2,1010.5 109.9,1010.5 110.7,1010.5 111.5,1010.5 112.3,1010.5 113.0,1010.5 113.8,1010.5 114.6,1010.5 115.4,1010.5 116.1,1010.5 116.9,1010.5 117.7,1010.5 118.4,1010.5 119.2,1010.5 120.0,1010.5 120.8,1010.5 121.5,1010.5 122.3,1010.5 123.1,1010.5 123.9,1010.5 124.6,1010.5 125.4,1010.5 126.2,1010.5 127.0,1010.5 127.7,1010.5 128.5,1010.5 129.3,1010.5 130.1,1010.5 130.8,1010.5 131.6,1010.5 132.4,1010.5 133.2,1010.5 133.9,1010.5 134.7,1010.5 135.5,1010.5 136.3,1010.4 137.0,1010.4 137.8,1010.4 138.6,1010.4 139.4,1010.4 140.1,1010.4 140.9,1010.4 141.7,1010.4 142.5,1010.4 143.2,1010.4 144.0,1010.4 144.8,1010.4 145.6,1010.4 146.3,1010.4 147.1,1010.4 147.9,1010.4 148.7,1010.4 149.4,1010.4 150.2,1010.4 151.0,1010.4 151.8,1010.4 152.5,1010.4 153.3,1010.4 154.1,1010.4 154.9,1010.4 155.6,1010.4 156.4,1010.4 157.2,1010.4 158.0,1010.3 158.7,1010.3 159.5,1010.3 160.3,1010.3 161.1,1010.3 161.8,1010.3 162.6,1010.3 163.4,1010.3 164.1,1010.3 164.9,1010.3 165.7,1010.3 166.5,1010.3 167.2,1010.3 168.0,1010.3 168.8,1010.3 169.6,1010.3 170.3,1010.3 171.1,1010.3 171.9,1010.3 172.7,1010.2 173.4,1010.2 174.2,1010.2 175.0,1010.2 175.8,1010.2 176.5,1010.2 177.3,1010.2 178.1,1010.2 178.9,1010.2 179.6,1010.2 180.4,1010.2 181.2,1010.2 182.0,1010.2 182.7,1010.2 183.5,1010.2 184.3,1010.1 185.1,1010.1 185.8,1010.1 186.6,1010.1 187.4,1010.1 188.2,1010.1 188.9,1010.1 189.7,1010.1 190.5,1010.1 191.3,1010.1 192.0,1010.1 192.8,1010.0 193.6,1010.0 194.4,1010.0 195.1,1010.0 195.9,1010.0 196.7,1010.0 197.5,1010.0 198.2,1010.0 199.0,1010.0 199.8,1009.9 200.6,1009.9 201.3,1009.9 202.1,1009.9 202.9,1009.9 203.7,1009.9 204.4,1009.9 205.2,1009.9 206.0,1009.8 206.8,1009.8 207.5,1009.8 208.3,1009.8 209.1,1009.8 209.9,1009.8 210.6,1009.7 211.4,1009.7 212.2,1009.7 212.9,1009.7 213.7,1009.7 214.5,1009.7 215.3,1009.6 216.0,1009.6 216.8,1009.6 217.6,1009.6 218.4,1009.6 219.1,1009.6 219.9,1009.5 220.7,1009.5 221.5,1009.5 222.2,1009.5 223.0,1009.4 223.8,1009.4 224.6,1009.4 225.3,1009.4 226.1,1009.4 226.9,1009.3 227.7,1009.3 228.4,1009.3 229.2,1009.3 230.0,1009.2 230.8,1009.2 231.5,1009.2 232.3,1009.1 233.1,1009.1 233.9,1009.1 234.6,1009.1 235.4,1009.0 236.2,1009.0 237.0,1009.0 237.7,1008.9 238.5,1008.9 239.3,1008.9 240.1,1008.8 240.8,1008.8 241.6,1008.8 242.4,1008.7 243.2,1008.7 243.9,1008.7 244.7,1008.6 245.5,1008.6 246.3,1008.5 247.0,1008.5 247.8,1008.4 248.6,1008.4 249.4,1008.4 250.1,1008.3 250.9,1008.3 251.7,1008.2 252.5,1008.2 253.2,1008.1 254.0,1008.1 254.8,1008.0 255.6,1008.0 256.3,1007.9 257.1,1007.9 257.9,1007.8 258.6,1007.8 259.4,1007.7 260.2,1007.6 261.0,1007.6 261.7,1007.5 262.5,1007.5 263.3,1007.4 264.1,1007.3 264.8,1007.3 265.6,1007.2 266.4,1007.1 267.2,1007.1 267.9,1007.0 268.7,1006.9 269.5,1006.8 270.3,1006.8 271.0,1006.7 271.8,1006.6 272.6,1006.5 273.4,1006.5 274.1,1006.4 274.9,1006.3 275.7,1006.2 276.5,1006.1 277.2,1006.0 278.0,1005.9 278.8,1005.9 279.6,1005.8 280.3,1005.7 281.1,1005.6 281.9,1005.5 282.7,1005.4 283.4,1005.3 284.2,1005.2 285.0,1005.1 285.8,1004.9 286.5,1004.8 287.3,1004.7 288.1,1004.6 288.9,1004.5 289.6,1004.4 290.4,1004.3 291.2,1004.1 292.0,1004.0 292.7,1003.9 293.5,1003.8 294.3,1003.6 295.1,1003.5 295.8,1003.4 296.6,1003.2 297.4,1003.1 298.2,1003.0 298.9,1002.8 299.7,1002.7 300.5,1002.5 301.3,1002.4 302.0,1002.2 302.8,1002.1 303.6,1001.9 304.4,1001.7 305.1,1001.6 305.9,1001.4 306.7,1001.2 307.4,1001.1 308.2,1000.9 309.0,1000.7 309.8,1000.5 310.5,1000.4 311.3,1000.2 312.1,1000.0 312.9,999.8 313.6,999.6 314.4,999.4 315.2,999.2 316.0,999.0 316.7,998.8 317.5,998.6 318.3,998.4 319.1,998.1 319.8,997.9 320.6,997.7 321.4,997.4 322.2,997.2 322.9,997.0 323.7,996.7 324.5,996.5 325.3,996.2 326.0,995.9 326.8,995.7 327.6,995.4 328.4,995.1 329.1,994.8 329.9,994.5 330.7,994.2 331.5,993.9 332.2,993.5 333.0,993.2 333.8,992.9 334.6,992.5 335.3,992.2 336.1,991.8 336.9,991.4 337.7,991.0 338.4,990.6 339.2,990.2 340.0,989.8 340.8,989.4 341.5,988.9 342.3,988.4 343.1,988.0 343.9,987.5 344.6,987.0 345.4,986.4 346.2,985.9 347.0,985.4 347.7,984.8 348.5,984.2 349.3,983.6 350.1,983.0 350.8,982.3 351.6,981.7 352.4,981.0 353.1,980.3 353.9,979.6 354.7,978.8 355.5,978.1 356.2,977.3 357.0,976.5 357.8,975.7 358.6,974.8 359.3,974.0 360.1,973.1 360.9,972.2 361.7,971.2 362.4,970.3 363.2,969.3 364.0,968.3 364.8,967.3 365.5,966.2 366.3,965.2 367.1,964.1 367.9,963.0 368.6,961.9 369.4,960.7 370.2,959.6 371.0,958.4 371.7,957.2 372.5,956.0 373.3,954.7 374.1,953.5 374.8,952.2 375.6,951.0 376.4,949.7 377.2,948.4 377.9,947.1 378.7,945.8 379.5,944.5 380.3,943.2 381.0,941.8 381.8,940.5 382.6,939.2 383.4,937.9 384.1,936.6 384.9,935.3 385.7,934.0 386.5,932.7 387.2,931.5 388.0,930.2 388.8,929.0 389.6,927.8 390.3,926.6 391.1,925.5 391.9,924.3 392.7,923.2 393.4,922.2 394.2,921.2 395.0,920.2 395.8,919.3 396.5,918.4 397.3,917.5 398.1,916.8 398.9,916.0 399.6,915.4 400.4,914.7 401.2,914.2 401.9,913.7 402.7,913.3 403.5,912.9 404.3,912.6 405.0,912.4 405.8,912.2 406.6,912.1 407.4,912.1 408.1,912.2 408.9,912.3 409.7,912.5 410.5,912.7 411.2,913.0 412.0,913.4 412.8,913.8 413.6,914.3 414.3,914.9 415.1,915.5 415.9,916.2 416.7,916.9 417.4,917.7 418.2,918.5 419.0,919.3 419.8,920.2 420.5,921.1 421.3,922.1 422.1,923.1 422.9,924.1 423.6,925.2 424.4,926.2 425.2,927.3 426.0,928.4 426.7,929.6 427.5,930.7 428.3,931.9 429.1,933.0 429.8,934.2 430.6,935.4 431.4,936.5 432.2,937.7 432.9,938.9 433.7,940.0 434.5,941.2 435.3,942.4 436.0,943.5 436.8,944.6 437.6,945.8 438.4,946.9 439.1,948.0 439.9,949.1 440.7,950.1 441.5,951.2 442.2,952.2 443.0,953.2 443.8,954.2 444.6,955.2 445.3,956.2 446.1,957.1 446.9,958.0 447.7,958.9 448.4,959.8 449.2,960.6 450.0,961.5 450.7,962.3 451.5,963.0 452.3,963.8 453.1,964.5 453.8,965.2 454.6,965.9 455.4,966.6 456.2,967.2 456.9,967.9 457.7,968.5 458.5,969.0 459.3,969.6 460.0,970.1 460.8,970.7 461.6,971.2 462.4,971.6 463.1,972.1 463.9,972.5 464.7,972.9 465.5,973.3 466.2,973.7 467.0,974.1 467.8,974.5 468.6,974.8 469.3,975.1 470.1,975.4 470.9,975.7 471.7,976.0 472.4,976.3 473.2,976.5 474.0,976.7 474.8,977.0 475.5,977.2 476.3,977.4 477.1,977.6 477.9,977.8 478.6,978.0 479.4,978.1 480.2,978.3 481.0,978.4 481.7,978.6 482.5,978.7 483.3,978.9 484.1,979.0 484.8,979.1 485.6,979.2 486.4,979.3 487.2,979.4 487.9,979.5 488.7,979.6 489.5,979.7 490.3,979.8 491.0,979.8 491.8,979.9 492.6,980.0 493.4,980.0 494.1,980.1 494.9,980.2 495.7,980.2 496.4,980.3 497.2,980.3 498.0,980.4 498.8,980.4 499.5,980.5 500.3,980.5 501.1,980.6 501.9,980.6 502.6,980.6 503.4,980.7 504.2,980.7 505.0,980.8 505.7,980.8 506.5,980.8 507.3,980.9 508.1,980.9 508.8,980.9 509.6,980.9 510.4,981.0 511.2,981.0 511.9,981.0 512.7,981.0 513.5,981.1 514.3,981.1 515.0,981.1 515.8,981.1 516.6,981.2 517.4,981.2 518.1,981.2 518.9,981.2 519.7,981.2 520.5,981.3 521.2,981.3 522.0,981.3 522.8,981.3 523.6,981.3 524.3,981.4 525.1,981.4 525.9,981.4 526.7,981.4 527.4,981.4 528.2,981.4 529.0,981.5 529.8,981.5 530.5,981.5 531.3,981.5 532.1,981.5 532.9,981.5 533.6,981.5 534.4,981.6 535.2,981.6 536.0,981.6 536.7,981.6 537.5,981.6 538.3,981.6 539.1,981.6 539.8,981.6 540.6,981.7 541.4,981.7 542.2,981.7 542.9,981.7 543.7,981.7 544.5,981.7 545.2,981.7 546.0,981.7 546.8,981.7 547.6,981.8 548.3,981.8 549.1,981.8 549.9,981.8 550.7,981.8 551.4,981.8 552.2,981.8 553.0,981.8 553.8,981.8 554.5,981.8 555.3,981.9 556.1,981.9 556.9,981.9 557.6,981.9 558.4,981.9 559.2,981.9 560.0,981.9 560.7,981.9 561.5,981.9 562.3,981.9 563.1,981.9 563.8,981.9 564.6,982.0 565.4,982.0 566.2,982.0 566.9,982.0 567.7,982.0 568.5,982.0 569.3,982.0 570.0,982.0 570.8,982.0 571.6,982.0 572.4,982.0 573.1,982.0 573.9,982.0 574.7,982.0 575.5,982.0 576.2,982.1 577.0,982.1 577.8,982.1 578.6,982.1 579.3,982.1 580.1,982.1 580.9,982.1 581.7,982.1 582.4,982.1 583.2,982.1 584.0,982.1 584.8,982.1 585.5,982.1 586.3,982.1 587.1,982.1 587.9,982.1 588.6,982.1 589.4,982.2 590.2,982.2 590.9,982.2 591.7,982.2 592.5,982.2 593.3,982.2 594.0,982.2 594.8,982.2 595.6,982.2 596.4,982.2 597.1,982.2 597.9,982.2 598.7,982.2 599.5,982.2 600.2,982.2 601.0,982.2 601.8,982.2 602.6,982.2 603.3,982.2 604.1,982.2 604.9,982.2 605.7,982.2 606.4,982.3 607.2,982.3 608.0,982.3 608.8,982.3 609.5,982.3" fill="none" stroke="#28e828" stroke-width="3.4" stroke-linejoin="round" stroke-linecap="round"/>
<polyline points="68.1,1010.8 68.9,1010.8 69.6,1010.8 70.4,1010.8 71.2,1010.8 72.0,1010.8 72.7,1010.8 73.5,1010.8 74.3,1010.8 75.1,1010.8 75.8,1010.8 76.6,1010.8 77.4,1010.8 78.2,1010.8 78.9,1010.8 79.7,1010.8 80.5,1010.8 81.3,1010.8 82.0,1010.8 82.8,1010.8 83.6,1010.8 84.4,1010.8 85.1,1010.8 85.9,1010.8 86.7,1010.8 87.5,1010.8 88.2,1010.8 89.0,1010.8 89.8,1010.8 90.6,1010.8 91.3,1010.8 92.1,1010.8 92.9,1010.8 93.7,1010.8 94.4,1010.8 95.2,1010.8 96.0,1010.8 96.8,1010.8 97.5,1010.8 98.3,1010.8 99.1,1010.8 99.9,1010.8 100.6,1010.8 101.4,1010.8 102.2,1010.8 103.0,1010.7 103.7,1010.7 104.5,1010.7 105.3,1010.7 106.1,1010.7 106.8,1010.7 107.6,1010.7 108.4,1010.7 109.2,1010.7 109.9,1010.7 110.7,1010.7 111.5,1010.7 112.3,1010.7 113.0,1010.7 113.8,1010.7 114.6,1010.7 115.4,1010.7 116.1,1010.7 116.9,1010.7 117.7,1010.7 118.4,1010.7 119.2,1010.7 120.0,1010.7 120.8,1010.7 121.5,1010.7 122.3,1010.7 123.1,1010.7 123.9,1010.7 124.6,1010.7 125.4,1010.7 126.2,1010.7 127.0,1010.7 127.7,1010.7 128.5,1010.7 129.3,1010.7 130.1,1010.7 130.8,1010.7 131.6,1010.7 132.4,1010.7 133.2,1010.7 133.9,1010.7 134.7,1010.7 135.5,1010.7 136.3,1010.7 137.0,1010.7 137.8,1010.7 138.6,1010.7 139.4,1010.7 140.1,1010.7 140.9,1010.7 141.7,1010.7 142.5,1010.7 143.2,1010.7 144.0,1010.7 144.8,1010.7 145.6,1010.7 146.3,1010.7 147.1,1010.7 147.9,1010.7 148.7,1010.7 149.4,1010.7 150.2,1010.7 151.0,1010.7 151.8,1010.7 152.5,1010.7 153.3,1010.7 154.1,1010.7 154.9,1010.7 155.6,1010.7 156.4,1010.7 157.2,1010.7 158.0,1010.7 158.7,1010.7 159.5,1010.7 160.3,1010.7 161.1,1010.7 161.8,1010.6 162.6,1010.6 163.4,1010.6 164.1,1010.6 164.9,1010.6 165.7,1010.6 166.5,1010.6 167.2,1010.6 168.0,1010.6 168.8,1010.6 169.6,1010.6 170.3,1010.6 171.1,1010.6 171.9,1010.6 172.7,1010.6 173.4,1010.6 174.2,1010.6 175.0,1010.6 175.8,1010.6 176.5,1010.6 177.3,1010.6 178.1,1010.6 178.9,1010.6 179.6,1010.6 180.4,1010.6 181.2,1010.6 182.0,1010.5 182.7,1010.5 183.5,1010.5 184.3,1010.5 185.1,1010.5 185.8,1010.5 186.6,1010.5 187.4,1010.5 188.2,1010.5 188.9,1010.5 189.7,1010.5 190.5,1010.5 191.3,1010.5 192.0,1010.5 192.8,1010.5 193.6,1010.5 194.4,1010.5 195.1,1010.4 195.9,1010.4 196.7,1010.4 197.5,1010.4 198.2,1010.4 199.0,1010.4 199.8,1010.4 200.6,1010.4 201.3,1010.4 202.1,1010.4 202.9,1010.4 203.7,1010.3 204.4,1010.3 205.2,1010.3 206.0,1010.3 206.8,1010.3 207.5,1010.3 208.3,1010.3 209.1,1010.3 209.9,1010.3 210.6,1010.3 211.4,1010.2 212.2,1010.2 212.9,1010.2 213.7,1010.2 214.5,1010.2 215.3,1010.2 216.0,1010.2 216.8,1010.1 217.6,1010.1 218.4,1010.1 219.1,1010.1 219.9,1010.1 220.7,1010.1 221.5,1010.1 222.2,1010.0 223.0,1010.0 223.8,1010.0 224.6,1010.0 225.3,1010.0 226.1,1009.9 226.9,1009.9 227.7,1009.9 228.4,1009.9 229.2,1009.9 230.0,1009.8 230.8,1009.8 231.5,1009.8 232.3,1009.8 233.1,1009.8 233.9,1009.7 234.6,1009.7 235.4,1009.7 236.2,1009.7 237.0,1009.6 237.7,1009.6 238.5,1009.6 239.3,1009.6 240.1,1009.5 240.8,1009.5 241.6,1009.5 242.4,1009.4 243.2,1009.4 243.9,1009.4 244.7,1009.3 245.5,1009.3 246.3,1009.3 247.0,1009.2 247.8,1009.2 248.6,1009.2 249.4,1009.1 250.1,1009.1 250.9,1009.1 251.7,1009.0 252.5,1009.0 253.2,1008.9 254.0,1008.9 254.8,1008.9 255.6,1008.8 256.3,1008.8 257.1,1008.7 257.9,1008.7 258.6,1008.6 259.4,1008.6 260.2,1008.5 261.0,1008.5 261.7,1008.4 262.5,1008.4 263.3,1008.3 264.1,1008.3 264.8,1008.2 265.6,1008.2 266.4,1008.1 267.2,1008.1 267.9,1008.0 268.7,1007.9 269.5,1007.9 270.3,1007.8 271.0,1007.7 271.8,1007.7 272.6,1007.6 273.4,1007.5 274.1,1007.5 274.9,1007.4 275.7,1007.3 276.5,1007.3 277.2,1007.2 278.0,1007.1 278.8,1007.0 279.6,1006.9 280.3,1006.9 281.1,1006.8 281.9,1006.7 282.7,1006.6 283.4,1006.5 284.2,1006.4 285.0,1006.3 285.8,1006.3 286.5,1006.2 287.3,1006.1 288.1,1006.0 288.9,1005.9 289.6,1005.8 290.4,1005.7 291.2,1005.6 292.0,1005.5 292.7,1005.4 293.5,1005.2 294.3,1005.1 295.1,1005.0 295.8,1004.9 296.6,1004.8 297.4,1004.7 298.2,1004.6 298.9,1004.5 299.7,1004.3 300.5,1004.2 301.3,1004.1 302.0,1004.0 302.8,1003.8 303.6,1003.7 304.4,1003.6 305.1,1003.4 305.9,1003.3 306.7,1003.2 307.4,1003.0 308.2,1002.9 309.0,1002.8 309.8,1002.6 310.5,1002.5 311.3,1002.3 312.1,1002.2 312.9,1002.0 313.6,1001.9 314.4,1001.7 315.2,1001.6 316.0,1001.4 316.7,1001.3 317.5,1001.1 318.3,1001.0 319.1,1000.8 319.8,1000.6 320.6,1000.5 321.4,1000.3 322.2,1000.2 322.9,1000.0 323.7,999.8 324.5,999.7 325.3,999.5 326.0,999.3 326.8,999.2 327.6,999.0 328.4,998.8 329.1,998.7 329.9,998.5 330.7,998.3 331.5,998.1 332.2,998.0 333.0,997.8 333.8,997.6 334.6,997.4 335.3,997.3 336.1,997.1 336.9,996.9 337.7,996.7 338.4,996.6 339.2,996.4 340.0,996.2 340.8,996.0 341.5,995.9 342.3,995.7 343.1,995.5 343.9,995.3 344.6,995.2 345.4,995.0 346.2,994.8 347.0,994.6 347.7,994.5 348.5,994.3 349.3,994.1 350.1,993.9 350.8,993.8 351.6,993.6 352.4,993.4 353.1,993.3 353.9,993.1 354.7,992.9 355.5,992.8 356.2,992.6 357.0,992.4 357.8,992.3 358.6,992.1 359.3,991.9 360.1,991.8 360.9,991.6 361.7,991.5 362.4,991.3 363.2,991.1 364.0,991.0 364.8,990.8 365.5,990.7 366.3,990.5 367.1,990.4 367.9,990.2 368.6,990.1 369.4,989.9 370.2,989.8 371.0,989.6 371.7,989.5 372.5,989.3 373.3,989.2 374.1,989.1 374.8,988.9 375.6,988.8 376.4,988.6 377.2,988.5 377.9,988.4 378.7,988.2 379.5,988.1 380.3,988.0 381.0,987.8 381.8,987.7 382.6,987.6 383.4,987.4 384.1,987.3 384.9,987.2 385.7,987.1 386.5,986.9 387.2,986.8 388.0,986.7 388.8,986.5 389.6,986.4 390.3,986.3 391.1,986.1 391.9,986.0 392.7,985.9 393.4,985.7 394.2,985.6 395.0,985.5 395.8,985.3 396.5,985.2 397.3,985.0 398.1,984.9 398.9,984.7 399.6,984.6 400.4,984.4 401.2,984.2 401.9,984.1 402.7,983.9 403.5,983.7 404.3,983.5 405.0,983.3 405.8,983.1 406.6,982.8 407.4,982.6 408.1,982.4 408.9,982.1 409.7,981.9 410.5,981.6 411.2,981.3 412.0,981.0 412.8,980.7 413.6,980.4 414.3,980.0 415.1,979.7 415.9,979.3 416.7,978.9 417.4,978.5 418.2,978.1 419.0,977.6 419.8,977.2 420.5,976.7 421.3,976.2 422.1,975.7 422.9,975.2 423.6,974.7 424.4,974.1 425.2,973.6 426.0,973.0 426.7,972.4 427.5,971.8 428.3,971.2 429.1,970.5 429.8,969.9 430.6,969.2 431.4,968.6 432.2,967.9 432.9,967.2 433.7,966.6 434.5,965.9 435.3,965.2 436.0,964.6 436.8,963.9 437.6,963.2 438.4,962.6 439.1,962.0 439.9,961.3 440.7,960.8 441.5,960.2 442.2,959.6 443.0,959.1 443.8,958.6 444.6,958.2 445.3,957.7 446.1,957.4 446.9,957.0 447.7,956.7 448.4,956.5 449.2,956.3 450.0,956.1 450.7,956.0 451.5,956.0 452.3,956.0 453.1,956.0 453.8,956.1 454.6,956.3 455.4,956.5 456.2,956.7 456.9,957.0 457.7,957.4 458.5,957.7 459.3,958.1 460.0,958.6 460.8,959.1 461.6,959.6 462.4,960.1 463.1,960.6 463.9,961.2 464.7,961.8 465.5,962.4 466.2,963.0 467.0,963.6 467.8,964.3 468.6,964.9 469.3,965.5 470.1,966.2 470.9,966.8 471.7,967.4 472.4,968.0 473.2,968.6 474.0,969.2 474.8,969.8 475.5,970.4 476.3,971.0 477.1,971.5 477.9,972.1 478.6,972.6 479.4,973.1 480.2,973.6 481.0,974.0 481.7,974.5 482.5,974.9 483.3,975.4 484.1,975.8 484.8,976.2 485.6,976.5 486.4,976.9 487.2,977.2 487.9,977.5 488.7,977.8 489.5,978.1 490.3,978.4 491.0,978.6 491.8,978.9 492.6,979.1 493.4,979.3 494.1,979.5 494.9,979.7 495.7,979.9 496.4,980.1 497.2,980.2 498.0,980.4 498.8,980.5 499.5,980.6 500.3,980.7 501.1,980.8 501.9,981.0 502.6,981.0 503.4,981.1 504.2,981.2 505.0,981.3 505.7,981.4 506.5,981.4 507.3,981.5 508.1,981.5 508.8,981.6 509.6,981.6 510.4,981.7 511.2,981.7 511.9,981.8 512.7,981.8 513.5,981.8 514.3,981.9 515.0,981.9 515.8,981.9 516.6,981.9 517.4,982.0 518.1,982.0 518.9,982.0 519.7,982.0 520.5,982.1 521.2,982.1 522.0,982.1 522.8,982.1 523.6,982.1 524.3,982.1 525.1,982.2 525.9,982.2 526.7,982.2 527.4,982.2 528.2,982.2 529.0,982.2 529.8,982.2 530.5,982.2 531.3,982.2 532.1,982.3 532.9,982.3 533.6,982.3 534.4,982.3 535.2,982.3 536.0,982.3 536.7,982.3 537.5,982.3 538.3,982.3 539.1,982.3 539.8,982.3 540.6,982.3 541.4,982.4 542.2,982.4 542.9,982.4 543.7,982.4 544.5,982.4 545.2,982.4 546.0,982.4 546.8,982.4 547.6,982.4 548.3,982.4 549.1,982.4 549.9,982.4 550.7,982.4 551.4,982.4 552.2,982.4 553.0,982.4 553.8,982.4 554.5,982.5 555.3,982.5 556.1,982.5 556.9,982.5 557.6,982.5 558.4,982.5 559.2,982.5 560.0,982.5 560.7,982.5 561.5,982.5 562.3,982.5 563.1,982.5 563.8,982.5 564.6,982.5 565.4,982.5 566.2,982.5 566.9,982.5 567.7,982.5 568.5,982.5 569.3,982.5 570.0,982.5 570.8,982.5 571.6,982.5 572.4,982.5 573.1,982.5 573.9,982.5 574.7,982.5 575.5,982.5 576.2,982.6 577.0,982.6 577.8,982.6 578.6,982.6 579.3,982.6 580.1,982.6 580.9,982.6 581.7,982.6 582.4,982.6 583.2,982.6 584.0,982.6 584.8,982.6 585.5,982.6 586.3,982.6 587.1,982.6 587.9,982.6 588.6,982.6 589.4,982.6 590.2,982.6 590.9,982.6 591.7,982.6 592.5,982.6 593.3,982.6 594.0,982.6 594.8,982.6 595.6,982.6 596.4,982.6 597.1,982.6 597.9,982.6 598.7,982.6 599.5,982.6 600.2,982.6 601.0,982.6 601.8,982.6 602.6,982.6 603.3,982.6 604.1,982.6 604.9,982.6 605.7,982.6 606.4,982.6 607.2,982.6 608.0,982.6 608.8,982.6 609.5,982.6" fill="none" stroke="#f08c30" stroke-width="3.4" stroke-linejoin="round" stroke-linecap="round"/>
<line x1="253.30" y1="775.60" x2="253.30" y2="810.90" stroke="#e82a2a" stroke-width="2"/>
<polygon points="248.9,806.9 253.3,810.2 257.7,806.9 253.3,821.9" fill="#e82a2a"/>
<line x1="339.30" y1="629.00" x2="339.30" y2="647.20" stroke="#e82a2a" stroke-width="2"/>
<polygon points="334.9,643.2 339.3,646.5 343.7,643.2 339.3,658.2" fill="#e82a2a"/>
<line x1="404.90" y1="853.80" x2="404.90" y2="889.40" stroke="#e82a2a" stroke-width="2"/>
<polygon points="400.5,885.4 404.9,888.7 409.3,885.4 404.9,900.4" fill="#e82a2a"/>
<line x1="452.20" y1="903.40" x2="452.20" y2="940.00" stroke="#e82a2a" stroke-width="2"/>
<polygon points="447.8,936.0 452.2,939.3 456.6,936.0 452.2,951.0" fill="#e82a2a"/>
<text transform="translate(239.80,772.60) scale(1.0,1.1)" font-family='"Liberation Serif", serif' font-weight="bold" font-size="24.5" fill="#2430e0" text-anchor="start">C=C</text>
<text transform="translate(249.50,629.00) scale(1.0,1.1)" font-family='"Liberation Serif", serif' font-weight="bold" font-size="25.3" fill="#b414c0" text-anchor="start">C-OH/ C-O-C</text>
<text transform="translate(391.30,847.70) scale(1.0,1.1)" font-family='"Liberation Serif", serif' font-weight="bold" font-size="25" fill="#24a040" text-anchor="start">C=O</text>
<text transform="translate(440.00,907.50) scale(1.0,1.1)" font-family='"Liberation Serif", serif' font-weight="bold" font-size="25" fill="#f08030" text-anchor="start">HO-C=O</text>
<rect x="732.00" y="596.20" width="542.40" height="451.10" fill="none" stroke="#383838" stroke-width="3.0"/>
<line x1="731.90" y1="1047.30" x2="731.90" y2="1057.50" stroke="#222" stroke-width="2.2"/>
<line x1="844.80" y1="1047.30" x2="844.80" y2="1052.80" stroke="#222" stroke-width="2.2"/>
<line x1="957.70" y1="1047.30" x2="957.70" y2="1057.50" stroke="#222" stroke-width="2.2"/>
<line x1="1070.60" y1="1047.30" x2="1070.60" y2="1052.80" stroke="#222" stroke-width="2.2"/>
<line x1="1183.50" y1="1047.30" x2="1183.50" y2="1057.50" stroke="#222" stroke-width="2.2"/>
<text transform="translate(731.90,1085.60) scale(1.0,1.08)" font-family='"Liberation Sans", sans-serif' font-weight="bold" font-size="24.2" fill="#111" text-anchor="middle">280</text>
<text transform="translate(957.70,1085.60) scale(1.0,1.08)" font-family='"Liberation Sans", sans-serif' font-weight="bold" font-size="24.2" fill="#111" text-anchor="middle">285</text>
<text transform="translate(1183.50,1085.60) scale(1.0,1.08)" font-family='"Liberation Sans", sans-serif' font-weight="bold" font-size="24.2" fill="#111" text-anchor="middle">290</text>
<text transform="translate(1020.00,1125.40) scale(1.0,1.1)" font-family='"Liberation Serif", serif' font-weight="bold" font-size="25.5" fill="#222" text-anchor="middle">Binding Energy (eV)</text>
<text transform="translate(706.00,823.00) scale(1.0,1.2) rotate(-90)" font-family='"Liberation Serif", serif' font-weight="bold" font-size="24.4" fill="#222" text-anchor="middle">Intensity(a.u</text>
<text transform="translate(673.80,638.00) scale(1.0,1.1)" font-family='"Liberation Serif", serif' font-weight="bold" font-size="38.3" fill="#111" text-anchor="start">(d)</text>
<text transform="translate(740.50,641.10) scale(1.0,1.15)" font-family='"Liberation Serif", serif' font-weight="bold" font-size="31.5" fill="#2626e0" text-anchor="start">C1s</text>
<text transform="translate(740.50,684.80) scale(1.0,1.15)" font-family='"Liberation Serif", serif' font-weight="bold" font-size="30.3" fill="#111" text-anchor="start">ZG-1</text>
<line x1="1060.30" y1="623.40" x2="1113.10" y2="623.40" stroke="#0a0a0a" stroke-width="3"/>
<line x1="1060.30" y1="653.80" x2="1113.10" y2="653.80" stroke="#d81c20" stroke-width="3"/>
<line x1="1060.30" y1="684.70" x2="1113.10" y2="684.70" stroke="#1a0ccc" stroke-width="3"/>
<line x1="1060.30" y1="715.60" x2="1113.10" y2="715.60" stroke="#e024e4" stroke-width="3"/>
<line x1="1060.30" y1="746.00" x2="1113.10" y2="746.00" stroke="#28e828" stroke-width="3"/>
<line x1="1060.30" y1="776.60" x2="1113.10" y2="776.60" stroke="#f08c30" stroke-width="3"/>
<text transform="translate(1117.80,630.40) scale(1.0,1.05)" font-family='"Liberation Serif", serif' font-weight="bold" font-size="18.4" fill="#222" text-anchor="start">Sum</text>
<text transform="translate(1117.80,660.80) scale(1.0,1.05)" font-family='"Liberation Serif", serif' font-weight="bold" font-size="18.4" fill="#222" text-anchor="start">Background</text>
<text transform="translate(1117.80,691.70) scale(1.0,1.05)" font-family='"Liberation Serif", serif' font-weight="bold" font-size="18.4" fill="#222" text-anchor="start">sp2</text>
<text transform="translate(1117.80,722.60) scale(1.0,1.05)" font-family='"Liberation Serif", serif' font-weight="bold" font-size="18.4" fill="#222" text-anchor="start">hydroxyl/epoxide</text>
<text transform="translate(1117.80,753.00) scale(1.0,1.05)" font-family='"Liberation Serif", serif' font-weight="bold" font-size="18.4" fill="#222" text-anchor="start">carbonyl</text>
<text transform="translate(1117.80,783.60) scale(1.0,1.05)" font-family='"Liberation Serif", serif' font-weight="bold" font-size="18.4" fill="#222" text-anchor="start">carboxyl</text>
<polyline points="731.9,999.6 732.7,999.6 733.5,999.5 734.2,999.5 735.0,999.5 735.8,999.4 736.6,999.4 737.3,999.4 738.1,999.4 738.9,999.3 739.7,999.3 740.4,999.3 741.2,999.2 742.0,999.2 742.8,999.2 743.5,999.1 744.3,999.1 745.1,999.1 745.9,999.0 746.6,999.0 747.4,999.0 748.2,998.9 749.0,998.9 749.7,998.9 750.5,998.8 751.3,998.8 752.1,998.8 752.8,998.7 753.6,998.7 754.4,998.7 755.2,998.6 755.9,998.6 756.7,998.5 757.5,998.5 758.3,998.5 759.0,998.4 759.8,998.4 760.6,998.3 761.4,998.3 762.1,998.3 762.9,998.2 763.7,998.2 764.5,998.1 765.2,998.1 766.0,998.0 766.8,998.0 767.6,997.9 768.3,997.9 769.1,997.9 769.9,997.8 770.7,997.8 771.4,997.7 772.2,997.7 773.0,997.6 773.8,997.6 774.5,997.5 775.3,997.5 776.1,997.4 776.9,997.3 777.6,997.3 778.4,997.2 779.2,997.2 780.0,997.1 780.7,997.1 781.5,997.0 782.3,997.0 783.1,996.9 783.8,996.8 784.6,996.8 785.4,996.7 786.2,996.6 786.9,996.6 787.7,996.5 788.5,996.5 789.3,996.4 790.0,996.3 790.8,996.2 791.6,996.2 792.4,996.1 793.1,996.0 793.9,996.0 794.7,995.9 795.5,995.8 796.2,995.7 797.0,995.7 797.8,995.6 798.6,995.5 799.3,995.4 800.1,995.3 800.9,995.3 801.7,995.2 802.5,995.1 803.2,995.0 804.0,994.9 804.8,994.8 805.6,994.7 806.3,994.7 807.1,994.6 807.9,994.5 808.7,994.4 809.4,994.3 810.2,994.2 811.0,994.1 811.8,994.0 812.5,993.9 813.3,993.8 814.1,993.6 814.9,993.5 815.6,993.4 816.4,993.3 817.2,993.2 818.0,993.1 818.7,993.0 819.5,992.8 820.3,992.7 821.1,992.6 821.8,992.5 822.6,992.3 823.4,992.2 824.2,992.1 824.9,991.9 825.7,991.8 826.5,991.6 827.3,991.5 828.0,991.3 828.8,991.2 829.6,991.0 830.4,990.9 831.1,990.7 831.9,990.6 832.7,990.4 833.5,990.2 834.2,990.1 835.0,989.9 835.8,989.7 836.6,989.5 837.3,989.3 838.1,989.2 838.9,989.0 839.7,988.8 840.4,988.6 841.2,988.4 842.0,988.2 842.8,987.9 843.5,987.7 844.3,987.5 845.1,987.3 845.9,987.0 846.6,986.8 847.4,986.6 848.2,986.3 849.0,986.1 849.7,985.8 850.5,985.5 851.3,985.3 852.1,985.0 852.8,984.7 853.6,984.4 854.4,984.1 855.2,983.8 855.9,983.5 856.7,983.2 857.5,982.9 858.3,982.6 859.0,982.2 859.8,981.9 860.6,981.5 861.4,981.2 862.1,980.8 862.9,980.4 863.7,980.0 864.5,979.6 865.2,979.2 866.0,978.8 866.8,978.3 867.6,977.9 868.3,977.4 869.1,977.0 869.9,976.5 870.7,976.0 871.5,975.5 872.2,975.0 873.0,974.4 873.8,973.9 874.6,973.3 875.3,972.8 876.1,972.2 876.9,971.5 877.7,970.9 878.4,970.3 879.2,969.6 880.0,968.9 880.8,968.2 881.5,967.4 882.3,966.7 883.1,965.9 883.9,965.1 884.6,964.3 885.4,963.4 886.2,962.5 887.0,961.6 887.7,960.7 888.5,959.7 889.3,958.7 890.1,957.6 890.8,956.6 891.6,955.5 892.4,954.3 893.2,953.1 893.9,951.9 894.7,950.6 895.5,949.2 896.3,947.8 897.0,946.4 897.8,944.9 898.6,943.4 899.4,941.8 900.1,940.1 900.9,938.4 901.7,936.6 902.5,934.7 903.2,932.7 904.0,930.7 904.8,928.6 905.6,926.4 906.3,924.2 907.1,921.8 907.9,919.3 908.7,916.7 909.4,914.1 910.2,911.3 911.0,908.4 911.8,905.4 912.5,902.2 913.3,899.0 914.1,895.6 914.9,892.0 915.6,888.3 916.4,884.5 917.2,880.5 918.0,876.3 918.7,872.0 919.5,867.5 920.3,862.9 921.1,858.0 921.8,853.0 922.6,847.8 923.4,842.4 924.2,836.7 924.9,831.0 925.7,825.0 926.5,818.8 927.3,812.4 928.0,805.8 928.8,799.1 929.6,792.1 930.4,785.0 931.1,777.8 931.9,770.4 932.7,762.8 933.5,755.2 934.2,747.5 935.0,739.8 935.8,732.1 936.6,724.3 937.3,716.7 938.1,709.2 938.9,701.8 939.7,694.7 940.5,687.8 941.2,681.3 942.0,675.2 942.8,669.5 943.6,664.4 944.3,659.8 945.1,655.9 945.9,652.6 946.7,650.0 947.4,648.1 948.2,647.0 949.0,646.7 949.8,647.3 950.5,648.9 951.3,651.3 952.1,654.6 952.9,658.7 953.6,663.5 954.4,669.0 955.2,675.1 956.0,681.8 956.7,688.8 957.5,696.2 958.3,703.9 959.1,711.7 959.8,719.7 960.6,727.8 961.4,735.8 962.2,743.9 962.9,751.8 963.7,759.7 964.5,767.4 965.3,774.9 966.0,782.2 966.8,789.4 967.6,796.2 968.4,802.9 969.1,809.4 969.9,815.5 970.7,821.5 971.5,827.2 972.2,832.7 973.0,837.9 973.8,842.9 974.6,847.7 975.3,852.3 976.1,856.7 976.9,860.8 977.7,864.8 978.4,868.5 979.2,872.1 980.0,875.5 980.8,878.8 981.5,881.9 982.3,884.8 983.1,887.6 983.9,890.2 984.6,892.7 985.4,895.1 986.2,897.4 987.0,899.5 987.7,901.6 988.5,903.5 989.3,905.4 990.1,907.1 990.8,908.8 991.6,910.4 992.4,911.9 993.2,913.4 993.9,914.7 994.7,916.1 995.5,917.3 996.3,918.5 997.0,919.7 997.8,920.8 998.6,921.8 999.4,922.9 1000.1,923.9 1000.9,924.8 1001.7,925.7 1002.5,926.6 1003.2,927.5 1004.0,928.3 1004.8,929.2 1005.6,930.0 1006.3,930.7 1007.1,931.5 1007.9,932.3 1008.7,933.0 1009.4,933.7 1010.2,934.5 1011.0,935.2 1011.8,936.0 1012.6,936.8 1013.3,937.6 1014.1,938.5 1014.9,939.3 1015.7,940.2 1016.4,941.1 1017.2,942.0 1018.0,942.9 1018.8,943.9 1019.5,944.8 1020.3,945.7 1021.1,946.7 1021.9,947.6 1022.6,948.6 1023.4,949.5 1024.2,950.4 1025.0,951.4 1025.7,952.3 1026.5,953.2 1027.3,954.1 1028.1,954.9 1028.8,955.8 1029.6,956.6 1030.4,957.5 1031.2,958.3 1031.9,959.1 1032.7,959.8 1033.5,960.6 1034.3,961.3 1035.0,962.0 1035.8,962.7 1036.6,963.4 1037.4,964.0 1038.1,964.6 1038.9,965.3 1039.7,965.8 1040.5,966.4 1041.2,966.9 1042.0,967.5 1042.8,968.0 1043.6,968.5 1044.3,968.9 1045.1,969.4 1045.9,969.8 1046.7,970.2 1047.4,970.6 1048.2,971.0 1049.0,971.3 1049.8,971.7 1050.5,972.0 1051.3,972.3 1052.1,972.6 1052.9,972.9 1053.6,973.2 1054.4,973.4 1055.2,973.7 1056.0,973.9 1056.7,974.1 1057.5,974.4 1058.3,974.6 1059.1,974.7 1059.8,974.9 1060.6,975.1 1061.4,975.3 1062.2,975.4 1062.9,975.5 1063.7,975.7 1064.5,975.8 1065.3,975.9 1066.0,976.0 1066.8,976.1 1067.6,976.2 1068.4,976.3 1069.1,976.4 1069.9,976.4 1070.7,976.5 1071.5,976.5 1072.2,976.6 1073.0,976.6 1073.8,976.6 1074.6,976.7 1075.3,976.7 1076.1,976.7 1076.9,976.7 1077.7,976.6 1078.4,976.6 1079.2,976.6 1080.0,976.5 1080.8,976.5 1081.6,976.4 1082.3,976.3 1083.1,976.3 1083.9,976.2 1084.7,976.1 1085.4,975.9 1086.2,975.8 1087.0,975.7 1087.8,975.5 1088.5,975.4 1089.3,975.2 1090.1,975.1 1090.9,974.9 1091.6,974.7 1092.4,974.5 1093.2,974.3 1094.0,974.1 1094.7,973.9 1095.5,973.6 1096.3,973.4 1097.1,973.2 1097.8,972.9 1098.6,972.7 1099.4,972.4 1100.2,972.2 1100.9,971.9 1101.7,971.7 1102.5,971.4 1103.3,971.2 1104.0,970.9 1104.8,970.7 1105.6,970.5 1106.4,970.2 1107.1,970.0 1107.9,969.8 1108.7,969.6 1109.5,969.4 1110.2,969.2 1111.0,969.1 1111.8,968.9 1112.6,968.8 1113.3,968.7 1114.1,968.6 1114.9,968.6 1115.7,968.5 1116.4,968.5 1117.2,968.5 1118.0,968.6 1118.8,968.6 1119.5,968.7 1120.3,968.8 1121.1,968.9 1121.9,969.1 1122.6,969.2 1123.4,969.4 1124.2,969.6 1125.0,969.8 1125.7,970.1 1126.5,970.3 1127.3,970.6 1128.1,970.9 1128.8,971.2 1129.6,971.5 1130.4,971.8 1131.2,972.1 1131.9,972.4 1132.7,972.8 1133.5,973.1 1134.3,973.4 1135.0,973.8 1135.8,974.1 1136.6,974.4 1137.4,974.8 1138.1,975.1 1138.9,975.5 1139.7,975.8 1140.5,976.1 1141.2,976.5 1142.0,976.8 1142.8,977.1 1143.6,977.4 1144.3,977.8 1145.1,978.1 1145.9,978.4 1146.7,978.7 1147.4,979.0 1148.2,979.3 1149.0,979.6 1149.8,979.9 1150.6,980.2 1151.3,980.5 1152.1,980.8 1152.9,981.0 1153.7,981.3 1154.4,981.6 1155.2,981.8 1156.0,982.1 1156.8,982.3 1157.5,982.6 1158.3,982.8 1159.1,983.0 1159.9,983.3 1160.6,983.5 1161.4,983.7 1162.2,983.9 1163.0,984.1 1163.7,984.3 1164.5,984.5 1165.3,984.7 1166.1,984.9 1166.8,985.0 1167.6,985.2 1168.4,985.3 1169.2,985.5 1169.9,985.6 1170.7,985.8 1171.5,985.9 1172.3,986.0 1173.0,986.2 1173.8,986.3 1174.6,986.4 1175.4,986.5 1176.1,986.6 1176.9,986.7 1177.7,986.8 1178.5,986.9 1179.2,987.0 1180.0,987.1 1180.8,987.2 1181.6,987.3 1182.3,987.3 1183.1,987.4 1183.9,987.5 1184.7,987.5 1185.4,987.6 1186.2,987.7 1187.0,987.7 1187.8,987.8 1188.5,987.8 1189.3,987.9 1190.1,987.9 1190.9,988.0 1191.6,988.0 1192.4,988.1 1193.2,988.1 1194.0,988.2 1194.7,988.2 1195.5,988.2 1196.3,988.3 1197.1,988.3 1197.8,988.4 1198.6,988.4 1199.4,988.4 1200.2,988.5 1200.9,988.5 1201.7,988.5 1202.5,988.5 1203.3,988.6 1204.0,988.6 1204.8,988.6 1205.6,988.7 1206.4,988.7 1207.1,988.7 1207.9,988.7 1208.7,988.8 1209.5,988.8 1210.2,988.8 1211.0,988.8 1211.8,988.8 1212.6,988.9 1213.3,988.9 1214.1,988.9 1214.9,988.9 1215.7,989.0 1216.4,989.0 1217.2,989.0 1218.0,989.0 1218.8,989.0 1219.6,989.1 1220.3,989.1 1221.1,989.1 1221.9,989.1 1222.7,989.1 1223.4,989.1 1224.2,989.2 1225.0,989.2 1225.8,989.2 1226.5,989.2 1227.3,989.2 1228.1,989.2 1228.9,989.3 1229.6,989.3 1230.4,989.3 1231.2,989.3 1232.0,989.3 1232.7,989.3 1233.5,989.3 1234.3,989.4 1235.1,989.4 1235.8,989.4 1236.6,989.4 1237.4,989.4 1238.2,989.4 1238.9,989.4 1239.7,989.5 1240.5,989.5 1241.3,989.5 1242.0,989.5 1242.8,989.5 1243.6,989.5 1244.4,989.5 1245.1,989.5 1245.9,989.6 1246.7,989.6 1247.5,989.6 1248.2,989.6 1249.0,989.6 1249.8,989.6 1250.6,989.6 1251.3,989.6 1252.1,989.6 1252.9,989.7 1253.7,989.7 1254.4,989.7 1255.2,989.7 1256.0,989.7 1256.8,989.7 1257.5,989.7 1258.3,989.7 1259.1,989.7 1259.9,989.8 1260.6,989.8 1261.4,989.8 1262.2,989.8 1263.0,989.8 1263.7,989.8 1264.5,989.8 1265.3,989.8 1266.1,989.8 1266.8,989.8 1267.6,989.8 1268.4,989.9 1269.2,989.9 1269.9,989.9 1270.7,989.9 1271.5,989.9 1272.3,989.9 1273.0,989.9 1273.8,989.9" fill="none" stroke="#0a0a0a" stroke-width="3.4" stroke-linejoin="round" stroke-linecap="round"/>
<polyline points="731.9,1003.5 732.7,1003.5 733.5,1003.5 734.2,1003.5 735.0,1003.5 735.8,1003.5 736.6,1003.5 737.3,1003.5 738.1,1003.5 738.9,1003.5 739.7,1003.5 740.4,1003.5 741.2,1003.5 742.0,1003.5 742.8,1003.5 743.5,1003.5 744.3,1003.5 745.1,1003.5 745.9,1003.5 746.6,1003.5 747.4,1003.5 748.2,1003.5 749.0,1003.5 749.7,1003.5 750.5,1003.5 751.3,1003.5 752.1,1003.5 752.8,1003.5 753.6,1003.5 754.4,1003.5 755.2,1003.5 755.9,1003.5 756.7,1003.5 757.5,1003.5 758.3,1003.5 759.0,1003.5 759.8,1003.5 760.6,1003.5 761.4,1003.5 762.1,1003.5 762.9,1003.5 763.7,1003.5 764.5,1003.5 765.2,1003.5 766.0,1003.5 766.8,1003.5 767.6,1003.5 768.3,1003.5 769.1,1003.5 769.9,1003.5 770.7,1003.5 771.4,1003.5 772.2,1003.5 773.0,1003.5 773.8,1003.5 774.5,1003.5 775.3,1003.5 776.1,1003.5 776.9,1003.5 777.6,1003.5 778.4,1003.5 779.2,1003.5 780.0,1003.5 780.7,1003.5 781.5,1003.5 782.3,1003.5 783.1,1003.5 783.8,1003.5 784.6,1003.5 785.4,1003.5 786.2,1003.5 786.9,1003.5 787.7,1003.5 788.5,1003.5 789.3,1003.5 790.0,1003.5 790.8,1003.5 791.6,1003.5 792.4,1003.5 793.1,1003.5 793.9,1003.5 794.7,1003.5 795.5,1003.5 796.2,1003.5 797.0,1003.5 797.8,1003.5 798.6,1003.5 799.3,1003.5 800.1,1003.5 800.9,1003.5 801.7,1003.5 802.5,1003.5 803.2,1003.5 804.0,1003.5 804.8,1003.5 805.6,1003.5 806.3,1003.5 807.1,1003.5 807.9,1003.5 808.7,1003.5 809.4,1003.5 810.2,1003.5 811.0,1003.5 811.8,1003.5 812.5,1003.5 813.3,1003.5 814.1,1003.5 814.9,1003.5 815.6,1003.5 816.4,1003.5 817.2,1003.5 818.0,1003.5 818.7,1003.5 819.5,1003.5 820.3,1003.5 821.1,1003.5 821.8,1003.5 822.6,1003.5 823.4,1003.5 824.2,1003.5 824.9,1003.5 825.7,1003.5 826.5,1003.5 827.3,1003.5 828.0,1003.5 828.8,1003.5 829.6,1003.5 830.4,1003.5 831.1,1003.5 831.9,1003.5 832.7,1003.5 833.5,1003.5 834.2,1003.5 835.0,1003.5 835.8,1003.5 836.6,1003.5 837.3,1003.5 838.1,1003.5 838.9,1003.5 839.7,1003.5 840.4,1003.5 841.2,1003.5 842.0,1003.5 842.8,1003.5 843.5,1003.4 844.3,1003.4 845.1,1003.4 845.9,1003.4 846.6,1003.4 847.4,1003.4 848.2,1003.4 849.0,1003.4 849.7,1003.4 850.5,1003.4 851.3,1003.4 852.1,1003.4 852.8,1003.4 853.6,1003.4 854.4,1003.4 855.2,1003.4 855.9,1003.4 856.7,1003.4 857.5,1003.4 858.3,1003.4 859.0,1003.4 859.8,1003.4 860.6,1003.4 861.4,1003.4 862.1,1003.4 862.9,1003.4 863.7,1003.4 864.5,1003.4 865.2,1003.4 866.0,1003.4 866.8,1003.4 867.6,1003.4 868.3,1003.3 869.1,1003.3 869.9,1003.3 870.7,1003.3 871.5,1003.3 872.2,1003.3 873.0,1003.3 873.8,1003.3 874.6,1003.3 875.3,1003.3 876.1,1003.3 876.9,1003.3 877.7,1003.3 878.4,1003.3 879.2,1003.3 880.0,1003.2 880.8,1003.2 881.5,1003.2 882.3,1003.2 883.1,1003.2 883.9,1003.2 884.6,1003.2 885.4,1003.2 886.2,1003.2 887.0,1003.2 887.7,1003.1 888.5,1003.1 889.3,1003.1 890.1,1003.1 890.8,1003.1 891.6,1003.1 892.4,1003.1 893.2,1003.1 893.9,1003.0 894.7,1003.0 895.5,1003.0 896.3,1003.0 897.0,1003.0 897.8,1003.0 898.6,1002.9 899.4,1002.9 900.1,1002.9 900.9,1002.9 901.7,1002.9 902.5,1002.8 903.2,1002.8 904.0,1002.8 904.8,1002.8 905.6,1002.8 906.3,1002.7 907.1,1002.7 907.9,1002.7 908.7,1002.6 909.4,1002.6 910.2,1002.6 911.0,1002.6 911.8,1002.5 912.5,1002.5 913.3,1002.5 914.1,1002.4 914.9,1002.4 915.6,1002.4 916.4,1002.3 917.2,1002.3 918.0,1002.3 918.7,1002.2 919.5,1002.2 920.3,1002.1 921.1,1002.1 921.8,1002.1 922.6,1002.0 923.4,1002.0 924.2,1001.9 924.9,1001.9 925.7,1001.8 926.5,1001.8 927.3,1001.7 928.0,1001.7 928.8,1001.6 929.6,1001.6 930.4,1001.5 931.1,1001.4 931.9,1001.4 932.7,1001.3 933.5,1001.3 934.2,1001.2 935.0,1001.1 935.8,1001.1 936.6,1001.0 937.3,1000.9 938.1,1000.9 938.9,1000.8 939.7,1000.7 940.5,1000.6 941.2,1000.6 942.0,1000.5 942.8,1000.4 943.6,1000.3 944.3,1000.3 945.1,1000.2 945.9,1000.1 946.7,1000.0 947.4,999.9 948.2,999.8 949.0,999.7 949.8,999.7 950.5,999.6 951.3,999.5 952.1,999.4 952.9,999.3 953.6,999.2 954.4,999.1 955.2,999.0 956.0,998.9 956.7,998.8 957.5,998.7 958.3,998.6 959.1,998.5 959.8,998.4 960.6,998.3 961.4,998.2 962.2,998.1 962.9,998.0 963.7,997.9 964.5,997.8 965.3,997.7 966.0,997.6 966.8,997.5 967.6,997.4 968.4,997.3 969.1,997.2 969.9,997.1 970.7,997.0 971.5,996.9 972.2,996.8 973.0,996.7 973.8,996.6 974.6,996.5 975.3,996.4 976.1,996.3 976.9,996.2 977.7,996.1 978.4,996.0 979.2,995.9 980.0,995.8 980.8,995.7 981.5,995.6 982.3,995.5 983.1,995.4 983.9,995.3 984.6,995.2 985.4,995.2 986.2,995.1 987.0,995.0 987.7,994.9 988.5,994.8 989.3,994.7 990.1,994.6 990.8,994.6 991.6,994.5 992.4,994.4 993.2,994.3 993.9,994.3 994.7,994.2 995.5,994.1 996.3,994.1 997.0,994.0 997.8,993.9 998.6,993.9 999.4,993.8 1000.1,993.7 1000.9,993.7 1001.7,993.6 1002.5,993.5 1003.2,993.5 1004.0,993.4 1004.8,993.4 1005.6,993.3 1006.3,993.3 1007.1,993.2 1007.9,993.2 1008.7,993.1 1009.4,993.1 1010.2,993.0 1011.0,993.0 1011.8,992.9 1012.6,992.9 1013.3,992.9 1014.1,992.8 1014.9,992.8 1015.7,992.7 1016.4,992.7 1017.2,992.7 1018.0,992.6 1018.8,992.6 1019.5,992.6 1020.3,992.5 1021.1,992.5 1021.9,992.5 1022.6,992.4 1023.4,992.4 1024.2,992.4 1025.0,992.3 1025.7,992.3 1026.5,992.3 1027.3,992.3 1028.1,992.2 1028.8,992.2 1029.6,992.2 1030.4,992.2 1031.2,992.2 1031.9,992.1 1032.7,992.1 1033.5,992.1 1034.3,992.1 1035.0,992.1 1035.8,992.0 1036.6,992.0 1037.4,992.0 1038.1,992.0 1038.9,992.0 1039.7,992.0 1040.5,991.9 1041.2,991.9 1042.0,991.9 1042.8,991.9 1043.6,991.9 1044.3,991.9 1045.1,991.9 1045.9,991.8 1046.7,991.8 1047.4,991.8 1048.2,991.8 1049.0,991.8 1049.8,991.8 1050.5,991.8 1051.3,991.8 1052.1,991.8 1052.9,991.8 1053.6,991.8 1054.4,991.7 1055.2,991.7 1056.0,991.7 1056.7,991.7 1057.5,991.7 1058.3,991.7 1059.1,991.7 1059.8,991.7 1060.6,991.7 1061.4,991.7 1062.2,991.7 1062.9,991.7 1063.7,991.7 1064.5,991.7 1065.3,991.7 1066.0,991.6 1066.8,991.6 1067.6,991.6 1068.4,991.6 1069.1,991.6 1069.9,991.6 1070.7,991.6 1071.5,991.6 1072.2,991.6 1073.0,991.6 1073.8,991.6 1074.6,991.6 1075.3,991.6 1076.1,991.6 1076.9,991.6 1077.7,991.6 1078.4,991.6 1079.2,991.6 1080.0,991.6 1080.8,991.6 1081.6,991.6 1082.3,991.6 1083.1,991.6 1083.9,991.6 1084.7,991.6 1085.4,991.6 1086.2,991.6 1087.0,991.6 1087.8,991.6 1088.5,991.6 1089.3,991.6 1090.1,991.6 1090.9,991.5 1091.6,991.5 1092.4,991.5 1093.2,991.5 1094.0,991.5 1094.7,991.5 1095.5,991.5 1096.3,991.5 1097.1,991.5 1097.8,991.5 1098.6,991.5 1099.4,991.5 1100.2,991.5 1100.9,991.5 1101.7,991.5 1102.5,991.5 1103.3,991.5 1104.0,991.5 1104.8,991.5 1105.6,991.5 1106.4,991.5 1107.1,991.5 1107.9,991.5 1108.7,991.5 1109.5,991.5 1110.2,991.5 1111.0,991.5 1111.8,991.5 1112.6,991.5 1113.3,991.5 1114.1,991.5 1114.9,991.5 1115.7,991.5 1116.4,991.5 1117.2,991.5 1118.0,991.5 1118.8,991.5 1119.5,991.5 1120.3,991.5 1121.1,991.5 1121.9,991.5 1122.6,991.5 1123.4,991.5 1124.2,991.5 1125.0,991.5 1125.7,991.5 1126.5,991.5 1127.3,991.5 1128.1,991.5 1128.8,991.5 1129.6,991.5 1130.4,991.5 1131.2,991.5 1131.9,991.5 1132.7,991.5 1133.5,991.5 1134.3,991.5 1135.0,991.5 1135.8,991.5 1136.6,991.5 1137.4,991.5 1138.1,991.5 1138.9,991.5 1139.7,991.5 1140.5,991.5 1141.2,991.5 1142.0,991.5 1142.8,991.5 1143.6,991.5 1144.3,991.5 1145.1,991.5 1145.9,991.5 1146.7,991.5 1147.4,991.5 1148.2,991.5 1149.0,991.5 1149.8,991.5 1150.6,991.5 1151.3,991.5 1152.1,991.5 1152.9,991.5 1153.7,991.5 1154.4,991.5 1155.2,991.5 1156.0,991.5 1156.8,991.5 1157.5,991.5 1158.3,991.5 1159.1,991.5 1159.9,991.5 1160.6,991.5 1161.4,991.5 1162.2,991.5 1163.0,991.5 1163.7,991.5 1164.5,991.5 1165.3,991.5 1166.1,991.5 1166.8,991.5 1167.6,991.5 1168.4,991.5 1169.2,991.5 1169.9,991.5 1170.7,991.5 1171.5,991.5 1172.3,991.5 1173.0,991.5 1173.8,991.5 1174.6,991.5 1175.4,991.5 1176.1,991.5 1176.9,991.5 1177.7,991.5 1178.5,991.5 1179.2,991.5 1180.0,991.5 1180.8,991.5 1181.6,991.5 1182.3,991.5 1183.1,991.5 1183.9,991.5 1184.7,991.5 1185.4,991.5 1186.2,991.5 1187.0,991.5 1187.8,991.5 1188.5,991.5 1189.3,991.5 1190.1,991.5 1190.9,991.5 1191.6,991.5 1192.4,991.5 1193.2,991.5 1194.0,991.5 1194.7,991.5 1195.5,991.5 1196.3,991.5 1197.1,991.5 1197.8,991.5 1198.6,991.5 1199.4,991.5 1200.2,991.5 1200.9,991.5 1201.7,991.5 1202.5,991.5 1203.3,991.5 1204.0,991.5 1204.8,991.5 1205.6,991.5 1206.4,991.5 1207.1,991.5 1207.9,991.5 1208.7,991.5 1209.5,991.5 1210.2,991.5 1211.0,991.5 1211.8,991.5 1212.6,991.5 1213.3,991.5 1214.1,991.5 1214.9,991.5 1215.7,991.5 1216.4,991.5 1217.2,991.5 1218.0,991.5 1218.8,991.5 1219.6,991.5 1220.3,991.5 1221.1,991.5 1221.9,991.5 1222.7,991.5 1223.4,991.5 1224.2,991.5 1225.0,991.5 1225.8,991.5 1226.5,991.5 1227.3,991.5 1228.1,991.5 1228.9,991.5 1229.6,991.5 1230.4,991.5 1231.2,991.5 1232.0,991.5 1232.7,991.5 1233.5,991.5 1234.3,991.5 1235.1,991.5 1235.8,991.5 1236.6,991.5 1237.4,991.5 1238.2,991.5 1238.9,991.5 1239.7,991.5 1240.5,991.5 1241.3,991.5 1242.0,991.5 1242.8,991.5 1243.6,991.5 1244.4,991.5 1245.1,991.5 1245.9,991.5 1246.7,991.5 1247.5,991.5 1248.2,991.5 1249.0,991.5 1249.8,991.5 1250.6,991.5 1251.3,991.5 1252.1,991.5 1252.9,991.5 1253.7,991.5 1254.4,991.5 1255.2,991.5 1256.0,991.5 1256.8,991.5 1257.5,991.5 1258.3,991.5 1259.1,991.5 1259.9,991.5 1260.6,991.5 1261.4,991.5 1262.2,991.5 1263.0,991.5 1263.7,991.5 1264.5,991.5 1265.3,991.5 1266.1,991.5 1266.8,991.5 1267.6,991.5 1268.4,991.5 1269.2,991.5 1269.9,991.5 1270.7,991.5 1271.5,991.5 1272.3,991.5 1273.0,991.5 1273.8,991.5" fill="none" stroke="#d81c20" stroke-width="3.4" stroke-linejoin="round" stroke-linecap="round"/>
<polyline points="731.9,999.8 732.7,999.8 733.5,999.8 734.2,999.7 735.0,999.7 735.8,999.7 736.6,999.7 737.3,999.6 738.1,999.6 738.9,999.6 739.7,999.5 740.4,999.5 741.2,999.5 742.0,999.5 742.8,999.4 743.5,999.4 744.3,999.4 745.1,999.3 745.9,999.3 746.6,999.3 747.4,999.2 748.2,999.2 749.0,999.2 749.7,999.1 750.5,999.1 751.3,999.1 752.1,999.0 752.8,999.0 753.6,999.0 754.4,998.9 755.2,998.9 755.9,998.9 756.7,998.8 757.5,998.8 758.3,998.7 759.0,998.7 759.8,998.7 760.6,998.6 761.4,998.6 762.1,998.5 762.9,998.5 763.7,998.5 764.5,998.4 765.2,998.4 766.0,998.3 766.8,998.3 767.6,998.2 768.3,998.2 769.1,998.2 769.9,998.1 770.7,998.1 771.4,998.0 772.2,998.0 773.0,997.9 773.8,997.9 774.5,997.8 775.3,997.8 776.1,997.7 776.9,997.7 777.6,997.6 778.4,997.6 779.2,997.5 780.0,997.5 780.7,997.4 781.5,997.3 782.3,997.3 783.1,997.2 783.8,997.2 784.6,997.1 785.4,997.1 786.2,997.0 786.9,996.9 787.7,996.9 788.5,996.8 789.3,996.7 790.0,996.7 790.8,996.6 791.6,996.5 792.4,996.5 793.1,996.4 793.9,996.3 794.7,996.3 795.5,996.2 796.2,996.1 797.0,996.1 797.8,996.0 798.6,995.9 799.3,995.8 800.1,995.7 800.9,995.7 801.7,995.6 802.5,995.5 803.2,995.4 804.0,995.3 804.8,995.2 805.6,995.2 806.3,995.1 807.1,995.0 807.9,994.9 808.7,994.8 809.4,994.7 810.2,994.6 811.0,994.5 811.8,994.4 812.5,994.3 813.3,994.2 814.1,994.1 814.9,994.0 815.6,993.9 816.4,993.8 817.2,993.7 818.0,993.5 818.7,993.4 819.5,993.3 820.3,993.2 821.1,993.1 821.8,992.9 822.6,992.8 823.4,992.7 824.2,992.6 824.9,992.4 825.7,992.3 826.5,992.1 827.3,992.0 828.0,991.9 828.8,991.7 829.6,991.6 830.4,991.4 831.1,991.3 831.9,991.1 832.7,990.9 833.5,990.8 834.2,990.6 835.0,990.4 835.8,990.3 836.6,990.1 837.3,989.9 838.1,989.7 838.9,989.5 839.7,989.3 840.4,989.2 841.2,989.0 842.0,988.7 842.8,988.5 843.5,988.3 844.3,988.1 845.1,987.9 845.9,987.7 846.6,987.4 847.4,987.2 848.2,987.0 849.0,986.7 849.7,986.5 850.5,986.2 851.3,985.9 852.1,985.7 852.8,985.4 853.6,985.1 854.4,984.8 855.2,984.5 855.9,984.2 856.7,983.9 857.5,983.6 858.3,983.3 859.0,982.9 859.8,982.6 860.6,982.3 861.4,981.9 862.1,981.5 862.9,981.2 863.7,980.8 864.5,980.4 865.2,980.0 866.0,979.6 866.8,979.1 867.6,978.7 868.3,978.3 869.1,977.8 869.9,977.3 870.7,976.8 871.5,976.3 872.2,975.8 873.0,975.3 873.8,974.8 874.6,974.2 875.3,973.6 876.1,973.1 876.9,972.5 877.7,971.8 878.4,971.2 879.2,970.5 880.0,969.8 880.8,969.1 881.5,968.4 882.3,967.7 883.1,966.9 883.9,966.1 884.6,965.3 885.4,964.5 886.2,963.6 887.0,962.7 887.7,961.7 888.5,960.8 889.3,959.8 890.1,958.8 890.8,957.7 891.6,956.6 892.4,955.4 893.2,954.3 893.9,953.0 894.7,951.8 895.5,950.4 896.3,949.1 897.0,947.7 897.8,946.2 898.6,944.7 899.4,943.1 900.1,941.4 900.9,939.7 901.7,937.9 902.5,936.1 903.2,934.2 904.0,932.2 904.8,930.1 905.6,927.9 906.3,925.6 907.1,923.3 907.9,920.9 908.7,918.3 909.4,915.7 910.2,912.9 911.0,910.0 911.8,907.1 912.5,903.9 913.3,900.7 914.1,897.3 914.9,893.8 915.6,890.2 916.4,886.4 917.2,882.4 918.0,878.3 918.7,874.0 919.5,869.6 920.3,865.0 921.1,860.2 921.8,855.2 922.6,850.0 923.4,844.7 924.2,839.1 924.9,833.4 925.7,827.4 926.5,821.3 927.3,815.0 928.0,808.5 928.8,801.8 929.6,794.9 930.4,787.9 931.1,780.7 931.9,773.4 932.7,765.9 933.5,758.4 934.2,750.8 935.0,743.2 935.8,735.5 936.6,727.9 937.3,720.3 938.1,712.9 938.9,705.7 939.7,698.6 940.5,691.9 941.2,685.5 942.0,679.5 942.8,674.0 943.6,668.9 944.3,664.5 945.1,660.7 945.9,657.5 946.7,655.1 947.4,653.4 948.2,652.5 949.0,652.3 949.8,653.1 950.5,654.8 951.3,657.4 952.1,660.9 952.9,665.2 953.6,670.2 954.4,675.9 955.2,682.2 956.0,689.0 956.7,696.3 957.5,703.9 958.3,711.7 959.1,719.8 959.8,728.0 960.6,736.3 961.4,744.6 962.2,752.9 962.9,761.1 963.7,769.2 964.5,777.2 965.3,785.0 966.0,792.6 966.8,800.0 967.6,807.1 968.4,814.1 969.1,820.8 969.9,827.3 970.7,833.5 971.5,839.5 972.2,845.3 973.0,850.9 973.8,856.2 974.6,861.3 975.3,866.2 976.1,870.8 976.9,875.3 977.7,879.6 978.4,883.7 979.2,887.6 980.0,891.3 980.8,894.9 981.5,898.3 982.3,901.6 983.1,904.7 983.9,907.7 984.6,910.5 985.4,913.2 986.2,915.8 987.0,918.3 987.7,920.7 988.5,922.9 989.3,925.1 990.1,927.1 990.8,929.1 991.6,931.0 992.4,932.8 993.2,934.6 993.9,936.2 994.7,937.8 995.5,939.3 996.3,940.8 997.0,942.2 997.8,943.5 998.6,944.8 999.4,946.1 1000.1,947.2 1000.9,948.4 1001.7,949.5 1002.5,950.6 1003.2,951.6 1004.0,952.6 1004.8,953.5 1005.6,954.4 1006.3,955.3 1007.1,956.1 1007.9,956.9 1008.7,957.7 1009.4,958.5 1010.2,959.2 1011.0,959.9 1011.8,960.6 1012.6,961.3 1013.3,961.9 1014.1,962.6 1014.9,963.2 1015.7,963.8 1016.4,964.3 1017.2,964.9 1018.0,965.4 1018.8,965.9 1019.5,966.4 1020.3,966.9 1021.1,967.4 1021.9,967.8 1022.6,968.3 1023.4,968.7 1024.2,969.1 1025.0,969.6 1025.7,970.0 1026.5,970.3 1027.3,970.7 1028.1,971.1 1028.8,971.4 1029.6,971.8 1030.4,972.1 1031.2,972.5 1031.9,972.8 1032.7,973.1 1033.5,973.4 1034.3,973.7 1035.0,974.0 1035.8,974.3 1036.6,974.6 1037.4,974.8 1038.1,975.1 1038.9,975.4 1039.7,975.6 1040.5,975.9 1041.2,976.1 1042.0,976.3 1042.8,976.6 1043.6,976.8 1044.3,977.0 1045.1,977.2 1045.9,977.4 1046.7,977.6 1047.4,977.8 1048.2,978.0 1049.0,978.2 1049.8,978.4 1050.5,978.6 1051.3,978.8 1052.1,979.0 1052.9,979.1 1053.6,979.3 1054.4,979.5 1055.2,979.6 1056.0,979.8 1056.7,980.0 1057.5,980.1 1058.3,980.3 1059.1,980.4 1059.8,980.6 1060.6,980.7 1061.4,980.8 1062.2,981.0 1062.9,981.1 1063.7,981.2 1064.5,981.4 1065.3,981.5 1066.0,981.6 1066.8,981.7 1067.6,981.9 1068.4,982.0 1069.1,982.1 1069.9,982.2 1070.7,982.3 1071.5,982.4 1072.2,982.5 1073.0,982.6 1073.8,982.7 1074.6,982.9 1075.3,983.0 1076.1,983.1 1076.9,983.1 1077.7,983.2 1078.4,983.3 1079.2,983.4 1080.0,983.5 1080.8,983.6 1081.6,983.7 1082.3,983.8 1083.1,983.9 1083.9,984.0 1084.7,984.0 1085.4,984.1 1086.2,984.2 1087.0,984.3 1087.8,984.4 1088.5,984.4 1089.3,984.5 1090.1,984.6 1090.9,984.6 1091.6,984.7 1092.4,984.8 1093.2,984.9 1094.0,984.9 1094.7,985.0 1095.5,985.1 1096.3,985.1 1097.1,985.2 1097.8,985.3 1098.6,985.3 1099.4,985.4 1100.2,985.4 1100.9,985.5 1101.7,985.6 1102.5,985.6 1103.3,985.7 1104.0,985.7 1104.8,985.8 1105.6,985.8 1106.4,985.9 1107.1,985.9 1107.9,986.0 1108.7,986.1 1109.5,986.1 1110.2,986.2 1111.0,986.2 1111.8,986.3 1112.6,986.3 1113.3,986.3 1114.1,986.4 1114.9,986.4 1115.7,986.5 1116.4,986.5 1117.2,986.6 1118.0,986.6 1118.8,986.7 1119.5,986.7 1120.3,986.7 1121.1,986.8 1121.9,986.8 1122.6,986.9 1123.4,986.9 1124.2,987.0 1125.0,987.0 1125.7,987.0 1126.5,987.1 1127.3,987.1 1128.1,987.1 1128.8,987.2 1129.6,987.2 1130.4,987.3 1131.2,987.3 1131.9,987.3 1132.7,987.4 1133.5,987.4 1134.3,987.4 1135.0,987.5 1135.8,987.5 1136.6,987.5 1137.4,987.6 1138.1,987.6 1138.9,987.6 1139.7,987.6 1140.5,987.7 1141.2,987.7 1142.0,987.7 1142.8,987.8 1143.6,987.8 1144.3,987.8 1145.1,987.9 1145.9,987.9 1146.7,987.9 1147.4,987.9 1148.2,988.0 1149.0,988.0 1149.8,988.0 1150.6,988.0 1151.3,988.1 1152.1,988.1 1152.9,988.1 1153.7,988.1 1154.4,988.2 1155.2,988.2 1156.0,988.2 1156.8,988.2 1157.5,988.3 1158.3,988.3 1159.1,988.3 1159.9,988.3 1160.6,988.4 1161.4,988.4 1162.2,988.4 1163.0,988.4 1163.7,988.5 1164.5,988.5 1165.3,988.5 1166.1,988.5 1166.8,988.5 1167.6,988.6 1168.4,988.6 1169.2,988.6 1169.9,988.6 1170.7,988.6 1171.5,988.7 1172.3,988.7 1173.0,988.7 1173.8,988.7 1174.6,988.7 1175.4,988.8 1176.1,988.8 1176.9,988.8 1177.7,988.8 1178.5,988.8 1179.2,988.8 1180.0,988.9 1180.8,988.9 1181.6,988.9 1182.3,988.9 1183.1,988.9 1183.9,988.9 1184.7,989.0 1185.4,989.0 1186.2,989.0 1187.0,989.0 1187.8,989.0 1188.5,989.0 1189.3,989.1 1190.1,989.1 1190.9,989.1 1191.6,989.1 1192.4,989.1 1193.2,989.1 1194.0,989.1 1194.7,989.2 1195.5,989.2 1196.3,989.2 1197.1,989.2 1197.8,989.2 1198.6,989.2 1199.4,989.2 1200.2,989.3 1200.9,989.3 1201.7,989.3 1202.5,989.3 1203.3,989.3 1204.0,989.3 1204.8,989.3 1205.6,989.4 1206.4,989.4 1207.1,989.4 1207.9,989.4 1208.7,989.4 1209.5,989.4 1210.2,989.4 1211.0,989.4 1211.8,989.5 1212.6,989.5 1213.3,989.5 1214.1,989.5 1214.9,989.5 1215.7,989.5 1216.4,989.5 1217.2,989.5 1218.0,989.5 1218.8,989.6 1219.6,989.6 1220.3,989.6 1221.1,989.6 1221.9,989.6 1222.7,989.6 1223.4,989.6 1224.2,989.6 1225.0,989.6 1225.8,989.7 1226.5,989.7 1227.3,989.7 1228.1,989.7 1228.9,989.7 1229.6,989.7 1230.4,989.7 1231.2,989.7 1232.0,989.7 1232.7,989.7 1233.5,989.8 1234.3,989.8 1235.1,989.8 1235.8,989.8 1236.6,989.8 1237.4,989.8 1238.2,989.8 1238.9,989.8 1239.7,989.8 1240.5,989.8 1241.3,989.8 1242.0,989.9 1242.8,989.9 1243.6,989.9 1244.4,989.9 1245.1,989.9 1245.9,989.9 1246.7,989.9 1247.5,989.9 1248.2,989.9 1249.0,989.9 1249.8,989.9 1250.6,989.9 1251.3,990.0 1252.1,990.0 1252.9,990.0 1253.7,990.0 1254.4,990.0 1255.2,990.0 1256.0,990.0 1256.8,990.0 1257.5,990.0 1258.3,990.0 1259.1,990.0 1259.9,990.0 1260.6,990.0 1261.4,990.0 1262.2,990.1 1263.0,990.1 1263.7,990.1 1264.5,990.1 1265.3,990.1 1266.1,990.1 1266.8,990.1 1267.6,990.1 1268.4,990.1 1269.2,990.1 1269.9,990.1 1270.7,990.1 1271.5,990.1 1272.3,990.1 1273.0,990.2 1273.8,990.2" fill="none" stroke="#1a0ccc" stroke-width="3.4" stroke-linejoin="round" stroke-linecap="round"/>
<polyline points="731.9,1003.3 732.7,1003.3 733.5,1003.3 734.2,1003.3 735.0,1003.3 735.8,1003.3 736.6,1003.3 737.3,1003.3 738.1,1003.3 738.9,1003.3 739.7,1003.3 740.4,1003.3 741.2,1003.3 742.0,1003.3 742.8,1003.3 743.5,1003.3 744.3,1003.3 745.1,1003.3 745.9,1003.3 746.6,1003.3 747.4,1003.3 748.2,1003.3 749.0,1003.3 749.7,1003.3 750.5,1003.3 751.3,1003.3 752.1,1003.3 752.8,1003.3 753.6,1003.3 754.4,1003.3 755.2,1003.3 755.9,1003.3 756.7,1003.3 757.5,1003.3 758.3,1003.3 759.0,1003.3 759.8,1003.2 760.6,1003.2 761.4,1003.2 762.1,1003.2 762.9,1003.2 763.7,1003.2 764.5,1003.2 765.2,1003.2 766.0,1003.2 766.8,1003.2 767.6,1003.2 768.3,1003.2 769.1,1003.2 769.9,1003.2 770.7,1003.2 771.4,1003.2 772.2,1003.2 773.0,1003.2 773.8,1003.2 774.5,1003.2 775.3,1003.2 776.1,1003.2 776.9,1003.2 777.6,1003.2 778.4,1003.2 779.2,1003.2 780.0,1003.2 780.7,1003.2 781.5,1003.2 782.3,1003.2 783.1,1003.2 783.8,1003.2 784.6,1003.2 785.4,1003.2 786.2,1003.2 786.9,1003.2 787.7,1003.2 788.5,1003.2 789.3,1003.2 790.0,1003.2 790.8,1003.2 791.6,1003.2 792.4,1003.2 793.1,1003.2 793.9,1003.2 794.7,1003.2 795.5,1003.2 796.2,1003.2 797.0,1003.2 797.8,1003.1 798.6,1003.1 799.3,1003.1 800.1,1003.1 800.9,1003.1 801.7,1003.1 802.5,1003.1 803.2,1003.1 804.0,1003.1 804.8,1003.1 805.6,1003.1 806.3,1003.1 807.1,1003.1 807.9,1003.1 808.7,1003.1 809.4,1003.1 810.2,1003.1 811.0,1003.1 811.8,1003.1 812.5,1003.1 813.3,1003.1 814.1,1003.1 814.9,1003.1 815.6,1003.1 816.4,1003.1 817.2,1003.1 818.0,1003.1 818.7,1003.1 819.5,1003.1 820.3,1003.1 821.1,1003.1 821.8,1003.0 822.6,1003.0 823.4,1003.0 824.2,1003.0 824.9,1003.0 825.7,1003.0 826.5,1003.0 827.3,1003.0 828.0,1003.0 828.8,1003.0 829.6,1003.0 830.4,1003.0 831.1,1003.0 831.9,1003.0 832.7,1003.0 833.5,1003.0 834.2,1003.0 835.0,1003.0 835.8,1003.0 836.6,1003.0 837.3,1003.0 838.1,1002.9 838.9,1002.9 839.7,1002.9 840.4,1002.9 841.2,1002.9 842.0,1002.9 842.8,1002.9 843.5,1002.9 844.3,1002.9 845.1,1002.9 845.9,1002.9 846.6,1002.9 847.4,1002.9 848.2,1002.9 849.0,1002.9 849.7,1002.8 850.5,1002.8 851.3,1002.8 852.1,1002.8 852.8,1002.8 853.6,1002.8 854.4,1002.8 855.2,1002.8 855.9,1002.8 856.7,1002.8 857.5,1002.8 858.3,1002.7 859.0,1002.7 859.8,1002.7 860.6,1002.7 861.4,1002.7 862.1,1002.7 862.9,1002.7 863.7,1002.7 864.5,1002.7 865.2,1002.7 866.0,1002.6 866.8,1002.6 867.6,1002.6 868.3,1002.6 869.1,1002.6 869.9,1002.6 870.7,1002.6 871.5,1002.6 872.2,1002.5 873.0,1002.5 873.8,1002.5 874.6,1002.5 875.3,1002.5 876.1,1002.5 876.9,1002.4 877.7,1002.4 878.4,1002.4 879.2,1002.4 880.0,1002.4 880.8,1002.4 881.5,1002.3 882.3,1002.3 883.1,1002.3 883.9,1002.3 884.6,1002.3 885.4,1002.2 886.2,1002.2 887.0,1002.2 887.7,1002.2 888.5,1002.1 889.3,1002.1 890.1,1002.1 890.8,1002.1 891.6,1002.0 892.4,1002.0 893.2,1002.0 893.9,1001.9 894.7,1001.9 895.5,1001.9 896.3,1001.9 897.0,1001.8 897.8,1001.8 898.6,1001.7 899.4,1001.7 900.1,1001.7 900.9,1001.6 901.7,1001.6 902.5,1001.6 903.2,1001.5 904.0,1001.5 904.8,1001.4 905.6,1001.4 906.3,1001.3 907.1,1001.3 907.9,1001.2 908.7,1001.2 909.4,1001.1 910.2,1001.1 911.0,1001.0 911.8,1000.9 912.5,1000.9 913.3,1000.8 914.1,1000.8 914.9,1000.7 915.6,1000.6 916.4,1000.5 917.2,1000.5 918.0,1000.4 918.7,1000.3 919.5,1000.2 920.3,1000.1 921.1,1000.1 921.8,1000.0 922.6,999.9 923.4,999.8 924.2,999.7 924.9,999.6 925.7,999.5 926.5,999.4 927.3,999.2 928.0,999.1 928.8,999.0 929.6,998.9 930.4,998.8 931.1,998.6 931.9,998.5 932.7,998.4 933.5,998.2 934.2,998.1 935.0,997.9 935.8,997.8 936.6,997.6 937.3,997.4 938.1,997.3 938.9,997.1 939.7,996.9 940.5,996.7 941.2,996.5 942.0,996.3 942.8,996.1 943.6,995.9 944.3,995.7 945.1,995.5 945.9,995.3 946.7,995.0 947.4,994.8 948.2,994.6 949.0,994.3 949.8,994.1 950.5,993.8 951.3,993.5 952.1,993.3 952.9,993.0 953.6,992.7 954.4,992.4 955.2,992.1 956.0,991.8 956.7,991.5 957.5,991.2 958.3,990.9 959.1,990.6 959.8,990.3 960.6,989.9 961.4,989.6 962.2,989.3 962.9,988.9 963.7,988.6 964.5,988.2 965.3,987.8 966.0,987.5 966.8,987.1 967.6,986.7 968.4,986.4 969.1,986.0 969.9,985.6 970.7,985.2 971.5,984.8 972.2,984.4 973.0,984.0 973.8,983.6 974.6,983.2 975.3,982.8 976.1,982.4 976.9,982.0 977.7,981.5 978.4,981.1 979.2,980.7 980.0,980.3 980.8,979.9 981.5,979.5 982.3,979.0 983.1,978.6 983.9,978.2 984.6,977.8 985.4,977.4 986.2,977.0 987.0,976.6 987.7,976.2 988.5,975.8 989.3,975.4 990.1,975.1 990.8,974.7 991.6,974.3 992.4,974.0 993.2,973.6 993.9,973.3 994.7,972.9 995.5,972.6 996.3,972.3 997.0,972.0 997.8,971.7 998.6,971.4 999.4,971.1 1000.1,970.9 1000.9,970.7 1001.7,970.4 1002.5,970.2 1003.2,970.0 1004.0,969.9 1004.8,969.7 1005.6,969.5 1006.3,969.4 1007.1,969.3 1007.9,969.2 1008.7,969.1 1009.4,969.1 1010.2,969.0 1011.0,969.1 1011.8,969.1 1012.6,969.2 1013.3,969.4 1014.1,969.6 1014.9,969.8 1015.7,970.1 1016.4,970.4 1017.2,970.8 1018.0,971.1 1018.8,971.6 1019.5,972.0 1020.3,972.4 1021.1,972.9 1021.9,973.4 1022.6,973.9 1023.4,974.4 1024.2,974.9 1025.0,975.4 1025.7,975.9 1026.5,976.4 1027.3,977.0 1028.1,977.5 1028.8,978.0 1029.6,978.5 1030.4,979.0 1031.2,979.5 1031.9,980.0 1032.7,980.4 1033.5,980.9 1034.3,981.3 1035.0,981.8 1035.8,982.2 1036.6,982.6 1037.4,983.0 1038.1,983.4 1038.9,983.8 1039.7,984.1 1040.5,984.5 1041.2,984.8 1042.0,985.1 1042.8,985.4 1043.6,985.7 1044.3,986.0 1045.1,986.2 1045.9,986.5 1046.7,986.7 1047.4,987.0 1048.2,987.2 1049.0,987.4 1049.8,987.6 1050.5,987.7 1051.3,987.9 1052.1,988.1 1052.9,988.2 1053.6,988.4 1054.4,988.5 1055.2,988.7 1056.0,988.8 1056.7,988.9 1057.5,989.0 1058.3,989.1 1059.1,989.2 1059.8,989.3 1060.6,989.4 1061.4,989.4 1062.2,989.5 1062.9,989.6 1063.7,989.7 1064.5,989.7 1065.3,989.8 1066.0,989.8 1066.8,989.9 1067.6,989.9 1068.4,990.0 1069.1,990.0 1069.9,990.1 1070.7,990.1 1071.5,990.1 1072.2,990.2 1073.0,990.2 1073.8,990.2 1074.6,990.3 1075.3,990.3 1076.1,990.3 1076.9,990.3 1077.7,990.4 1078.4,990.4 1079.2,990.4 1080.0,990.4 1080.8,990.5 1081.6,990.5 1082.3,990.5 1083.1,990.5 1083.9,990.5 1084.7,990.6 1085.4,990.6 1086.2,990.6 1087.0,990.6 1087.8,990.6 1088.5,990.6 1089.3,990.7 1090.1,990.7 1090.9,990.7 1091.6,990.7 1092.4,990.7 1093.2,990.7 1094.0,990.7 1094.7,990.8 1095.5,990.8 1096.3,990.8 1097.1,990.8 1097.8,990.8 1098.6,990.8 1099.4,990.8 1100.2,990.8 1100.9,990.8 1101.7,990.8 1102.5,990.9 1103.3,990.9 1104.0,990.9 1104.8,990.9 1105.6,990.9 1106.4,990.9 1107.1,990.9 1107.9,990.9 1108.7,990.9 1109.5,990.9 1110.2,990.9 1111.0,991.0 1111.8,991.0 1112.6,991.0 1113.3,991.0 1114.1,991.0 1114.9,991.0 1115.7,991.0 1116.4,991.0 1117.2,991.0 1118.0,991.0 1118.8,991.0 1119.5,991.0 1120.3,991.0 1121.1,991.0 1121.9,991.0 1122.6,991.1 1123.4,991.1 1124.2,991.1 1125.0,991.1 1125.7,991.1 1126.5,991.1 1127.3,991.1 1128.1,991.1 1128.8,991.1 1129.6,991.1 1130.4,991.1 1131.2,991.1 1131.9,991.1 1132.7,991.1 1133.5,991.1 1134.3,991.1 1135.0,991.1 1135.8,991.1 1136.6,991.1 1137.4,991.1 1138.1,991.1 1138.9,991.2 1139.7,991.2 1140.5,991.2 1141.2,991.2 1142.0,991.2 1142.8,991.2 1143.6,991.2 1144.3,991.2 1145.1,991.2 1145.9,991.2 1146.7,991.2 1147.4,991.2 1148.2,991.2 1149.0,991.2 1149.8,991.2 1150.6,991.2 1151.3,991.2 1152.1,991.2 1152.9,991.2 1153.7,991.2 1154.4,991.2 1155.2,991.2 1156.0,991.2 1156.8,991.2 1157.5,991.2 1158.3,991.2 1159.1,991.2 1159.9,991.2 1160.6,991.2 1161.4,991.2 1162.2,991.2 1163.0,991.2 1163.7,991.2 1164.5,991.3 1165.3,991.3 1166.1,991.3 1166.8,991.3 1167.6,991.3 1168.4,991.3 1169.2,991.3 1169.9,991.3 1170.7,991.3 1171.5,991.3 1172.3,991.3 1173.0,991.3 1173.8,991.3 1174.6,991.3 1175.4,991.3 1176.1,991.3 1176.9,991.3 1177.7,991.3 1178.5,991.3 1179.2,991.3 1180.0,991.3 1180.8,991.3 1181.6,991.3 1182.3,991.3 1183.1,991.3 1183.9,991.3 1184.7,991.3 1185.4,991.3 1186.2,991.3 1187.0,991.3 1187.8,991.3 1188.5,991.3 1189.3,991.3 1190.1,991.3 1190.9,991.3 1191.6,991.3 1192.4,991.3 1193.2,991.3 1194.0,991.3 1194.7,991.3 1195.5,991.3 1196.3,991.3 1197.1,991.3 1197.8,991.3 1198.6,991.3 1199.4,991.3 1200.2,991.3 1200.9,991.3 1201.7,991.3 1202.5,991.3 1203.3,991.3 1204.0,991.3 1204.8,991.3 1205.6,991.3 1206.4,991.3 1207.1,991.3 1207.9,991.3 1208.7,991.3 1209.5,991.3 1210.2,991.4 1211.0,991.4 1211.8,991.4 1212.6,991.4 1213.3,991.4 1214.1,991.4 1214.9,991.4 1215.7,991.4 1216.4,991.4 1217.2,991.4 1218.0,991.4 1218.8,991.4 1219.6,991.4 1220.3,991.4 1221.1,991.4 1221.9,991.4 1222.7,991.4 1223.4,991.4 1224.2,991.4 1225.0,991.4 1225.8,991.4 1226.5,991.4 1227.3,991.4 1228.1,991.4 1228.9,991.4 1229.6,991.4 1230.4,991.4 1231.2,991.4 1232.0,991.4 1232.7,991.4 1233.5,991.4 1234.3,991.4 1235.1,991.4 1235.8,991.4 1236.6,991.4 1237.4,991.4 1238.2,991.4 1238.9,991.4 1239.7,991.4 1240.5,991.4 1241.3,991.4 1242.0,991.4 1242.8,991.4 1243.6,991.4 1244.4,991.4 1245.1,991.4 1245.9,991.4 1246.7,991.4 1247.5,991.4 1248.2,991.4 1249.0,991.4 1249.8,991.4 1250.6,991.4 1251.3,991.4 1252.1,991.4 1252.9,991.4 1253.7,991.4 1254.4,991.4 1255.2,991.4 1256.0,991.4 1256.8,991.4 1257.5,991.4 1258.3,991.4 1259.1,991.4 1259.9,991.4 1260.6,991.4 1261.4,991.4 1262.2,991.4 1263.0,991.4 1263.7,991.4 1264.5,991.4 1265.3,991.4 1266.1,991.4 1266.8,991.4 1267.6,991.4 1268.4,991.4 1269.2,991.4 1269.9,991.4 1270.7,991.4 1271.5,991.4 1272.3,991.4 1273.0,991.4 1273.8,991.4" fill="none" stroke="#e024e4" stroke-width="3.4" stroke-linejoin="round" stroke-linecap="round"/>
<polyline points="731.9,1003.5 732.7,1003.5 733.5,1003.5 734.2,1003.5 735.0,1003.5 735.8,1003.5 736.6,1003.5 737.3,1003.5 738.1,1003.5 738.9,1003.5 739.7,1003.5 740.4,1003.5 741.2,1003.5 742.0,1003.5 742.8,1003.5 743.5,1003.5 744.3,1003.5 745.1,1003.5 745.9,1003.5 746.6,1003.5 747.4,1003.5 748.2,1003.5 749.0,1003.5 749.7,1003.5 750.5,1003.5 751.3,1003.5 752.1,1003.5 752.8,1003.5 753.6,1003.5 754.4,1003.5 755.2,1003.5 755.9,1003.5 756.7,1003.5 757.5,1003.5 758.3,1003.5 759.0,1003.5 759.8,1003.5 760.6,1003.5 761.4,1003.5 762.1,1003.5 762.9,1003.5 763.7,1003.5 764.5,1003.5 765.2,1003.5 766.0,1003.5 766.8,1003.5 767.6,1003.5 768.3,1003.5 769.1,1003.5 769.9,1003.5 770.7,1003.5 771.4,1003.5 772.2,1003.5 773.0,1003.5 773.8,1003.5 774.5,1003.5 775.3,1003.5 776.1,1003.5 776.9,1003.5 777.6,1003.5 778.4,1003.5 779.2,1003.5 780.0,1003.5 780.7,1003.5 781.5,1003.5 782.3,1003.5 783.1,1003.5 783.8,1003.5 784.6,1003.5 785.4,1003.5 786.2,1003.5 786.9,1003.5 787.7,1003.5 788.5,1003.5 789.3,1003.5 790.0,1003.5 790.8,1003.5 791.6,1003.5 792.4,1003.5 793.1,1003.5 793.9,1003.5 794.7,1003.5 795.5,1003.5 796.2,1003.5 797.0,1003.5 797.8,1003.5 798.6,1003.5 799.3,1003.5 800.1,1003.5 800.9,1003.5 801.7,1003.5 802.5,1003.5 803.2,1003.5 804.0,1003.5 804.8,1003.5 805.6,1003.5 806.3,1003.5 807.1,1003.5 807.9,1003.5 808.7,1003.5 809.4,1003.5 810.2,1003.5 811.0,1003.5 811.8,1003.5 812.5,1003.5 813.3,1003.5 814.1,1003.5 814.9,1003.5 815.6,1003.5 816.4,1003.5 817.2,1003.5 818.0,1003.5 818.7,1003.5 819.5,1003.5 820.3,1003.5 821.1,1003.5 821.8,1003.5 822.6,1003.5 823.4,1003.5 824.2,1003.5 824.9,1003.5 825.7,1003.5 826.5,1003.4 827.3,1003.4 828.0,1003.4 828.8,1003.4 829.6,1003.4 830.4,1003.4 831.1,1003.4 831.9,1003.4 832.7,1003.4 833.5,1003.4 834.2,1003.4 835.0,1003.4 835.8,1003.4 836.6,1003.4 837.3,1003.4 838.1,1003.4 838.9,1003.4 839.7,1003.4 840.4,1003.4 841.2,1003.4 842.0,1003.4 842.8,1003.4 843.5,1003.4 844.3,1003.4 845.1,1003.4 845.9,1003.4 846.6,1003.4 847.4,1003.4 848.2,1003.4 849.0,1003.4 849.7,1003.4 850.5,1003.4 851.3,1003.4 852.1,1003.4 852.8,1003.4 853.6,1003.4 854.4,1003.4 855.2,1003.4 855.9,1003.4 856.7,1003.4 857.5,1003.4 858.3,1003.4 859.0,1003.4 859.8,1003.4 860.6,1003.4 861.4,1003.4 862.1,1003.3 862.9,1003.3 863.7,1003.3 864.5,1003.3 865.2,1003.3 866.0,1003.3 866.8,1003.3 867.6,1003.3 868.3,1003.3 869.1,1003.3 869.9,1003.3 870.7,1003.3 871.5,1003.3 872.2,1003.3 873.0,1003.3 873.8,1003.3 874.6,1003.3 875.3,1003.3 876.1,1003.2 876.9,1003.2 877.7,1003.2 878.4,1003.2 879.2,1003.2 880.0,1003.2 880.8,1003.2 881.5,1003.2 882.3,1003.2 883.1,1003.2 883.9,1003.2 884.6,1003.1 885.4,1003.1 886.2,1003.1 887.0,1003.1 887.7,1003.1 888.5,1003.1 889.3,1003.1 890.1,1003.1 890.8,1003.1 891.6,1003.0 892.4,1003.0 893.2,1003.0 893.9,1003.0 894.7,1003.0 895.5,1003.0 896.3,1002.9 897.0,1002.9 897.8,1002.9 898.6,1002.9 899.4,1002.9 900.1,1002.9 900.9,1002.8 901.7,1002.8 902.5,1002.8 903.2,1002.8 904.0,1002.7 904.8,1002.7 905.6,1002.7 906.3,1002.7 907.1,1002.6 907.9,1002.6 908.7,1002.6 909.4,1002.6 910.2,1002.5 911.0,1002.5 911.8,1002.5 912.5,1002.4 913.3,1002.4 914.1,1002.4 914.9,1002.3 915.6,1002.3 916.4,1002.3 917.2,1002.2 918.0,1002.2 918.7,1002.2 919.5,1002.1 920.3,1002.1 921.1,1002.0 921.8,1002.0 922.6,1001.9 923.4,1001.9 924.2,1001.9 924.9,1001.8 925.7,1001.8 926.5,1001.7 927.3,1001.7 928.0,1001.6 928.8,1001.5 929.6,1001.5 930.4,1001.4 931.1,1001.4 931.9,1001.3 932.7,1001.3 933.5,1001.2 934.2,1001.1 935.0,1001.1 935.8,1001.0 936.6,1000.9 937.3,1000.9 938.1,1000.8 938.9,1000.7 939.7,1000.6 940.5,1000.6 941.2,1000.5 942.0,1000.4 942.8,1000.3 943.6,1000.3 944.3,1000.2 945.1,1000.1 945.9,1000.0 946.7,999.9 947.4,999.8 948.2,999.7 949.0,999.7 949.8,999.6 950.5,999.5 951.3,999.4 952.1,999.3 952.9,999.2 953.6,999.1 954.4,999.0 955.2,998.9 956.0,998.8 956.7,998.7 957.5,998.6 958.3,998.5 959.1,998.4 959.8,998.3 960.6,998.2 961.4,998.1 962.2,998.0 962.9,997.9 963.7,997.8 964.5,997.7 965.3,997.6 966.0,997.5 966.8,997.4 967.6,997.2 968.4,997.1 969.1,997.0 969.9,996.9 970.7,996.8 971.5,996.7 972.2,996.6 973.0,996.5 973.8,996.4 974.6,996.3 975.3,996.2 976.1,996.1 976.9,996.0 977.7,995.9 978.4,995.8 979.2,995.7 980.0,995.6 980.8,995.5 981.5,995.4 982.3,995.3 983.1,995.2 983.9,995.1 984.6,995.0 985.4,994.9 986.2,994.8 987.0,994.7 987.7,994.6 988.5,994.5 989.3,994.5 990.1,994.4 990.8,994.3 991.6,994.2 992.4,994.1 993.2,994.0 993.9,993.9 994.7,993.9 995.5,993.8 996.3,993.7 997.0,993.6 997.8,993.5 998.6,993.5 999.4,993.4 1000.1,993.3 1000.9,993.2 1001.7,993.2 1002.5,993.1 1003.2,993.0 1004.0,993.0 1004.8,992.9 1005.6,992.8 1006.3,992.7 1007.1,992.7 1007.9,992.6 1008.7,992.5 1009.4,992.5 1010.2,992.4 1011.0,992.4 1011.8,992.3 1012.6,992.2 1013.3,992.2 1014.1,992.1 1014.9,992.1 1015.7,992.0 1016.4,991.9 1017.2,991.9 1018.0,991.8 1018.8,991.8 1019.5,991.7 1020.3,991.7 1021.1,991.6 1021.9,991.5 1022.6,991.5 1023.4,991.4 1024.2,991.4 1025.0,991.3 1025.7,991.3 1026.5,991.2 1027.3,991.2 1028.1,991.1 1028.8,991.1 1029.6,991.0 1030.4,991.0 1031.2,990.9 1031.9,990.9 1032.7,990.8 1033.5,990.8 1034.3,990.7 1035.0,990.7 1035.8,990.6 1036.6,990.6 1037.4,990.5 1038.1,990.5 1038.9,990.4 1039.7,990.4 1040.5,990.3 1041.2,990.3 1042.0,990.2 1042.8,990.2 1043.6,990.1 1044.3,990.1 1045.1,990.0 1045.9,990.0 1046.7,989.9 1047.4,989.9 1048.2,989.8 1049.0,989.8 1049.8,989.7 1050.5,989.7 1051.3,989.6 1052.1,989.6 1052.9,989.5 1053.6,989.5 1054.4,989.4 1055.2,989.4 1056.0,989.3 1056.7,989.3 1057.5,989.3 1058.3,989.2 1059.1,989.2 1059.8,989.1 1060.6,989.1 1061.4,989.0 1062.2,989.0 1062.9,988.9 1063.7,988.9 1064.5,988.9 1065.3,988.8 1066.0,988.8 1066.8,988.7 1067.6,988.7 1068.4,988.7 1069.1,988.6 1069.9,988.6 1070.7,988.6 1071.5,988.5 1072.2,988.5 1073.0,988.5 1073.8,988.4 1074.6,988.4 1075.3,988.4 1076.1,988.3 1076.9,988.3 1077.7,988.3 1078.4,988.2 1079.2,988.2 1080.0,988.2 1080.8,988.2 1081.6,988.1 1082.3,988.1 1083.1,988.1 1083.9,988.1 1084.7,988.1 1085.4,988.1 1086.2,988.0 1087.0,988.0 1087.8,988.0 1088.5,988.0 1089.3,988.0 1090.1,988.0 1090.9,988.0 1091.6,988.0 1092.4,987.9 1093.2,987.9 1094.0,987.9 1094.7,987.9 1095.5,987.9 1096.3,987.9 1097.1,987.9 1097.8,987.9 1098.6,987.9 1099.4,987.9 1100.2,987.9 1100.9,987.9 1101.7,987.9 1102.5,987.9 1103.3,987.9 1104.0,987.9 1104.8,987.9 1105.6,987.9 1106.4,988.0 1107.1,988.0 1107.9,988.0 1108.7,988.0 1109.5,988.0 1110.2,988.0 1111.0,988.0 1111.8,988.0 1112.6,988.0 1113.3,988.0 1114.1,988.0 1114.9,988.0 1115.7,988.0 1116.4,988.0 1117.2,988.0 1118.0,987.9 1118.8,987.9 1119.5,987.9 1120.3,987.9 1121.1,987.9 1121.9,987.9 1122.6,987.9 1123.4,987.9 1124.2,987.8 1125.0,987.8 1125.7,987.8 1126.5,987.8 1127.3,987.7 1128.1,987.7 1128.8,987.7 1129.6,987.7 1130.4,987.6 1131.2,987.6 1131.9,987.6 1132.7,987.6 1133.5,987.5 1134.3,987.5 1135.0,987.5 1135.8,987.5 1136.6,987.4 1137.4,987.4 1138.1,987.4 1138.9,987.4 1139.7,987.4 1140.5,987.4 1141.2,987.3 1142.0,987.3 1142.8,987.3 1143.6,987.4 1144.3,987.4 1145.1,987.4 1145.9,987.4 1146.7,987.4 1147.4,987.5 1148.2,987.5 1149.0,987.5 1149.8,987.6 1150.6,987.6 1151.3,987.7 1152.1,987.8 1152.9,987.8 1153.7,987.9 1154.4,988.0 1155.2,988.0 1156.0,988.1 1156.8,988.2 1157.5,988.3 1158.3,988.4 1159.1,988.5 1159.9,988.6 1160.6,988.6 1161.4,988.7 1162.2,988.8 1163.0,988.9 1163.7,989.0 1164.5,989.1 1165.3,989.2 1166.1,989.3 1166.8,989.4 1167.6,989.4 1168.4,989.5 1169.2,989.6 1169.9,989.7 1170.7,989.8 1171.5,989.8 1172.3,989.9 1173.0,990.0 1173.8,990.0 1174.6,990.1 1175.4,990.2 1176.1,990.2 1176.9,990.3 1177.7,990.3 1178.5,990.4 1179.2,990.4 1180.0,990.5 1180.8,990.5 1181.6,990.6 1182.3,990.6 1183.1,990.7 1183.9,990.7 1184.7,990.7 1185.4,990.8 1186.2,990.8 1187.0,990.8 1187.8,990.9 1188.5,990.9 1189.3,990.9 1190.1,990.9 1190.9,991.0 1191.6,991.0 1192.4,991.0 1193.2,991.0 1194.0,991.0 1194.7,991.1 1195.5,991.1 1196.3,991.1 1197.1,991.1 1197.8,991.1 1198.6,991.1 1199.4,991.1 1200.2,991.2 1200.9,991.2 1201.7,991.2 1202.5,991.2 1203.3,991.2 1204.0,991.2 1204.8,991.2 1205.6,991.2 1206.4,991.2 1207.1,991.2 1207.9,991.2 1208.7,991.2 1209.5,991.3 1210.2,991.3 1211.0,991.3 1211.8,991.3 1212.6,991.3 1213.3,991.3 1214.1,991.3 1214.9,991.3 1215.7,991.3 1216.4,991.3 1217.2,991.3 1218.0,991.3 1218.8,991.3 1219.6,991.3 1220.3,991.3 1221.1,991.3 1221.9,991.3 1222.7,991.3 1223.4,991.3 1224.2,991.3 1225.0,991.3 1225.8,991.3 1226.5,991.3 1227.3,991.4 1228.1,991.4 1228.9,991.4 1229.6,991.4 1230.4,991.4 1231.2,991.4 1232.0,991.4 1232.7,991.4 1233.5,991.4 1234.3,991.4 1235.1,991.4 1235.8,991.4 1236.6,991.4 1237.4,991.4 1238.2,991.4 1238.9,991.4 1239.7,991.4 1240.5,991.4 1241.3,991.4 1242.0,991.4 1242.8,991.4 1243.6,991.4 1244.4,991.4 1245.1,991.4 1245.9,991.4 1246.7,991.4 1247.5,991.4 1248.2,991.4 1249.0,991.4 1249.8,991.4 1250.6,991.4 1251.3,991.4 1252.1,991.4 1252.9,991.4 1253.7,991.4 1254.4,991.4 1255.2,991.4 1256.0,991.4 1256.8,991.4 1257.5,991.4 1258.3,991.4 1259.1,991.4 1259.9,991.4 1260.6,991.4 1261.4,991.4 1262.2,991.4 1263.0,991.4 1263.7,991.4 1264.5,991.4 1265.3,991.4 1266.1,991.4 1266.8,991.4 1267.6,991.4 1268.4,991.4 1269.2,991.4 1269.9,991.4 1270.7,991.4 1271.5,991.4 1272.3,991.4 1273.0,991.4 1273.8,991.4" fill="none" stroke="#28e828" stroke-width="3.4" stroke-linejoin="round" stroke-linecap="round"/>
<polyline points="731.9,1003.5 732.7,1003.5 733.5,1003.5 734.2,1003.5 735.0,1003.5 735.8,1003.5 736.6,1003.5 737.3,1003.5 738.1,1003.5 738.9,1003.5 739.7,1003.5 740.4,1003.5 741.2,1003.5 742.0,1003.5 742.8,1003.5 743.5,1003.5 744.3,1003.5 745.1,1003.5 745.9,1003.5 746.6,1003.5 747.4,1003.5 748.2,1003.5 749.0,1003.5 749.7,1003.5 750.5,1003.5 751.3,1003.5 752.1,1003.5 752.8,1003.5 753.6,1003.5 754.4,1003.5 755.2,1003.5 755.9,1003.5 756.7,1003.5 757.5,1003.5 758.3,1003.5 759.0,1003.5 759.8,1003.5 760.6,1003.5 761.4,1003.5 762.1,1003.5 762.9,1003.5 763.7,1003.5 764.5,1003.5 765.2,1003.5 766.0,1003.5 766.8,1003.5 767.6,1003.5 768.3,1003.5 769.1,1003.5 769.9,1003.5 770.7,1003.5 771.4,1003.5 772.2,1003.5 773.0,1003.5 773.8,1003.5 774.5,1003.5 775.3,1003.5 776.1,1003.5 776.9,1003.5 777.6,1003.5 778.4,1003.5 779.2,1003.5 780.0,1003.5 780.7,1003.5 781.5,1003.5 782.3,1003.5 783.1,1003.5 783.8,1003.5 784.6,1003.5 785.4,1003.5 786.2,1003.5 786.9,1003.5 787.7,1003.5 788.5,1003.5 789.3,1003.5 790.0,1003.5 790.8,1003.5 791.6,1003.5 792.4,1003.5 793.1,1003.5 793.9,1003.5 794.7,1003.5 795.5,1003.5 796.2,1003.5 797.0,1003.5 797.8,1003.5 798.6,1003.5 799.3,1003.5 800.1,1003.5 800.9,1003.5 801.7,1003.5 802.5,1003.5 803.2,1003.5 804.0,1003.5 804.8,1003.5 805.6,1003.5 806.3,1003.5 807.1,1003.5 807.9,1003.5 808.7,1003.5 809.4,1003.5 810.2,1003.5 811.0,1003.5 811.8,1003.5 812.5,1003.5 813.3,1003.5 814.1,1003.5 814.9,1003.5 815.6,1003.5 816.4,1003.5 817.2,1003.5 818.0,1003.5 818.7,1003.5 819.5,1003.5 820.3,1003.5 821.1,1003.5 821.8,1003.5 822.6,1003.5 823.4,1003.5 824.2,1003.5 824.9,1003.5 825.7,1003.5 826.5,1003.5 827.3,1003.4 828.0,1003.4 828.8,1003.4 829.6,1003.4 830.4,1003.4 831.1,1003.4 831.9,1003.4 832.7,1003.4 833.5,1003.4 834.2,1003.4 835.0,1003.4 835.8,1003.4 836.6,1003.4 837.3,1003.4 838.1,1003.4 838.9,1003.4 839.7,1003.4 840.4,1003.4 841.2,1003.4 842.0,1003.4 842.8,1003.4 843.5,1003.4 844.3,1003.4 845.1,1003.4 845.9,1003.4 846.6,1003.4 847.4,1003.4 848.2,1003.4 849.0,1003.4 849.7,1003.4 850.5,1003.4 851.3,1003.4 852.1,1003.4 852.8,1003.4 853.6,1003.4 854.4,1003.4 855.2,1003.4 855.9,1003.4 856.7,1003.4 857.5,1003.4 858.3,1003.4 859.0,1003.4 859.8,1003.4 860.6,1003.4 861.4,1003.4 862.1,1003.4 862.9,1003.3 863.7,1003.3 864.5,1003.3 865.2,1003.3 866.0,1003.3 866.8,1003.3 867.6,1003.3 868.3,1003.3 869.1,1003.3 869.9,1003.3 870.7,1003.3 871.5,1003.3 872.2,1003.3 873.0,1003.3 873.8,1003.3 874.6,1003.3 875.3,1003.3 876.1,1003.3 876.9,1003.2 877.7,1003.2 878.4,1003.2 879.2,1003.2 880.0,1003.2 880.8,1003.2 881.5,1003.2 882.3,1003.2 883.1,1003.2 883.9,1003.2 884.6,1003.2 885.4,1003.1 886.2,1003.1 887.0,1003.1 887.7,1003.1 888.5,1003.1 889.3,1003.1 890.1,1003.1 890.8,1003.1 891.6,1003.0 892.4,1003.0 893.2,1003.0 893.9,1003.0 894.7,1003.0 895.5,1003.0 896.3,1002.9 897.0,1002.9 897.8,1002.9 898.6,1002.9 899.4,1002.9 900.1,1002.9 900.9,1002.8 901.7,1002.8 902.5,1002.8 903.2,1002.8 904.0,1002.8 904.8,1002.7 905.6,1002.7 906.3,1002.7 907.1,1002.7 907.9,1002.6 908.7,1002.6 909.4,1002.6 910.2,1002.5 911.0,1002.5 911.8,1002.5 912.5,1002.5 913.3,1002.4 914.1,1002.4 914.9,1002.4 915.6,1002.3 916.4,1002.3 917.2,1002.2 918.0,1002.2 918.7,1002.2 919.5,1002.1 920.3,1002.1 921.1,1002.0 921.8,1002.0 922.6,1002.0 923.4,1001.9 924.2,1001.9 924.9,1001.8 925.7,1001.8 926.5,1001.7 927.3,1001.7 928.0,1001.6 928.8,1001.6 929.6,1001.5 930.4,1001.4 931.1,1001.4 931.9,1001.3 932.7,1001.3 933.5,1001.2 934.2,1001.1 935.0,1001.1 935.8,1001.0 936.6,1000.9 937.3,1000.9 938.1,1000.8 938.9,1000.7 939.7,1000.7 940.5,1000.6 941.2,1000.5 942.0,1000.4 942.8,1000.3 943.6,1000.3 944.3,1000.2 945.1,1000.1 945.9,1000.0 946.7,999.9 947.4,999.8 948.2,999.8 949.0,999.7 949.8,999.6 950.5,999.5 951.3,999.4 952.1,999.3 952.9,999.2 953.6,999.1 954.4,999.0 955.2,998.9 956.0,998.8 956.7,998.7 957.5,998.6 958.3,998.5 959.1,998.4 959.8,998.3 960.6,998.2 961.4,998.1 962.2,998.0 962.9,997.9 963.7,997.8 964.5,997.7 965.3,997.6 966.0,997.5 966.8,997.4 967.6,997.3 968.4,997.2 969.1,997.1 969.9,997.0 970.7,996.9 971.5,996.8 972.2,996.7 973.0,996.6 973.8,996.5 974.6,996.4 975.3,996.3 976.1,996.2 976.9,996.1 977.7,996.0 978.4,995.9 979.2,995.8 980.0,995.7 980.8,995.6 981.5,995.5 982.3,995.4 983.1,995.3 983.9,995.2 984.6,995.1 985.4,995.0 986.2,994.9 987.0,994.9 987.7,994.8 988.5,994.7 989.3,994.6 990.1,994.5 990.8,994.4 991.6,994.4 992.4,994.3 993.2,994.2 993.9,994.1 994.7,994.1 995.5,994.0 996.3,993.9 997.0,993.8 997.8,993.8 998.6,993.7 999.4,993.6 1000.1,993.6 1000.9,993.5 1001.7,993.5 1002.5,993.4 1003.2,993.3 1004.0,993.3 1004.8,993.2 1005.6,993.2 1006.3,993.1 1007.1,993.1 1007.9,993.0 1008.7,992.9 1009.4,992.9 1010.2,992.8 1011.0,992.8 1011.8,992.8 1012.6,992.7 1013.3,992.7 1014.1,992.6 1014.9,992.6 1015.7,992.5 1016.4,992.5 1017.2,992.5 1018.0,992.4 1018.8,992.4 1019.5,992.3 1020.3,992.3 1021.1,992.3 1021.9,992.2 1022.6,992.2 1023.4,992.2 1024.2,992.1 1025.0,992.1 1025.7,992.1 1026.5,992.1 1027.3,992.0 1028.1,992.0 1028.8,992.0 1029.6,991.9 1030.4,991.9 1031.2,991.9 1031.9,991.9 1032.7,991.8 1033.5,991.8 1034.3,991.8 1035.0,991.8 1035.8,991.7 1036.6,991.7 1037.4,991.7 1038.1,991.7 1038.9,991.7 1039.7,991.6 1040.5,991.6 1041.2,991.6 1042.0,991.6 1042.8,991.5 1043.6,991.5 1044.3,991.5 1045.1,991.5 1045.9,991.5 1046.7,991.4 1047.4,991.4 1048.2,991.4 1049.0,991.4 1049.8,991.4 1050.5,991.3 1051.3,991.3 1052.1,991.3 1052.9,991.3 1053.6,991.3 1054.4,991.2 1055.2,991.2 1056.0,991.2 1056.7,991.2 1057.5,991.1 1058.3,991.1 1059.1,991.1 1059.8,991.0 1060.6,991.0 1061.4,991.0 1062.2,990.9 1062.9,990.9 1063.7,990.9 1064.5,990.8 1065.3,990.8 1066.0,990.7 1066.8,990.7 1067.6,990.6 1068.4,990.6 1069.1,990.5 1069.9,990.4 1070.7,990.4 1071.5,990.3 1072.2,990.2 1073.0,990.1 1073.8,990.0 1074.6,990.0 1075.3,989.9 1076.1,989.7 1076.9,989.6 1077.7,989.5 1078.4,989.4 1079.2,989.3 1080.0,989.1 1080.8,989.0 1081.6,988.8 1082.3,988.6 1083.1,988.5 1083.9,988.3 1084.7,988.1 1085.4,987.9 1086.2,987.7 1087.0,987.5 1087.8,987.2 1088.5,987.0 1089.3,986.8 1090.1,986.5 1090.9,986.2 1091.6,986.0 1092.4,985.7 1093.2,985.4 1094.0,985.1 1094.7,984.8 1095.5,984.5 1096.3,984.2 1097.1,983.9 1097.8,983.6 1098.6,983.2 1099.4,982.9 1100.2,982.6 1100.9,982.3 1101.7,981.9 1102.5,981.6 1103.3,981.3 1104.0,981.0 1104.8,980.7 1105.6,980.4 1106.4,980.1 1107.1,979.8 1107.9,979.5 1108.7,979.2 1109.5,979.0 1110.2,978.7 1111.0,978.5 1111.8,978.3 1112.6,978.1 1113.3,978.0 1114.1,977.8 1114.9,977.7 1115.7,977.6 1116.4,977.6 1117.2,977.5 1118.0,977.5 1118.8,977.5 1119.5,977.6 1120.3,977.6 1121.1,977.7 1121.9,977.8 1122.6,978.0 1123.4,978.1 1124.2,978.3 1125.0,978.5 1125.7,978.7 1126.5,978.9 1127.3,979.2 1128.1,979.5 1128.8,979.7 1129.6,980.0 1130.4,980.3 1131.2,980.6 1131.9,980.9 1132.7,981.3 1133.5,981.6 1134.3,981.9 1135.0,982.2 1135.8,982.5 1136.6,982.9 1137.4,983.2 1138.1,983.5 1138.9,983.8 1139.7,984.1 1140.5,984.5 1141.2,984.8 1142.0,985.1 1142.8,985.3 1143.6,985.6 1144.3,985.9 1145.1,986.2 1145.9,986.4 1146.7,986.7 1147.4,986.9 1148.2,987.2 1149.0,987.4 1149.8,987.6 1150.6,987.8 1151.3,988.0 1152.1,988.2 1152.9,988.4 1153.7,988.6 1154.4,988.7 1155.2,988.9 1156.0,989.0 1156.8,989.2 1157.5,989.3 1158.3,989.4 1159.1,989.5 1159.9,989.6 1160.6,989.8 1161.4,989.8 1162.2,989.9 1163.0,990.0 1163.7,990.1 1164.5,990.2 1165.3,990.3 1166.1,990.3 1166.8,990.4 1167.6,990.4 1168.4,990.5 1169.2,990.5 1169.9,990.6 1170.7,990.6 1171.5,990.7 1172.3,990.7 1173.0,990.7 1173.8,990.8 1174.6,990.8 1175.4,990.8 1176.1,990.9 1176.9,990.9 1177.7,990.9 1178.5,990.9 1179.2,990.9 1180.0,991.0 1180.8,991.0 1181.6,991.0 1182.3,991.0 1183.1,991.0 1183.9,991.0 1184.7,991.0 1185.4,991.1 1186.2,991.1 1187.0,991.1 1187.8,991.1 1188.5,991.1 1189.3,991.1 1190.1,991.1 1190.9,991.1 1191.6,991.1 1192.4,991.1 1193.2,991.1 1194.0,991.2 1194.7,991.2 1195.5,991.2 1196.3,991.2 1197.1,991.2 1197.8,991.2 1198.6,991.2 1199.4,991.2 1200.2,991.2 1200.9,991.2 1201.7,991.2 1202.5,991.2 1203.3,991.2 1204.0,991.2 1204.8,991.2 1205.6,991.2 1206.4,991.2 1207.1,991.2 1207.9,991.3 1208.7,991.3 1209.5,991.3 1210.2,991.3 1211.0,991.3 1211.8,991.3 1212.6,991.3 1213.3,991.3 1214.1,991.3 1214.9,991.3 1215.7,991.3 1216.4,991.3 1217.2,991.3 1218.0,991.3 1218.8,991.3 1219.6,991.3 1220.3,991.3 1221.1,991.3 1221.9,991.3 1222.7,991.3 1223.4,991.3 1224.2,991.3 1225.0,991.3 1225.8,991.3 1226.5,991.3 1227.3,991.3 1228.1,991.3 1228.9,991.3 1229.6,991.3 1230.4,991.3 1231.2,991.3 1232.0,991.3 1232.7,991.3 1233.5,991.3 1234.3,991.3 1235.1,991.3 1235.8,991.4 1236.6,991.4 1237.4,991.4 1238.2,991.4 1238.9,991.4 1239.7,991.4 1240.5,991.4 1241.3,991.4 1242.0,991.4 1242.8,991.4 1243.6,991.4 1244.4,991.4 1245.1,991.4 1245.9,991.4 1246.7,991.4 1247.5,991.4 1248.2,991.4 1249.0,991.4 1249.8,991.4 1250.6,991.4 1251.3,991.4 1252.1,991.4 1252.9,991.4 1253.7,991.4 1254.4,991.4 1255.2,991.4 1256.0,991.4 1256.8,991.4 1257.5,991.4 1258.3,991.4 1259.1,991.4 1259.9,991.4 1260.6,991.4 1261.4,991.4 1262.2,991.4 1263.0,991.4 1263.7,991.4 1264.5,991.4 1265.3,991.4 1266.1,991.4 1266.8,991.4 1267.6,991.4 1268.4,991.4 1269.2,991.4 1269.9,991.4 1270.7,991.4 1271.5,991.4 1272.3,991.4 1273.0,991.4 1273.8,991.4" fill="none" stroke="#f08c30" stroke-width="3.4" stroke-linejoin="round" stroke-linecap="round"/>
<line x1="949.60" y1="621.70" x2="949.60" y2="651.50" stroke="#222" stroke-width="1.6"/>
<polygon points="945.6,647.5 949.6,650.4 953.6,647.5 949.6,660.5" fill="#222"/>
<line x1="1008.75" y1="912.50" x2="1008.75" y2="961.00" stroke="#222" stroke-width="1.6"/>
<polygon points="1004.8,957.0 1008.8,959.9 1012.8,957.0 1008.8,970.0" fill="#222"/>
<line x1="1115.50" y1="928.75" x2="1115.50" y2="966.00" stroke="#222" stroke-width="1.6"/>
<polygon points="1111.5,962.0 1115.5,964.9 1119.5,962.0 1115.5,975.0" fill="#222"/>
<line x1="1147.00" y1="960.00" x2="1147.00" y2="982.25" stroke="#222" stroke-width="1.6"/>
<polygon points="1143.0,978.2 1147.0,981.1 1151.0,978.2 1147.0,991.2" fill="#222"/>
<text transform="translate(922.00,624.40) scale(1.0,1.1)" font-family='"Liberation Serif", serif' font-weight="bold" font-size="24.8" fill="#2430e0" text-anchor="start">C=C</text>
<text transform="translate(1004.50,903.75) scale(1.0,1.1)" font-family='"Liberation Serif", serif' font-weight="bold" font-size="25.4" fill="#e03ce0" text-anchor="start">C-OH/ C-O-C</text>
<text transform="translate(1115.00,928.75) scale(1.0,1.1)" font-family='"Liberation Serif", serif' font-weight="bold" font-size="25" fill="#f08030" text-anchor="start">HO-C=O</text>
<text transform="translate(1148.75,971.25) scale(1.0,1.1)" font-family='"Liberation Serif", serif' font-weight="bold" font-size="25.4" fill="#30e030" text-anchor="start">C=O</text>
</g>
</svg>
</body></html>
